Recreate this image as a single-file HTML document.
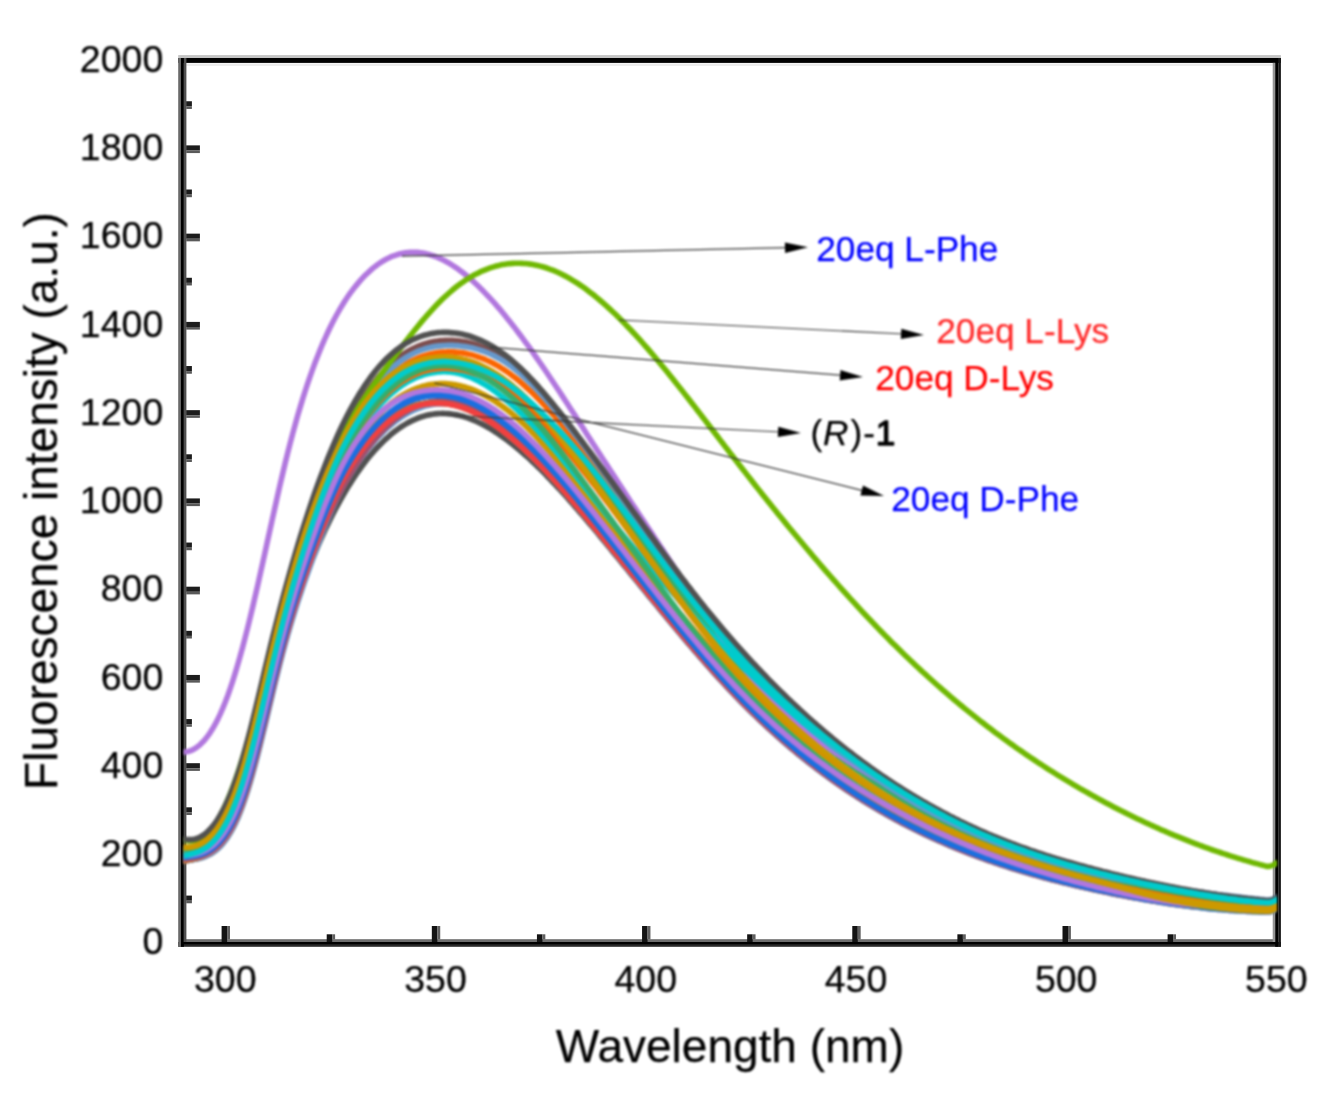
<!DOCTYPE html>
<html lang="en"><head><meta charset="utf-8"><title>Fluorescence spectra</title>
<style>html,body{margin:0;padding:0;background:#fff;overflow:hidden}svg{display:block}text{font-family:"Liberation Sans",Arial,Helvetica,sans-serif;fill:#000;stroke:#000;stroke-width:0.25px;stroke-linejoin:round}.tk{font-size:37.5px}.ti{font-size:46px}.an{font-size:35.2px}</style></head><body>
<svg width="1325" height="1095" viewBox="0 0 1325 1095">
<rect width="1325" height="1095" fill="#fff"/>
<defs><clipPath id="pc"><rect x="183.7" y="60.3" width="1093.3" height="882.6"/></clipPath><filter id="bl" x="-5%" y="-5%" width="110%" height="110%"><feGaussianBlur stdDeviation="0.9"/></filter></defs>
<g>
<rect x="178.20" y="55.10" width="1102.70" height="3.00" fill="#c4c4c4"/>
<rect x="178.20" y="58.00" width="1102.70" height="4.90" fill="#000"/>
<rect x="186.40" y="63.50" width="1086.30" height="2.40" fill="#ececec"/>
<rect x="186.00" y="939.20" width="1087.00" height="2.90" fill="#6e6e6e"/>
<rect x="178.20" y="942.00" width="1102.70" height="2.90" fill="#000"/>
<rect x="178.20" y="944.80" width="1102.70" height="2.00" fill="#2a2a2a"/>
<rect x="178.20" y="58.00" width="2.80" height="888.80" fill="#6a6a6a"/>
<rect x="180.95" y="58.00" width="2.95" height="888.80" fill="#000"/>
<rect x="183.90" y="58.00" width="2.50" height="884.00" fill="#505050"/>
<rect x="1272.70" y="62.90" width="2.50" height="879.10" fill="#959595"/>
<rect x="1275.20" y="58.00" width="3.00" height="888.80" fill="#000"/>
<rect x="1278.20" y="58.00" width="2.70" height="888.80" fill="#181818"/>
<rect x="186.20" y="895.59" width="5.70" height="5.10" fill="#1c1c1c"/>
<rect x="186.20" y="900.69" width="5.70" height="2.60" fill="#5a5a5a"/>
<rect x="186.20" y="851.46" width="13.70" height="5.10" fill="#1c1c1c"/>
<rect x="186.20" y="856.56" width="13.70" height="2.60" fill="#5a5a5a"/>
<rect x="186.20" y="807.33" width="5.70" height="5.10" fill="#1c1c1c"/>
<rect x="186.20" y="812.43" width="5.70" height="2.60" fill="#5a5a5a"/>
<rect x="186.20" y="763.20" width="13.70" height="5.10" fill="#1c1c1c"/>
<rect x="186.20" y="768.30" width="13.70" height="2.60" fill="#5a5a5a"/>
<rect x="186.20" y="719.07" width="5.70" height="5.10" fill="#1c1c1c"/>
<rect x="186.20" y="724.17" width="5.70" height="2.60" fill="#5a5a5a"/>
<rect x="186.20" y="674.94" width="13.70" height="5.10" fill="#1c1c1c"/>
<rect x="186.20" y="680.04" width="13.70" height="2.60" fill="#5a5a5a"/>
<rect x="186.20" y="630.81" width="5.70" height="5.10" fill="#1c1c1c"/>
<rect x="186.20" y="635.91" width="5.70" height="2.60" fill="#5a5a5a"/>
<rect x="186.20" y="586.68" width="13.70" height="5.10" fill="#1c1c1c"/>
<rect x="186.20" y="591.78" width="13.70" height="2.60" fill="#5a5a5a"/>
<rect x="186.20" y="542.55" width="5.70" height="5.10" fill="#1c1c1c"/>
<rect x="186.20" y="547.65" width="5.70" height="2.60" fill="#5a5a5a"/>
<rect x="186.20" y="498.42" width="13.70" height="5.10" fill="#1c1c1c"/>
<rect x="186.20" y="503.52" width="13.70" height="2.60" fill="#5a5a5a"/>
<rect x="186.20" y="454.29" width="5.70" height="5.10" fill="#1c1c1c"/>
<rect x="186.20" y="459.39" width="5.70" height="2.60" fill="#5a5a5a"/>
<rect x="186.20" y="410.16" width="13.70" height="5.10" fill="#1c1c1c"/>
<rect x="186.20" y="415.26" width="13.70" height="2.60" fill="#5a5a5a"/>
<rect x="186.20" y="366.03" width="5.70" height="5.10" fill="#1c1c1c"/>
<rect x="186.20" y="371.13" width="5.70" height="2.60" fill="#5a5a5a"/>
<rect x="186.20" y="321.90" width="13.70" height="5.10" fill="#1c1c1c"/>
<rect x="186.20" y="327.00" width="13.70" height="2.60" fill="#5a5a5a"/>
<rect x="186.20" y="277.77" width="5.70" height="5.10" fill="#1c1c1c"/>
<rect x="186.20" y="282.87" width="5.70" height="2.60" fill="#5a5a5a"/>
<rect x="186.20" y="233.64" width="13.70" height="5.10" fill="#1c1c1c"/>
<rect x="186.20" y="238.74" width="13.70" height="2.60" fill="#5a5a5a"/>
<rect x="186.20" y="189.51" width="5.70" height="5.10" fill="#1c1c1c"/>
<rect x="186.20" y="194.61" width="5.70" height="2.60" fill="#5a5a5a"/>
<rect x="186.20" y="145.38" width="13.70" height="5.10" fill="#1c1c1c"/>
<rect x="186.20" y="150.48" width="13.70" height="2.60" fill="#5a5a5a"/>
<rect x="186.20" y="101.25" width="5.70" height="5.10" fill="#1c1c1c"/>
<rect x="186.20" y="106.35" width="5.70" height="2.60" fill="#5a5a5a"/>
<rect x="221.60" y="926.00" width="5.50" height="16.00" fill="#141414"/>
<rect x="227.10" y="926.00" width="2.90" height="13.40" fill="#606060"/>
<rect x="326.71" y="934.30" width="5.50" height="7.70" fill="#141414"/>
<rect x="332.21" y="934.30" width="2.90" height="5.10" fill="#606060"/>
<rect x="431.83" y="926.00" width="5.50" height="16.00" fill="#141414"/>
<rect x="437.33" y="926.00" width="2.90" height="13.40" fill="#606060"/>
<rect x="536.94" y="934.30" width="5.50" height="7.70" fill="#141414"/>
<rect x="542.44" y="934.30" width="2.90" height="5.10" fill="#606060"/>
<rect x="642.05" y="926.00" width="5.50" height="16.00" fill="#141414"/>
<rect x="647.55" y="926.00" width="2.90" height="13.40" fill="#606060"/>
<rect x="747.16" y="934.30" width="5.50" height="7.70" fill="#141414"/>
<rect x="752.66" y="934.30" width="2.90" height="5.10" fill="#606060"/>
<rect x="852.28" y="926.00" width="5.50" height="16.00" fill="#141414"/>
<rect x="857.78" y="926.00" width="2.90" height="13.40" fill="#606060"/>
<rect x="957.39" y="934.30" width="5.50" height="7.70" fill="#141414"/>
<rect x="962.89" y="934.30" width="2.90" height="5.10" fill="#606060"/>
<rect x="1062.50" y="926.00" width="5.50" height="16.00" fill="#141414"/>
<rect x="1068.00" y="926.00" width="2.90" height="13.40" fill="#606060"/>
<rect x="1167.61" y="934.30" width="5.50" height="7.70" fill="#141414"/>
<rect x="1173.11" y="934.30" width="2.90" height="5.10" fill="#606060"/>
</g>
<g style="filter:blur(0.9px)">
<g clip-path="url(#pc)" fill="none" stroke-linejoin="round" stroke-linecap="butt">
<path d="M182.7,854.5 185.2,854.5 187.7,854.5 190.2,854.5 192.7,854.4 195.2,854.1 197.7,853.7 200.2,853.2 202.7,852.4 205.2,851.5 207.7,850.4 210.2,849.1 212.7,847.5 215.2,845.6 217.7,843.4 220.2,840.9 222.7,838.1 225.2,834.9 227.7,831.3 230.2,827.2 232.7,822.7 235.2,817.7 237.7,812.2 240.2,806.2 242.7,799.6 245.2,792.5 247.7,784.8 250.2,776.7 252.7,768.0 255.2,759.0 257.7,749.7 260.2,740.0 262.7,730.1 265.2,720.1 267.7,709.9 270.2,699.6 272.7,689.4 275.2,679.2 277.7,669.2 280.2,659.5 282.7,650.2 285.2,641.1 287.7,632.3 290.2,623.8 292.7,615.5 295.2,607.5 297.7,599.8 300.2,592.3 302.7,585.1 305.2,578.0 307.7,571.3 310.2,564.7 312.7,558.4 315.2,552.3 317.7,546.3 320.2,540.6 322.7,535.0 325.2,529.6 327.7,524.4 330.2,519.3 332.7,514.3 335.2,509.5 337.7,504.8 340.2,500.3 342.7,495.9 345.2,491.6 347.7,487.4 350.2,483.4 352.7,479.5 355.2,475.7 357.7,472.0 360.2,468.5 362.7,465.1 365.2,461.8 367.7,458.6 370.2,455.5 372.7,452.6 375.2,449.7 377.7,447.0 380.2,444.4 382.7,441.9 385.2,439.5 387.7,437.3 390.2,435.1 392.7,433.1 395.2,431.1 397.7,429.3 400.2,427.5 402.7,425.9 405.2,424.4 407.7,422.9 410.2,421.6 412.7,420.4 415.2,419.3 417.7,418.2 420.2,417.3 422.7,416.5 425.2,415.8 427.7,415.1 430.2,414.6 432.7,414.2 435.2,413.8 437.7,413.6 440.2,413.5 442.7,413.4 445.2,413.5 447.7,413.6 450.2,413.8 452.7,414.2 455.2,414.6 457.7,415.1 460.2,415.7 462.7,416.3 465.2,417.1 467.7,417.9 470.2,418.8 472.7,419.8 475.2,420.8 477.7,422.0 480.2,423.2 482.7,424.4 485.2,425.8 487.7,427.2 490.2,428.6 492.7,430.2 495.2,431.8 497.7,433.4 500.2,435.1 502.7,436.9 505.2,438.7 507.7,440.5 510.2,442.5 512.7,444.4 515.2,446.5 517.7,448.5 520.2,450.6 522.7,452.8 525.2,455.0 527.7,457.2 530.2,459.5 532.7,461.9 535.2,464.2 537.7,466.6 540.2,469.1 542.7,471.6 545.2,474.1 547.7,476.7 550.2,479.3 552.7,481.9 555.2,484.5 557.7,487.2 560.2,489.9 562.7,492.7 565.2,495.4 567.7,498.2 570.2,501.1 572.7,503.9 575.2,506.8 577.7,509.6 580.2,512.6 582.7,515.5 585.2,518.4 587.7,521.4 590.2,524.3 592.7,527.3 595.2,530.3 597.7,533.3 600.2,536.4 602.7,539.4 605.2,542.4 607.7,545.5 610.2,548.5 612.7,551.6 615.2,554.7 617.7,557.7 620.2,560.8 622.7,563.9 625.2,567.0 627.7,570.0 630.2,573.1 632.7,576.2 635.2,579.3 637.7,582.3 640.2,585.4 642.7,588.5 645.2,591.5 647.7,594.6 650.2,597.7 652.7,600.7 655.2,603.8 657.7,606.8 660.2,609.9 662.7,612.9 665.2,615.9 667.7,619.0 670.2,622.0 672.7,625.0 675.2,628.0 677.7,631.0 680.2,633.9 682.7,636.9 685.2,639.9 687.7,642.8 690.2,645.7 692.7,648.6 695.2,651.6 697.7,654.4 700.2,657.3 702.7,660.2 705.2,663.0 707.7,665.8 710.2,668.7 712.7,671.5 715.2,674.2 717.7,677.0 720.2,679.7 722.7,682.4 725.2,685.1 727.7,687.8 730.2,690.5 732.7,693.1 735.2,695.7 737.7,698.3 740.2,700.9 742.7,703.4 745.2,705.9 747.7,708.4 750.2,710.9 752.7,713.4 755.2,715.8 757.7,718.2 760.2,720.6 762.7,722.9 765.2,725.3 767.7,727.6 770.2,729.9 772.7,732.2 775.2,734.4 777.7,736.6 780.2,738.8 782.7,741.0 785.2,743.2 787.7,745.3 790.2,747.5 792.7,749.6 795.2,751.6 797.7,753.7 800.2,755.7 802.7,757.7 805.2,759.7 807.7,761.7 810.2,763.7 812.7,765.6 815.2,767.5 817.7,769.4 820.2,771.3 822.7,773.2 825.2,775.0 827.7,776.8 830.2,778.7 832.7,780.4 835.2,782.2 837.7,784.0 840.2,785.7 842.7,787.4 845.2,789.1 847.7,790.8 850.2,792.4 852.7,794.1 855.2,795.7 857.7,797.3 860.2,798.9 862.7,800.5 865.2,802.0 867.7,803.5 870.2,805.1 872.7,806.6 875.2,808.1 877.7,809.5 880.2,811.0 882.7,812.4 885.2,813.9 887.7,815.3 890.2,816.7 892.7,818.0 895.2,819.4 897.7,820.7 900.2,822.1 902.7,823.4 905.2,824.7 907.7,826.0 910.2,827.3 912.7,828.5 915.2,829.8 917.7,831.0 920.2,832.2 922.7,833.4 925.2,834.6 927.7,835.8 930.2,836.9 932.7,838.1 935.2,839.2 937.7,840.3 940.2,841.4 942.7,842.5 945.2,843.6 947.7,844.7 950.2,845.8 952.7,846.8 955.2,847.8 957.7,848.9 960.2,849.9 962.7,850.9 965.2,851.8 967.7,852.8 970.2,853.8 972.7,854.7 975.2,855.7 977.7,856.6 980.2,857.5 982.7,858.4 985.2,859.3 987.7,860.2 990.2,861.1 992.7,861.9 995.2,862.8 997.7,863.6 1000.2,864.5 1002.7,865.3 1005.2,866.1 1007.7,866.9 1010.2,867.7 1012.7,868.5 1015.2,869.3 1017.7,870.0 1020.2,870.8 1022.7,871.5 1025.2,872.3 1027.7,873.0 1030.2,873.7 1032.7,874.4 1035.2,875.1 1037.7,875.8 1040.2,876.5 1042.7,877.2 1045.2,877.9 1047.7,878.6 1050.2,879.2 1052.7,879.9 1055.2,880.5 1057.7,881.1 1060.2,881.8 1062.7,882.4 1065.2,883.0 1067.7,883.6 1070.2,884.2 1072.7,884.8 1075.2,885.4 1077.7,886.0 1080.2,886.6 1082.7,887.1 1085.2,887.7 1087.7,888.3 1090.2,888.8 1092.7,889.4 1095.2,889.9 1097.7,890.4 1100.2,891.0 1102.7,891.5 1105.2,892.0 1107.7,892.5 1110.2,893.1 1112.7,893.6 1115.2,894.1 1117.7,894.6 1120.2,895.1 1122.7,895.5 1125.2,896.0 1127.7,896.5 1130.2,897.0 1132.7,897.4 1135.2,897.9 1137.7,898.3 1140.2,898.8 1142.7,899.2 1145.2,899.7 1147.7,900.1 1150.2,900.5 1152.7,900.9 1155.2,901.3 1157.7,901.7 1160.2,902.1 1162.7,902.5 1165.2,902.9 1167.7,903.3 1170.2,903.6 1172.7,904.0 1175.2,904.4 1177.7,904.7 1180.2,905.0 1182.7,905.4 1185.2,905.7 1187.7,906.0 1190.2,906.3 1192.7,906.6 1195.2,906.9 1197.7,907.2 1200.2,907.5 1202.7,907.8 1205.2,908.1 1207.7,908.3 1210.2,908.6 1212.7,908.8 1215.2,909.0 1217.7,909.3 1220.2,909.5 1222.7,909.7 1225.2,909.9 1227.7,910.1 1230.2,910.3 1232.7,910.5 1235.2,910.6 1237.7,910.8 1240.2,911.0 1242.7,911.1 1245.2,911.2 1247.7,911.4 1250.2,911.5 1252.7,911.6 1255.2,911.7 1257.7,911.8 1260.2,911.9 1262.7,912.0 1265.2,912.0 1267.7,912.1 1270.2,911.7 1272.7,910.9 1275.2,909.5 1277.7,907.6" stroke="#515151" stroke-width="5.7"/>
<path d="M182.7,861.2 185.2,860.8 187.7,860.5 190.2,860.1 192.7,859.8 195.2,859.3 197.7,858.8 200.2,858.2 202.7,857.5 205.2,856.6 207.7,855.5 210.2,854.3 212.7,852.8 215.2,851.0 217.7,848.9 220.2,846.5 222.7,843.8 225.2,840.6 227.7,837.1 230.2,833.1 232.7,828.7 235.2,823.7 237.7,818.3 240.2,812.2 242.7,805.6 245.2,798.4 247.7,790.7 250.2,782.4 252.7,773.6 255.2,764.4 257.7,754.9 260.2,745.0 262.7,734.9 265.2,724.6 267.7,714.1 270.2,703.6 272.7,693.1 275.2,682.7 277.7,672.5 280.2,662.6 282.7,653.0 285.2,643.8 287.7,634.8 290.2,626.2 292.7,617.9 295.2,609.8 297.7,602.0 300.2,594.5 302.7,587.1 305.2,579.9 307.7,572.8 310.2,565.7 312.7,558.8 315.2,552.0 317.7,545.3 320.2,538.7 322.7,532.3 325.2,526.0 327.7,519.9 330.2,513.9 332.7,508.1 335.2,502.6 337.7,497.2 340.2,492.2 342.7,487.4 345.2,482.9 347.7,478.7 350.2,474.5 352.7,470.6 355.2,466.7 357.7,463.0 360.2,459.4 362.7,455.9 365.2,452.5 367.7,449.3 370.2,446.2 372.7,443.2 375.2,440.3 377.7,437.6 380.2,435.0 382.7,432.4 385.2,430.0 387.7,427.7 390.2,425.5 392.7,423.5 395.2,421.5 397.7,419.7 400.2,417.9 402.7,416.3 405.2,414.7 407.7,413.3 410.2,412.0 412.7,410.7 415.2,409.6 417.7,408.6 420.2,407.7 422.7,406.8 425.2,406.1 427.7,405.5 430.2,405.0 432.7,404.5 435.2,404.2 437.7,404.0 440.2,403.8 442.7,403.8 445.2,403.8 447.7,404.0 450.2,404.2 452.7,404.6 455.2,405.0 457.7,405.6 460.2,406.3 462.7,407.0 465.2,407.9 467.7,408.9 470.2,409.9 472.7,411.1 475.2,412.3 477.7,413.6 480.2,415.0 482.7,416.5 485.2,418.0 487.7,419.6 490.2,421.3 492.7,423.1 495.2,424.9 497.7,426.7 500.2,428.7 502.7,430.6 505.2,432.7 507.7,434.7 510.2,436.8 512.7,439.0 515.2,441.2 517.7,443.4 520.2,445.7 522.7,448.0 525.2,450.3 527.7,452.7 530.2,455.2 532.7,457.6 535.2,460.1 537.7,462.7 540.2,465.3 542.7,467.9 545.2,470.6 547.7,473.3 550.2,476.0 552.7,478.7 555.2,481.5 557.7,484.3 560.2,487.2 562.7,490.0 565.2,492.9 567.7,495.8 570.2,498.7 572.7,501.7 575.2,504.6 577.7,507.6 580.2,510.6 582.7,513.6 585.2,516.6 587.7,519.7 590.2,522.7 592.7,525.8 595.2,528.8 597.7,531.9 600.2,535.0 602.7,538.0 605.2,541.1 607.7,544.2 610.2,547.3 612.7,550.4 615.2,553.5 617.7,556.6 620.2,559.7 622.7,562.8 625.2,566.0 627.7,569.1 630.2,572.2 632.7,575.3 635.2,578.4 637.7,581.5 640.2,584.6 642.7,587.7 645.2,590.8 647.7,593.9 650.2,597.0 652.7,600.1 655.2,603.2 657.7,606.3 660.2,609.3 662.7,612.4 665.2,615.5 667.7,618.5 670.2,621.6 672.7,624.6 675.2,627.6 677.7,630.6 680.2,633.6 682.7,636.6 685.2,639.6 687.7,642.5 690.2,645.5 692.7,648.4 695.2,651.3 697.7,654.2 700.2,657.1 702.7,660.0 705.2,662.9 707.7,665.7 710.2,668.5 712.7,671.3 715.2,674.1 717.7,676.9 720.2,679.6 722.7,682.4 725.2,685.1 727.7,687.8 730.2,690.4 732.7,693.1 735.2,695.7 737.7,698.3 740.2,700.9 742.7,703.4 745.2,705.9 747.7,708.4 750.2,710.9 752.7,713.4 755.2,715.8 757.7,718.2 760.2,720.6 762.7,722.9 765.2,725.3 767.7,727.6 770.2,729.9 772.7,732.2 775.2,734.4 777.7,736.6 780.2,738.8 782.7,741.0 785.2,743.2 787.7,745.3 790.2,747.5 792.7,749.6 795.2,751.6 797.7,753.7 800.2,755.7 802.7,757.7 805.2,759.7 807.7,761.7 810.2,763.7 812.7,765.6 815.2,767.5 817.7,769.4 820.2,771.3 822.7,773.2 825.2,775.0 827.7,776.8 830.2,778.7 832.7,780.4 835.2,782.2 837.7,784.0 840.2,785.7 842.7,787.4 845.2,789.1 847.7,790.8 850.2,792.4 852.7,794.1 855.2,795.7 857.7,797.3 860.2,798.9 862.7,800.5 865.2,802.0 867.7,803.5 870.2,805.1 872.7,806.6 875.2,808.1 877.7,809.5 880.2,811.0 882.7,812.4 885.2,813.9 887.7,815.3 890.2,816.7 892.7,818.0 895.2,819.4 897.7,820.7 900.2,822.1 902.7,823.4 905.2,824.7 907.7,826.0 910.2,827.3 912.7,828.5 915.2,829.8 917.7,831.0 920.2,832.2 922.7,833.4 925.2,834.6 927.7,835.8 930.2,836.9 932.7,838.1 935.2,839.2 937.7,840.3 940.2,841.4 942.7,842.5 945.2,843.6 947.7,844.7 950.2,845.8 952.7,846.8 955.2,847.8 957.7,848.9 960.2,849.9 962.7,850.9 965.2,851.8 967.7,852.8 970.2,853.8 972.7,854.7 975.2,855.7 977.7,856.6 980.2,857.5 982.7,858.4 985.2,859.3 987.7,860.2 990.2,861.1 992.7,861.9 995.2,862.8 997.7,863.6 1000.2,864.5 1002.7,865.3 1005.2,866.1 1007.7,866.9 1010.2,867.7 1012.7,868.5 1015.2,869.3 1017.7,870.0 1020.2,870.8 1022.7,871.5 1025.2,872.3 1027.7,873.0 1030.2,873.7 1032.7,874.4 1035.2,875.1 1037.7,875.8 1040.2,876.5 1042.7,877.2 1045.2,877.9 1047.7,878.6 1050.2,879.2 1052.7,879.9 1055.2,880.5 1057.7,881.1 1060.2,881.8 1062.7,882.4 1065.2,883.0 1067.7,883.6 1070.2,884.2 1072.7,884.8 1075.2,885.4 1077.7,886.0 1080.2,886.6 1082.7,887.1 1085.2,887.7 1087.7,888.3 1090.2,888.8 1092.7,889.4 1095.2,889.9 1097.7,890.4 1100.2,891.0 1102.7,891.5 1105.2,892.0 1107.7,892.5 1110.2,893.1 1112.7,893.6 1115.2,894.1 1117.7,894.6 1120.2,895.1 1122.7,895.5 1125.2,896.0 1127.7,896.5 1130.2,897.0 1132.7,897.4 1135.2,897.9 1137.7,898.3 1140.2,898.8 1142.7,899.2 1145.2,899.7 1147.7,900.1 1150.2,900.5 1152.7,900.9 1155.2,901.3 1157.7,901.7 1160.2,902.1 1162.7,902.5 1165.2,902.9 1167.7,903.3 1170.2,903.6 1172.7,904.0 1175.2,904.4 1177.7,904.7 1180.2,905.0 1182.7,905.4 1185.2,905.7 1187.7,906.0 1190.2,906.3 1192.7,906.6 1195.2,906.9 1197.7,907.2 1200.2,907.5 1202.7,907.8 1205.2,908.1 1207.7,908.3 1210.2,908.6 1212.7,908.8 1215.2,909.0 1217.7,909.3 1220.2,909.5 1222.7,909.7 1225.2,909.9 1227.7,910.1 1230.2,910.3 1232.7,910.5 1235.2,910.6 1237.7,910.8 1240.2,911.0 1242.7,911.1 1245.2,911.2 1247.7,911.4 1250.2,911.5 1252.7,911.6 1255.2,911.7 1257.7,911.8 1260.2,911.9 1262.7,912.0 1265.2,912.0 1267.7,912.1 1270.2,911.7 1272.7,910.9 1275.2,909.5 1277.7,907.6" stroke="#6699CC" stroke-width="5.7"/>
<path d="M182.7,859.0 185.2,858.7 187.7,858.4 190.2,858.1 192.7,857.8 195.2,857.4 197.7,856.8 200.2,856.2 202.7,855.4 205.2,854.4 207.7,853.3 210.2,851.9 212.7,850.2 215.2,848.3 217.7,846.1 220.2,843.5 222.7,840.6 225.2,837.3 227.7,833.6 230.2,829.5 232.7,824.8 235.2,819.7 237.7,814.1 240.2,807.9 242.7,801.1 245.2,793.7 247.7,785.8 250.2,777.3 252.7,768.4 255.2,759.1 257.7,749.4 260.2,739.4 262.7,729.2 265.2,718.8 267.7,708.3 270.2,697.8 272.7,687.2 275.2,676.8 277.7,666.6 280.2,656.7 282.7,647.1 285.2,637.8 287.7,628.8 290.2,620.1 292.7,611.6 295.2,603.5 297.7,595.6 300.2,587.9 302.7,580.5 305.2,573.3 307.7,566.3 310.2,559.6 312.7,553.0 315.2,546.6 317.7,540.5 320.2,534.4 322.7,528.6 325.2,522.9 327.7,517.4 330.2,512.1 332.7,506.8 335.2,501.8 337.7,496.8 340.2,492.0 342.7,487.4 345.2,482.9 347.7,478.5 350.2,474.3 352.7,470.2 355.2,466.3 357.7,462.4 360.2,458.7 362.7,455.1 365.2,451.6 367.7,448.3 370.2,445.1 372.7,442.0 375.2,439.0 377.7,436.1 380.2,433.4 382.7,430.8 385.2,428.2 387.7,425.9 390.2,423.6 392.7,421.4 395.2,419.3 397.7,417.4 400.2,415.5 402.7,413.8 405.2,412.2 407.7,410.7 410.2,409.3 412.7,408.0 415.2,406.8 417.7,405.7 420.2,404.7 422.7,403.8 425.2,403.1 427.7,402.4 430.2,401.8 432.7,401.3 435.2,401.0 437.7,400.7 440.2,400.5 442.7,400.5 445.2,400.5 447.7,400.6 450.2,400.9 452.7,401.2 455.2,401.6 457.7,402.2 460.2,402.8 462.7,403.6 465.2,404.4 467.7,405.3 470.2,406.4 472.7,407.5 475.2,408.7 477.7,409.9 480.2,411.3 482.7,412.7 485.2,414.2 487.7,415.8 490.2,417.4 492.7,419.1 495.2,420.9 497.7,422.8 500.2,424.6 502.7,426.6 505.2,428.6 507.7,430.6 510.2,432.7 512.7,434.9 515.2,437.1 517.7,439.3 520.2,441.5 522.7,443.8 525.2,446.2 527.7,448.6 530.2,451.1 532.7,453.5 535.2,456.1 537.7,458.7 540.2,461.3 542.7,463.9 545.2,466.6 547.7,469.3 550.2,472.1 552.7,474.9 555.2,477.7 557.7,480.5 560.2,483.4 562.7,486.3 565.2,489.2 567.7,492.1 570.2,495.0 572.7,498.0 575.2,501.0 577.7,504.0 580.2,507.0 582.7,510.0 585.2,513.1 587.7,516.1 590.2,519.2 592.7,522.2 595.2,525.3 597.7,528.4 600.2,531.4 602.7,534.5 605.2,537.6 607.7,540.7 610.2,543.8 612.7,546.9 615.2,550.0 617.7,553.1 620.2,556.2 622.7,559.3 625.2,562.5 627.7,565.6 630.2,568.7 632.7,571.8 635.2,574.9 637.7,578.0 640.2,581.2 642.7,584.3 645.2,587.4 647.7,590.5 650.2,593.6 652.7,596.7 655.2,599.7 657.7,602.8 660.2,605.9 662.7,609.0 665.2,612.0 667.7,615.1 670.2,618.1 672.7,621.2 675.2,624.2 677.7,627.2 680.2,630.2 682.7,633.2 685.2,636.2 687.7,639.2 690.2,642.1 692.7,645.1 695.2,648.0 697.7,650.9 700.2,653.8 702.7,656.7 705.2,659.5 707.7,662.4 710.2,665.2 712.7,668.0 715.2,670.8 717.7,673.6 720.2,676.4 722.7,679.1 725.2,681.8 727.7,684.5 730.2,687.2 732.7,689.9 735.2,692.5 737.7,695.1 740.2,697.7 742.7,700.3 745.2,702.8 747.7,705.3 750.2,707.8 752.7,710.3 755.2,712.7 757.7,715.2 760.2,717.6 762.7,720.0 765.2,722.3 767.7,724.7 770.2,727.0 772.7,729.3 775.2,731.6 777.7,733.8 780.2,736.0 782.7,738.2 785.2,740.4 787.7,742.6 790.2,744.7 792.7,746.9 795.2,749.0 797.7,751.1 800.2,753.1 802.7,755.2 805.2,757.2 807.7,759.2 810.2,761.2 812.7,763.1 815.2,765.1 817.7,767.0 820.2,768.9 822.7,770.8 825.2,772.7 827.7,774.5 830.2,776.3 832.7,778.2 835.2,779.9 837.7,781.7 840.2,783.5 842.7,785.2 845.2,786.9 847.7,788.6 850.2,790.3 852.7,792.0 855.2,793.6 857.7,795.2 860.2,796.8 862.7,798.4 865.2,800.0 867.7,801.6 870.2,803.1 872.7,804.6 875.2,806.1 877.7,807.6 880.2,809.1 882.7,810.6 885.2,812.0 887.7,813.4 890.2,814.9 892.7,816.2 895.2,817.6 897.7,819.0 900.2,820.3 902.7,821.7 905.2,823.0 907.7,824.3 910.2,825.6 912.7,826.9 915.2,828.1 917.7,829.4 920.2,830.6 922.7,831.8 925.2,833.0 927.7,834.2 930.2,835.4 932.7,836.5 935.2,837.7 937.7,838.8 940.2,839.9 942.7,841.0 945.2,842.1 947.7,843.2 950.2,844.3 952.7,845.3 955.2,846.4 957.7,847.4 960.2,848.4 962.7,849.4 965.2,850.4 967.7,851.4 970.2,852.4 972.7,853.3 975.2,854.3 977.7,855.2 980.2,856.2 982.7,857.1 985.2,858.0 987.7,858.9 990.2,859.8 992.7,860.6 995.2,861.5 997.7,862.4 1000.2,863.2 1002.7,864.0 1005.2,864.8 1007.7,865.7 1010.2,866.5 1012.7,867.3 1015.2,868.0 1017.7,868.8 1020.2,869.6 1022.7,870.3 1025.2,871.1 1027.7,871.8 1030.2,872.5 1032.7,873.3 1035.2,874.0 1037.7,874.7 1040.2,875.4 1042.7,876.1 1045.2,876.7 1047.7,877.4 1050.2,878.1 1052.7,878.7 1055.2,879.4 1057.7,880.0 1060.2,880.7 1062.7,881.3 1065.2,881.9 1067.7,882.5 1070.2,883.1 1072.7,883.7 1075.2,884.3 1077.7,884.9 1080.2,885.5 1082.7,886.1 1085.2,886.7 1087.7,887.2 1090.2,887.8 1092.7,888.3 1095.2,888.9 1097.7,889.4 1100.2,890.0 1102.7,890.5 1105.2,891.0 1107.7,891.5 1110.2,892.1 1112.7,892.6 1115.2,893.1 1117.7,893.6 1120.2,894.1 1122.7,894.6 1125.2,895.1 1127.7,895.5 1130.2,896.0 1132.7,896.5 1135.2,896.9 1137.7,897.4 1140.2,897.9 1142.7,898.3 1145.2,898.7 1147.7,899.2 1150.2,899.6 1152.7,900.0 1155.2,900.4 1157.7,900.8 1160.2,901.2 1162.7,901.6 1165.2,902.0 1167.7,902.4 1170.2,902.8 1172.7,903.2 1175.2,903.5 1177.7,903.9 1180.2,904.2 1182.7,904.6 1185.2,904.9 1187.7,905.2 1190.2,905.5 1192.7,905.8 1195.2,906.1 1197.7,906.4 1200.2,906.7 1202.7,907.0 1205.2,907.3 1207.7,907.6 1210.2,907.8 1212.7,908.1 1215.2,908.3 1217.7,908.5 1220.2,908.8 1222.7,909.0 1225.2,909.2 1227.7,909.4 1230.2,909.6 1232.7,909.8 1235.2,910.0 1237.7,910.1 1240.2,910.3 1242.7,910.5 1245.2,910.6 1247.7,910.7 1250.2,910.9 1252.7,911.0 1255.2,911.1 1257.7,911.2 1260.2,911.3 1262.7,911.4 1265.2,911.4 1267.7,911.5 1270.2,911.2 1272.7,910.3 1275.2,909.0 1277.7,907.1" stroke="#A0506E" stroke-width="5.7"/>
<path d="M182.7,856.7 185.2,856.5 187.7,856.2 190.2,855.9 192.7,855.5 195.2,855.0 197.7,854.4 200.2,853.6 202.7,852.7 205.2,851.5 207.7,850.2 210.2,848.6 212.7,846.7 215.2,844.5 217.7,842.0 220.2,839.2 222.7,836.0 225.2,832.4 227.7,828.4 230.2,824.0 232.7,819.1 235.2,813.7 237.7,807.8 240.2,801.3 242.7,794.3 245.2,786.7 247.7,778.5 250.2,769.8 252.7,760.7 255.2,751.2 257.7,741.3 260.2,731.2 262.7,720.9 265.2,710.4 267.7,699.9 270.2,689.3 272.7,678.7 275.2,668.3 277.7,658.1 280.2,648.2 282.7,638.5 285.2,629.2 287.7,620.1 290.2,611.3 292.7,602.7 295.2,594.4 297.7,586.4 300.2,578.6 302.7,571.0 305.2,563.6 307.7,556.4 310.2,549.4 312.7,542.6 315.2,536.0 317.7,529.5 320.2,523.3 322.7,517.2 325.2,511.2 327.7,505.5 330.2,499.9 332.7,494.5 335.2,489.2 337.7,484.1 340.2,479.2 342.7,474.5 345.2,469.9 347.7,465.6 350.2,461.3 352.7,457.2 355.2,453.3 357.7,449.5 360.2,445.9 362.7,442.4 365.2,439.0 367.7,435.8 370.2,432.7 372.7,429.7 375.2,426.8 377.7,424.1 380.2,421.6 382.7,419.1 385.2,416.8 387.7,414.6 390.2,412.5 392.7,410.5 395.2,408.6 397.7,406.9 400.2,405.3 402.7,403.7 405.2,402.3 407.7,401.0 410.2,399.8 412.7,398.8 415.2,397.8 417.7,396.9 420.2,396.1 422.7,395.4 425.2,394.8 427.7,394.3 430.2,394.0 432.7,393.7 435.2,393.4 437.7,393.3 440.2,393.3 442.7,393.4 445.2,393.5 447.7,393.8 450.2,394.1 452.7,394.5 455.2,395.0 457.7,395.6 460.2,396.2 462.7,397.0 465.2,397.8 467.7,398.8 470.2,399.7 472.7,400.8 475.2,402.0 477.7,403.2 480.2,404.5 482.7,405.9 485.2,407.3 487.7,408.8 490.2,410.4 492.7,412.0 495.2,413.7 497.7,415.5 500.2,417.3 502.7,419.2 505.2,421.2 507.7,423.2 510.2,425.3 512.7,427.4 515.2,429.6 517.7,431.8 520.2,434.1 522.7,436.4 525.2,438.8 527.7,441.2 530.2,443.7 532.7,446.3 535.2,448.8 537.7,451.5 540.2,454.1 542.7,456.8 545.2,459.5 547.7,462.3 550.2,465.1 552.7,467.9 555.2,470.8 557.7,473.7 560.2,476.6 562.7,479.6 565.2,482.5 567.7,485.5 570.2,488.5 572.7,491.6 575.2,494.6 577.7,497.7 580.2,500.7 582.7,503.8 585.2,506.9 587.7,510.1 590.2,513.2 592.7,516.3 595.2,519.5 597.7,522.6 600.2,525.8 602.7,529.0 605.2,532.1 607.7,535.3 610.2,538.5 612.7,541.7 615.2,544.9 617.7,548.1 620.2,551.2 622.7,554.4 625.2,557.6 627.7,560.8 630.2,564.0 632.7,567.2 635.2,570.4 637.7,573.6 640.2,576.7 642.7,579.9 645.2,583.1 647.7,586.3 650.2,589.4 652.7,592.6 655.2,595.7 657.7,598.9 660.2,602.0 662.7,605.1 665.2,608.3 667.7,611.4 670.2,614.5 672.7,617.6 675.2,620.7 677.7,623.7 680.2,626.8 682.7,629.8 685.2,632.9 687.7,635.9 690.2,638.9 692.7,641.9 695.2,644.9 697.7,647.8 700.2,650.8 702.7,653.7 705.2,656.6 707.7,659.5 710.2,662.4 712.7,665.2 715.2,668.1 717.7,670.9 720.2,673.7 722.7,676.5 725.2,679.3 727.7,682.0 730.2,684.7 732.7,687.4 735.2,690.1 737.7,692.7 740.2,695.4 742.7,698.0 745.2,700.6 747.7,703.1 750.2,705.7 752.7,708.2 755.2,710.7 757.7,713.1 760.2,715.6 762.7,718.0 765.2,720.4 767.7,722.8 770.2,725.2 772.7,727.5 775.2,729.8 777.7,732.1 780.2,734.4 782.7,736.6 785.2,738.9 787.7,741.1 790.2,743.3 792.7,745.5 795.2,747.6 797.7,749.7 800.2,751.8 802.7,753.9 805.2,756.0 807.7,758.0 810.2,760.1 812.7,762.1 815.2,764.1 817.7,766.0 820.2,768.0 822.7,769.9 825.2,771.8 827.7,773.7 830.2,775.6 832.7,777.4 835.2,779.3 837.7,781.1 840.2,782.9 842.7,784.6 845.2,786.4 847.7,788.1 850.2,789.8 852.7,791.5 855.2,793.2 857.7,794.9 860.2,796.5 862.7,798.1 865.2,799.7 867.7,801.3 870.2,802.9 872.7,804.4 875.2,805.9 877.7,807.5 880.2,809.0 882.7,810.4 885.2,811.9 887.7,813.3 890.2,814.8 892.7,816.2 895.2,817.6 897.7,818.9 900.2,820.3 902.7,821.6 905.2,823.0 907.7,824.3 910.2,825.6 912.7,826.8 915.2,828.1 917.7,829.4 920.2,830.6 922.7,831.8 925.2,833.0 927.7,834.2 930.2,835.4 932.7,836.5 935.2,837.7 937.7,838.8 940.2,839.9 942.7,841.0 945.2,842.1 947.7,843.2 950.2,844.3 952.7,845.3 955.2,846.4 957.7,847.4 960.2,848.4 962.7,849.4 965.2,850.4 967.7,851.4 970.2,852.4 972.7,853.3 975.2,854.3 977.7,855.2 980.2,856.2 982.7,857.1 985.2,858.0 987.7,858.9 990.2,859.8 992.7,860.6 995.2,861.5 997.7,862.4 1000.2,863.2 1002.7,864.0 1005.2,864.8 1007.7,865.7 1010.2,866.5 1012.7,867.3 1015.2,868.0 1017.7,868.8 1020.2,869.6 1022.7,870.3 1025.2,871.1 1027.7,871.8 1030.2,872.5 1032.7,873.3 1035.2,874.0 1037.7,874.7 1040.2,875.4 1042.7,876.1 1045.2,876.7 1047.7,877.4 1050.2,878.1 1052.7,878.7 1055.2,879.4 1057.7,880.0 1060.2,880.7 1062.7,881.3 1065.2,881.9 1067.7,882.5 1070.2,883.1 1072.7,883.7 1075.2,884.3 1077.7,884.9 1080.2,885.5 1082.7,886.1 1085.2,886.7 1087.7,887.2 1090.2,887.8 1092.7,888.3 1095.2,888.9 1097.7,889.4 1100.2,890.0 1102.7,890.5 1105.2,891.0 1107.7,891.5 1110.2,892.1 1112.7,892.6 1115.2,893.1 1117.7,893.6 1120.2,894.1 1122.7,894.6 1125.2,895.1 1127.7,895.5 1130.2,896.0 1132.7,896.5 1135.2,896.9 1137.7,897.4 1140.2,897.9 1142.7,898.3 1145.2,898.7 1147.7,899.2 1150.2,899.6 1152.7,900.0 1155.2,900.4 1157.7,900.8 1160.2,901.2 1162.7,901.6 1165.2,902.0 1167.7,902.4 1170.2,902.8 1172.7,903.2 1175.2,903.5 1177.7,903.9 1180.2,904.2 1182.7,904.6 1185.2,904.9 1187.7,905.2 1190.2,905.5 1192.7,905.8 1195.2,906.1 1197.7,906.4 1200.2,906.7 1202.7,907.0 1205.2,907.3 1207.7,907.6 1210.2,907.8 1212.7,908.1 1215.2,908.3 1217.7,908.5 1220.2,908.8 1222.7,909.0 1225.2,909.2 1227.7,909.4 1230.2,909.6 1232.7,909.8 1235.2,910.0 1237.7,910.1 1240.2,910.3 1242.7,910.5 1245.2,910.6 1247.7,910.7 1250.2,910.9 1252.7,911.0 1255.2,911.1 1257.7,911.2 1260.2,911.3 1262.7,911.4 1265.2,911.4 1267.7,911.5 1270.2,911.2 1272.7,910.3 1275.2,909.0 1277.7,907.1" stroke="#1A6FDF" stroke-width="5.7"/>
<path d="M182.7,850.0 185.2,850.0 187.7,850.0 190.2,849.8 192.7,849.5 195.2,849.0 197.7,848.3 200.2,847.4 202.7,846.3 205.2,844.9 207.7,843.2 210.2,841.3 212.7,839.0 215.2,836.4 217.7,833.5 220.2,830.2 222.7,826.5 225.2,822.4 227.7,817.9 230.2,813.0 232.7,807.5 235.2,801.6 237.7,795.2 240.2,788.3 242.7,780.8 245.2,772.7 247.7,764.2 250.2,755.2 252.7,745.8 255.2,736.1 257.7,726.1 260.2,715.9 262.7,705.6 265.2,695.1 267.7,684.7 270.2,674.3 272.7,664.0 275.2,653.8 277.7,643.8 280.2,634.1 282.7,624.6 285.2,615.4 287.7,606.4 290.2,597.6 292.7,589.1 295.2,580.8 297.7,572.7 300.2,564.9 302.7,557.2 305.2,549.8 307.7,542.6 310.2,535.5 312.7,528.7 315.2,522.0 317.7,515.6 320.2,509.3 322.7,503.2 325.2,497.3 327.7,491.5 330.2,485.9 332.7,480.5 335.2,475.2 337.7,470.0 340.2,465.0 342.7,460.2 345.2,455.5 347.7,451.0 350.2,446.6 352.7,442.3 355.2,438.1 357.7,434.1 360.2,430.2 362.7,426.4 365.2,422.7 367.7,419.2 370.2,415.7 372.7,412.4 375.2,409.2 377.7,406.2 380.2,403.2 382.7,400.4 385.2,397.7 387.7,395.1 390.2,392.6 392.7,390.2 395.2,387.9 397.7,385.8 400.2,383.7 402.7,381.8 405.2,380.0 407.7,378.3 410.2,376.7 412.7,375.2 415.2,373.9 417.7,372.6 420.2,371.5 422.7,370.4 425.2,369.5 427.7,368.7 430.2,368.0 432.7,367.4 435.2,366.9 437.7,366.5 440.2,366.2 442.7,366.0 445.2,365.9 447.7,365.9 450.2,366.1 452.7,366.3 455.2,366.5 457.7,366.9 460.2,367.4 462.7,367.9 465.2,368.5 467.7,369.2 470.2,370.0 472.7,370.9 475.2,371.8 477.7,372.8 480.2,373.9 482.7,375.1 485.2,376.3 487.7,377.7 490.2,379.0 492.7,380.5 495.2,382.0 497.7,383.6 500.2,385.3 502.7,387.0 505.2,388.8 507.7,390.7 510.2,392.6 512.7,394.6 515.2,396.7 517.7,398.8 520.2,401.0 522.7,403.2 525.2,405.4 527.7,407.7 530.2,410.0 532.7,412.3 535.2,414.6 537.7,417.0 540.2,419.4 542.7,421.8 545.2,424.2 547.7,426.7 550.2,429.2 552.7,431.8 555.2,434.4 557.7,437.0 560.2,439.6 562.7,442.3 565.2,445.0 567.7,447.8 570.2,450.5 572.7,453.4 575.2,456.2 577.7,459.1 580.2,462.0 582.7,465.0 585.2,468.0 587.7,471.1 590.2,474.2 592.7,477.3 595.2,480.5 597.7,483.7 600.2,487.0 602.7,490.3 605.2,493.6 607.7,497.0 610.2,500.3 612.7,503.6 615.2,507.0 617.7,510.3 620.2,513.7 622.7,517.1 625.2,520.4 627.7,523.8 630.2,527.2 632.7,530.5 635.2,533.9 637.7,537.3 640.2,540.6 642.7,544.0 645.2,547.4 647.7,550.7 650.2,554.1 652.7,557.4 655.2,560.8 657.7,564.1 660.2,567.4 662.7,570.7 665.2,574.1 667.7,577.4 670.2,580.6 672.7,583.9 675.2,587.2 677.7,590.4 680.2,593.7 682.7,596.9 685.2,600.1 687.7,603.3 690.2,606.4 692.7,609.6 695.2,612.7 697.7,615.8 700.2,618.9 702.7,622.0 705.2,625.1 707.7,628.1 710.2,631.1 712.7,634.1 715.2,637.1 717.7,640.0 720.2,642.9 722.7,645.8 725.2,648.7 727.7,651.6 730.2,654.4 732.7,657.2 735.2,660.0 737.7,662.8 740.2,665.5 742.7,668.2 745.2,670.9 747.7,673.6 750.2,676.2 752.7,678.9 755.2,681.5 757.7,684.0 760.2,686.6 762.7,689.1 765.2,691.6 767.7,694.1 770.2,696.6 772.7,699.0 775.2,701.5 777.7,703.9 780.2,706.3 782.7,708.6 785.2,711.0 787.7,713.3 790.2,715.6 792.7,717.9 795.2,720.1 797.7,722.3 800.2,724.6 802.7,726.8 805.2,728.9 807.7,731.1 810.2,733.2 812.7,735.4 815.2,737.5 817.7,739.5 820.2,741.6 822.7,743.6 825.2,745.7 827.7,747.7 830.2,749.6 832.7,751.6 835.2,753.6 837.7,755.5 840.2,757.4 842.7,759.3 845.2,761.2 847.7,763.0 850.2,764.8 852.7,766.7 855.2,768.5 857.7,770.3 860.2,772.0 862.7,773.8 865.2,775.5 867.7,777.2 870.2,778.9 872.7,780.6 875.2,782.3 877.7,783.9 880.2,785.5 882.7,787.1 885.2,788.7 887.7,790.3 890.2,791.9 892.7,793.4 895.2,795.0 897.7,796.5 900.2,798.0 902.7,799.5 905.2,801.0 907.7,802.4 910.2,803.9 912.7,805.3 915.2,806.7 917.7,808.1 920.2,809.5 922.7,810.8 925.2,812.2 927.7,813.5 930.2,814.8 932.7,816.1 935.2,817.4 937.7,818.7 940.2,819.9 942.7,821.2 945.2,822.4 947.7,823.6 950.2,824.8 952.7,826.0 955.2,827.1 957.7,828.3 960.2,829.4 962.7,830.6 965.2,831.7 967.7,832.8 970.2,833.9 972.7,835.0 975.2,836.0 977.7,837.1 980.2,838.1 982.7,839.2 985.2,840.2 987.7,841.2 990.2,842.2 992.7,843.2 995.2,844.2 997.7,845.1 1000.2,846.1 1002.7,847.0 1005.2,848.0 1007.7,848.9 1010.2,849.8 1012.7,850.7 1015.2,851.6 1017.7,852.5 1020.2,853.4 1022.7,854.3 1025.2,855.1 1027.7,856.0 1030.2,856.8 1032.7,857.6 1035.2,858.5 1037.7,859.3 1040.2,860.1 1042.7,860.9 1045.2,861.7 1047.7,862.5 1050.2,863.2 1052.7,864.0 1055.2,864.8 1057.7,865.5 1060.2,866.3 1062.7,867.0 1065.2,867.7 1067.7,868.4 1070.2,869.1 1072.7,869.9 1075.2,870.6 1077.7,871.2 1080.2,871.9 1082.7,872.6 1085.2,873.3 1087.7,874.0 1090.2,874.6 1092.7,875.3 1095.2,875.9 1097.7,876.6 1100.2,877.2 1102.7,877.9 1105.2,878.5 1107.7,879.1 1110.2,879.8 1112.7,880.4 1115.2,881.0 1117.7,881.7 1120.2,882.3 1122.7,882.9 1125.2,883.5 1127.7,884.2 1130.2,884.8 1132.7,885.4 1135.2,886.0 1137.7,886.6 1140.2,887.2 1142.7,887.7 1145.2,888.3 1147.7,888.9 1150.2,889.4 1152.7,890.0 1155.2,890.5 1157.7,891.1 1160.2,891.6 1162.7,892.1 1165.2,892.6 1167.7,893.1 1170.2,893.6 1172.7,894.1 1175.2,894.5 1177.7,895.0 1180.2,895.5 1182.7,895.9 1185.2,896.4 1187.7,896.8 1190.2,897.2 1192.7,897.6 1195.2,898.1 1197.7,898.5 1200.2,898.9 1202.7,899.3 1205.2,899.6 1207.7,900.0 1210.2,900.4 1212.7,900.7 1215.2,901.1 1217.7,901.4 1220.2,901.7 1222.7,902.1 1225.2,902.4 1227.7,902.7 1230.2,903.0 1232.7,903.2 1235.2,903.5 1237.7,903.8 1240.2,904.0 1242.7,904.3 1245.2,904.5 1247.7,904.7 1250.2,904.9 1252.7,905.1 1255.2,905.3 1257.7,905.5 1260.2,905.7 1262.7,905.9 1265.2,906.0 1267.7,906.1 1270.2,905.9 1272.7,905.1 1275.2,903.8 1277.7,902.1" stroke="#37AD6B" stroke-width="5.7"/>
<path d="M182.7,752.1 185.2,752.0 187.7,751.6 190.2,750.8 192.7,749.8 195.2,748.4 197.7,746.6 200.2,744.6 202.7,742.1 205.2,739.3 207.7,736.1 210.2,732.6 212.7,728.6 215.2,724.2 217.7,719.4 220.2,714.1 222.7,708.4 225.2,702.3 227.7,695.7 230.2,688.6 232.7,681.1 235.2,673.1 237.7,664.8 240.2,656.1 242.7,646.9 245.2,637.4 247.7,627.6 250.2,617.4 252.7,607.0 255.2,596.2 257.7,585.3 260.2,574.2 262.7,562.9 265.2,551.6 267.7,540.2 270.2,528.8 272.7,517.5 275.2,506.3 277.7,495.1 280.2,484.2 282.7,473.5 285.2,463.0 287.7,452.9 290.2,443.1 292.7,433.6 295.2,424.4 297.7,415.6 300.2,407.1 302.7,398.9 305.2,391.0 307.7,383.4 310.2,376.1 312.7,369.1 315.2,362.3 317.7,355.9 320.2,349.6 322.7,343.7 325.2,338.0 327.7,332.5 330.2,327.3 332.7,322.3 335.2,317.5 337.7,313.0 340.2,308.6 342.7,304.5 345.2,300.5 347.7,296.8 350.2,293.2 352.7,289.8 355.2,286.6 357.7,283.6 360.2,280.7 362.7,277.9 365.2,275.3 367.7,272.9 370.2,270.6 372.7,268.4 375.2,266.4 377.7,264.5 380.2,262.8 382.7,261.2 385.2,259.8 387.7,258.4 390.2,257.2 392.7,256.2 395.2,255.3 397.7,254.5 400.2,253.8 402.7,253.2 405.2,252.8 407.7,252.5 410.2,252.3 412.7,252.2 415.2,252.2 417.7,252.4 420.2,252.7 422.7,253.0 425.2,253.5 427.7,254.1 430.2,254.8 432.7,255.6 435.2,256.5 437.7,257.5 440.2,258.6 442.7,259.8 445.2,261.1 447.7,262.4 450.2,263.9 452.7,265.5 455.2,267.1 457.7,268.8 460.2,270.7 462.7,272.6 465.2,274.5 467.7,276.6 470.2,278.7 472.7,280.9 475.2,283.2 477.7,285.6 480.2,288.0 482.7,290.5 485.2,293.1 487.7,295.7 490.2,298.4 492.7,301.1 495.2,303.9 497.7,306.8 500.2,309.7 502.7,312.7 505.2,315.8 507.7,318.9 510.2,322.0 512.7,325.2 515.2,328.4 517.7,331.7 520.2,335.0 522.7,338.4 525.2,341.8 527.7,345.2 530.2,348.7 532.7,352.2 535.2,355.8 537.7,359.4 540.2,363.0 542.7,366.6 545.2,370.3 547.7,374.0 550.2,377.7 552.7,381.5 555.2,385.2 557.7,389.0 560.2,392.8 562.7,396.6 565.2,400.5 567.7,404.3 570.2,408.2 572.7,412.1 575.2,415.9 577.7,419.8 580.2,423.7 582.7,427.6 585.2,431.5 587.7,435.4 590.2,439.3 592.7,443.2 595.2,447.1 597.7,451.0 600.2,454.8 602.7,458.7 605.2,462.6 607.7,466.4 610.2,470.3 612.7,474.1 615.2,477.9 617.7,481.8 620.2,485.6 622.7,489.4 625.2,493.2 627.7,497.0 630.2,500.9 632.7,504.7 635.2,508.4 637.7,512.2 640.2,516.0 642.7,519.8 645.2,523.6 647.7,527.4 650.2,531.1 652.7,534.9 655.2,538.7 657.7,542.4 660.2,546.2 662.7,549.9 665.2,553.7 667.7,557.4 670.2,561.2 672.7,564.9 675.2,568.7 677.7,572.4 680.2,576.2 682.7,579.9 685.2,583.6 687.7,587.4 690.2,591.1 692.7,594.8 695.2,598.6 697.7,602.3 700.2,606.0 702.7,609.8 705.2,613.5 707.7,617.2 710.2,620.8 712.7,624.5 715.2,628.1 717.7,631.8 720.2,635.4 722.7,638.9 725.2,642.5 727.7,646.0 730.2,649.5 732.7,652.9 735.2,656.3 737.7,659.7 740.2,663.0 742.7,666.3 745.2,669.5 747.7,672.7 750.2,675.9 752.7,679.0 755.2,682.0 757.7,685.0 760.2,687.9 762.7,690.7 765.2,693.5 767.7,696.3 770.2,698.9 772.7,701.5 775.2,704.1 777.7,706.5 780.2,709.0 782.7,711.4 785.2,713.7 787.7,716.0 790.2,718.2 792.7,720.4 795.2,722.5 797.7,724.6 800.2,726.7 802.7,728.7 805.2,730.7 807.7,732.6 810.2,734.6 812.7,736.5 815.2,738.3 817.7,740.2 820.2,742.0 822.7,743.8 825.2,745.5 827.7,747.3 830.2,749.0 832.7,750.7 835.2,752.4 837.7,754.1 840.2,755.8 842.7,757.5 845.2,759.1 847.7,760.8 850.2,762.4 852.7,764.0 855.2,765.7 857.7,767.3 860.2,768.9 862.7,770.4 865.2,772.0 867.7,773.6 870.2,775.1 872.7,776.7 875.2,778.2 877.7,779.7 880.2,781.2 882.7,782.7 885.2,784.2 887.7,785.7 890.2,787.2 892.7,788.6 895.2,790.0 897.7,791.5 900.2,792.9 902.7,794.3 905.2,795.7 907.7,797.1 910.2,798.5 912.7,799.9 915.2,801.2 917.7,802.6 920.2,803.9 922.7,805.2 925.2,806.5 927.7,807.8 930.2,809.1 932.7,810.4 935.2,811.7 937.7,812.9 940.2,814.2 942.7,815.4 945.2,816.7 947.7,817.9 950.2,819.1 952.7,820.3 955.2,821.5 957.7,822.6 960.2,823.8 962.7,825.0 965.2,826.1 967.7,827.2 970.2,828.4 972.7,829.5 975.2,830.6 977.7,831.7 980.2,832.7 982.7,833.8 985.2,834.9 987.7,835.9 990.2,836.9 992.7,838.0 995.2,839.0 997.7,840.0 1000.2,841.0 1002.7,842.0 1005.2,842.9 1007.7,843.9 1010.2,844.9 1012.7,845.8 1015.2,846.7 1017.7,847.7 1020.2,848.6 1022.7,849.5 1025.2,850.4 1027.7,851.3 1030.2,852.2 1032.7,853.0 1035.2,853.9 1037.7,854.7 1040.2,855.6 1042.7,856.4 1045.2,857.2 1047.7,858.0 1050.2,858.8 1052.7,859.6 1055.2,860.4 1057.7,861.2 1060.2,862.0 1062.7,862.7 1065.2,863.5 1067.7,864.2 1070.2,864.9 1072.7,865.7 1075.2,866.4 1077.7,867.1 1080.2,867.8 1082.7,868.5 1085.2,869.2 1087.7,869.9 1090.2,870.5 1092.7,871.2 1095.2,871.9 1097.7,872.5 1100.2,873.1 1102.7,873.8 1105.2,874.4 1107.7,875.0 1110.2,875.6 1112.7,876.2 1115.2,876.8 1117.7,877.4 1120.2,878.0 1122.7,878.6 1125.2,879.1 1127.7,879.7 1130.2,880.2 1132.7,880.8 1135.2,881.3 1137.7,881.9 1140.2,882.4 1142.7,882.9 1145.2,883.4 1147.7,883.9 1150.2,884.4 1152.7,884.9 1155.2,885.4 1157.7,885.9 1160.2,886.4 1162.7,886.9 1165.2,887.3 1167.7,887.8 1170.2,888.2 1172.7,888.7 1175.2,889.1 1177.7,889.6 1180.2,890.0 1182.7,890.4 1185.2,890.9 1187.7,891.3 1190.2,891.7 1192.7,892.1 1195.2,892.5 1197.7,892.9 1200.2,893.3 1202.7,893.7 1205.2,894.1 1207.7,894.4 1210.2,894.8 1212.7,895.2 1215.2,895.5 1217.7,895.9 1220.2,896.3 1222.7,896.6 1225.2,897.0 1227.7,897.3 1230.2,897.6 1232.7,898.0 1235.2,898.3 1237.7,898.6 1240.2,898.9 1242.7,899.3 1245.2,899.6 1247.7,899.9 1250.2,900.2 1252.7,900.5 1255.2,900.8 1257.7,901.1 1260.2,901.4 1262.7,901.7 1265.2,902.0 1267.7,902.3 1270.2,902.1 1272.7,901.5 1275.2,900.4 1277.7,898.8" stroke="#B177DE" stroke-width="5.6"/>
<path d="M182.7,852.2 185.2,852.2 187.7,852.1 190.2,851.8 192.7,851.5 195.2,851.0 197.7,850.3 200.2,849.5 202.7,848.4 205.2,847.1 207.7,845.5 210.2,843.7 212.7,841.6 215.2,839.1 217.7,836.3 220.2,833.2 222.7,829.7 225.2,825.8 227.7,821.4 230.2,816.6 232.7,811.4 235.2,805.6 237.7,799.4 240.2,792.6 242.7,785.3 245.2,777.4 247.7,769.0 250.2,760.1 252.7,750.9 255.2,741.2 257.7,731.3 260.2,721.2 262.7,710.9 265.2,700.5 267.7,690.1 270.2,679.6 272.7,669.3 275.2,659.1 277.7,649.1 280.2,639.3 282.7,629.8 285.2,620.6 287.7,611.6 290.2,602.9 292.7,594.4 295.2,586.1 297.7,578.1 300.2,570.3 302.7,562.8 305.2,555.4 307.7,548.3 310.2,541.4 312.7,534.6 315.2,528.1 317.7,521.7 320.2,515.6 322.7,509.6 325.2,503.7 327.7,498.1 330.2,492.6 332.7,487.2 335.2,482.0 337.7,477.0 340.2,472.1 342.7,467.3 345.2,462.7 347.7,458.3 350.2,454.0 352.7,449.8 355.2,445.8 357.7,442.0 360.2,438.2 362.7,434.7 365.2,431.2 367.7,427.9 370.2,424.8 372.7,421.8 375.2,418.9 377.7,416.1 380.2,413.5 382.7,410.9 385.2,408.6 387.7,406.3 390.2,404.1 392.7,402.1 395.2,400.2 397.7,398.4 400.2,396.7 402.7,395.1 405.2,393.7 407.7,392.3 410.2,391.1 412.7,389.9 415.2,388.9 417.7,387.9 420.2,387.1 422.7,386.3 425.2,385.7 427.7,385.1 430.2,384.6 432.7,384.3 435.2,384.0 437.7,383.8 440.2,383.7 442.7,383.6 445.2,383.7 447.7,383.8 450.2,384.0 452.7,384.4 455.2,384.7 457.7,385.2 460.2,385.8 462.7,386.4 465.2,387.1 467.7,387.9 470.2,388.7 472.7,389.7 475.2,390.7 477.7,391.8 480.2,393.0 482.7,394.2 485.2,395.5 487.7,396.9 490.2,398.3 492.7,399.8 495.2,401.4 497.7,403.1 500.2,404.8 502.7,406.6 505.2,408.4 507.7,410.3 510.2,412.3 512.7,414.4 515.2,416.5 517.7,418.6 520.2,420.8 522.7,423.1 525.2,425.5 527.7,427.9 530.2,430.4 532.7,433.0 535.2,435.6 537.7,438.3 540.2,441.0 542.7,443.8 545.2,446.6 547.7,449.4 550.2,452.3 552.7,455.3 555.2,458.2 557.7,461.2 560.2,464.3 562.7,467.3 565.2,470.4 567.7,473.5 570.2,476.6 572.7,479.7 575.2,482.9 577.7,486.0 580.2,489.2 582.7,492.4 585.2,495.5 587.7,498.7 590.2,501.9 592.7,505.0 595.2,508.2 597.7,511.4 600.2,514.5 602.7,517.7 605.2,520.8 607.7,524.0 610.2,527.1 612.7,530.3 615.2,533.4 617.7,536.6 620.2,539.7 622.7,542.9 625.2,546.0 627.7,549.1 630.2,552.3 632.7,555.4 635.2,558.5 637.7,561.7 640.2,564.8 642.7,567.9 645.2,571.0 647.7,574.1 650.2,577.2 652.7,580.3 655.2,583.4 657.7,586.4 660.2,589.5 662.7,592.6 665.2,595.6 667.7,598.6 670.2,601.7 672.7,604.7 675.2,607.7 677.7,610.7 680.2,613.7 682.7,616.6 685.2,619.6 687.7,622.6 690.2,625.5 692.7,628.4 695.2,631.3 697.7,634.2 700.2,637.1 702.7,639.9 705.2,642.8 707.7,645.6 710.2,648.4 712.7,651.2 715.2,653.9 717.7,656.7 720.2,659.4 722.7,662.1 725.2,664.8 727.7,667.5 730.2,670.2 732.7,672.8 735.2,675.4 737.7,678.0 740.2,680.6 742.7,683.2 745.2,685.7 747.7,688.2 750.2,690.7 752.7,693.2 755.2,695.7 757.7,698.1 760.2,700.6 762.7,703.0 765.2,705.4 767.7,707.8 770.2,710.1 772.7,712.4 775.2,714.7 777.7,717.0 780.2,719.3 782.7,721.5 785.2,723.8 787.7,726.0 790.2,728.1 792.7,730.3 795.2,732.4 797.7,734.6 800.2,736.7 802.7,738.8 805.2,740.8 807.7,742.9 810.2,744.9 812.7,746.9 815.2,748.9 817.7,750.9 820.2,752.8 822.7,754.8 825.2,756.7 827.7,758.6 830.2,760.5 832.7,762.3 835.2,764.2 837.7,766.0 840.2,767.8 842.7,769.6 845.2,771.4 847.7,773.2 850.2,774.9 852.7,776.7 855.2,778.4 857.7,780.1 860.2,781.7 862.7,783.4 865.2,785.1 867.7,786.7 870.2,788.3 872.7,789.9 875.2,791.5 877.7,793.1 880.2,794.6 882.7,796.2 885.2,797.7 887.7,799.2 890.2,800.7 892.7,802.2 895.2,803.7 897.7,805.1 900.2,806.6 902.7,808.0 905.2,809.4 907.7,810.8 910.2,812.2 912.7,813.6 915.2,814.9 917.7,816.3 920.2,817.6 922.7,818.9 925.2,820.2 927.7,821.5 930.2,822.8 932.7,824.0 935.2,825.3 937.7,826.5 940.2,827.7 942.7,828.9 945.2,830.1 947.7,831.3 950.2,832.4 952.7,833.6 955.2,834.7 957.7,835.8 960.2,837.0 962.7,838.0 965.2,839.1 967.7,840.2 970.2,841.3 972.7,842.3 975.2,843.3 977.7,844.3 980.2,845.4 982.7,846.4 985.2,847.3 987.7,848.3 990.2,849.3 992.7,850.2 995.2,851.1 997.7,852.1 1000.2,853.0 1002.7,853.9 1005.2,854.8 1007.7,855.7 1010.2,856.5 1012.7,857.4 1015.2,858.3 1017.7,859.1 1020.2,860.0 1022.7,860.8 1025.2,861.6 1027.7,862.4 1030.2,863.2 1032.7,864.0 1035.2,864.8 1037.7,865.6 1040.2,866.4 1042.7,867.1 1045.2,867.9 1047.7,868.7 1050.2,869.4 1052.7,870.1 1055.2,870.9 1057.7,871.6 1060.2,872.3 1062.7,873.0 1065.2,873.7 1067.7,874.4 1070.2,875.1 1072.7,875.8 1075.2,876.5 1077.7,877.1 1080.2,877.8 1082.7,878.5 1085.2,879.1 1087.7,879.7 1090.2,880.4 1092.7,881.0 1095.2,881.6 1097.7,882.3 1100.2,882.9 1102.7,883.5 1105.2,884.1 1107.7,884.7 1110.2,885.3 1112.7,885.9 1115.2,886.5 1117.7,887.1 1120.2,887.7 1122.7,888.3 1125.2,888.9 1127.7,889.5 1130.2,890.1 1132.7,890.6 1135.2,891.2 1137.7,891.8 1140.2,892.3 1142.7,892.9 1145.2,893.4 1147.7,894.0 1150.2,894.5 1152.7,895.0 1155.2,895.5 1157.7,896.1 1160.2,896.6 1162.7,897.1 1165.2,897.6 1167.7,898.1 1170.2,898.5 1172.7,899.0 1175.2,899.5 1177.7,900.0 1180.2,900.4 1182.7,900.9 1185.2,901.4 1187.7,901.8 1190.2,902.3 1192.7,902.7 1195.2,903.2 1197.7,903.6 1200.2,904.0 1202.7,904.5 1205.2,904.9 1207.7,905.3 1210.2,905.7 1212.7,906.0 1215.2,906.4 1217.7,906.8 1220.2,907.1 1222.7,907.4 1225.2,907.8 1227.7,908.1 1230.2,908.4 1232.7,908.6 1235.2,908.9 1237.7,909.2 1240.2,909.4 1242.7,909.6 1245.2,909.8 1247.7,910.0 1250.2,910.2 1252.7,910.3 1255.2,910.5 1257.7,910.6 1260.2,910.7 1262.7,910.8 1265.2,910.9 1267.7,910.9 1270.2,910.6 1272.7,909.8 1275.2,908.4 1277.7,906.6" stroke="#CC9900" stroke-width="5.7"/>
<path d="M182.7,850.0 185.2,850.0 187.7,850.0 190.2,849.8 192.7,849.5 195.2,849.0 197.7,848.3 200.2,847.4 202.7,846.3 205.2,844.9 207.7,843.2 210.2,841.3 212.7,839.0 215.2,836.4 217.7,833.5 220.2,830.2 222.7,826.5 225.2,822.4 227.7,817.9 230.2,813.0 232.7,807.5 235.2,801.6 237.7,795.2 240.2,788.3 242.7,780.8 245.2,772.7 247.7,764.2 250.2,755.2 252.7,745.8 255.2,736.1 257.7,726.1 260.2,715.9 262.7,705.6 265.2,695.1 267.7,684.7 270.2,674.3 272.7,664.0 275.2,653.8 277.7,643.8 280.2,634.1 282.7,624.6 285.2,615.4 287.7,606.4 290.2,597.6 292.7,589.1 295.2,580.8 297.7,572.7 300.2,564.9 302.7,557.2 305.2,549.8 307.7,542.6 310.2,535.5 312.7,528.7 315.2,522.0 317.7,515.6 320.2,509.3 322.7,503.2 325.2,497.3 327.7,491.5 330.2,485.9 332.7,480.5 335.2,475.2 337.7,470.0 340.2,465.0 342.7,460.2 345.2,455.5 347.7,451.0 350.2,446.6 352.7,442.4 355.2,438.3 357.7,434.3 360.2,430.5 362.7,426.8 365.2,423.2 367.7,419.8 370.2,416.5 372.7,413.3 375.2,410.3 377.7,407.4 380.2,404.6 382.7,401.9 385.2,399.4 387.7,397.0 390.2,394.7 392.7,392.5 395.2,390.5 397.7,388.5 400.2,386.7 402.7,385.0 405.2,383.3 407.7,381.8 410.2,380.5 412.7,379.2 415.2,378.0 417.7,376.9 420.2,376.0 422.7,375.1 425.2,374.3 427.7,373.7 430.2,373.1 432.7,372.6 435.2,372.3 437.7,372.0 440.2,371.8 442.7,371.7 445.2,371.7 447.7,371.8 450.2,372.0 452.7,372.3 455.2,372.7 457.7,373.2 460.2,373.8 462.7,374.5 465.2,375.3 467.7,376.2 470.2,377.2 472.7,378.2 475.2,379.4 477.7,380.6 480.2,382.0 482.7,383.4 485.2,384.9 487.7,386.4 490.2,388.0 492.7,389.8 495.2,391.5 497.7,393.4 500.2,395.3 502.7,397.2 505.2,399.3 507.7,401.4 510.2,403.5 512.7,405.7 515.2,407.9 517.7,410.2 520.2,412.6 522.7,415.0 525.2,417.4 527.7,419.9 530.2,422.5 532.7,425.1 535.2,427.8 537.7,430.5 540.2,433.2 542.7,436.0 545.2,438.8 547.7,441.7 550.2,444.6 552.7,447.6 555.2,450.5 557.7,453.5 560.2,456.5 562.7,459.6 565.2,462.6 567.7,465.7 570.2,468.8 572.7,471.9 575.2,475.0 577.7,478.2 580.2,481.3 582.7,484.5 585.2,487.6 587.7,490.8 590.2,494.0 592.7,497.2 595.2,500.4 597.7,503.6 600.2,506.8 602.7,509.9 605.2,513.1 607.7,516.2 610.2,519.4 612.7,522.5 615.2,525.6 617.7,528.7 620.2,531.7 622.7,534.8 625.2,537.8 627.7,540.8 630.2,543.8 632.7,546.8 635.2,549.8 637.7,552.7 640.2,555.7 642.7,558.6 645.2,561.5 647.7,564.5 650.2,567.3 652.7,570.2 655.2,573.1 657.7,576.0 660.2,578.8 662.7,581.7 665.2,584.5 667.7,587.3 670.2,590.1 672.7,592.9 675.2,595.7 677.7,598.5 680.2,601.2 682.7,604.0 685.2,606.7 687.7,609.5 690.2,612.2 692.7,614.9 695.2,617.6 697.7,620.2 700.2,622.9 702.7,625.6 705.2,628.2 707.7,630.8 710.2,633.4 712.7,636.0 715.2,638.6 717.7,641.2 720.2,643.8 722.7,646.3 725.2,648.9 727.7,651.4 730.2,653.9 732.7,656.4 735.2,659.0 737.7,661.4 740.2,663.9 742.7,666.4 745.2,668.9 747.7,671.3 750.2,673.8 752.7,676.3 755.2,678.7 757.7,681.1 760.2,683.6 762.7,686.0 765.2,688.4 767.7,690.8 770.2,693.2 772.7,695.5 775.2,697.8 777.7,700.1 780.2,702.4 782.7,704.7 785.2,706.9 787.7,709.2 790.2,711.4 792.7,713.6 795.2,715.8 797.7,717.9 800.2,720.1 802.7,722.2 805.2,724.3 807.7,726.4 810.2,728.5 812.7,730.5 815.2,732.6 817.7,734.6 820.2,736.6 822.7,738.6 825.2,740.6 827.7,742.5 830.2,744.5 832.7,746.4 835.2,748.3 837.7,750.2 840.2,752.1 842.7,753.9 845.2,755.8 847.7,757.6 850.2,759.4 852.7,761.2 855.2,763.0 857.7,764.8 860.2,766.6 862.7,768.3 865.2,770.0 867.7,771.8 870.2,773.5 872.7,775.1 875.2,776.8 877.7,778.5 880.2,780.1 882.7,781.7 885.2,783.4 887.7,785.0 890.2,786.6 892.7,788.1 895.2,789.7 897.7,791.2 900.2,792.8 902.7,794.3 905.2,795.8 907.7,797.3 910.2,798.8 912.7,800.3 915.2,801.7 917.7,803.2 920.2,804.6 922.7,806.0 925.2,807.4 927.7,808.8 930.2,810.2 932.7,811.5 935.2,812.9 937.7,814.2 940.2,815.5 942.7,816.8 945.2,818.1 947.7,819.3 950.2,820.6 952.7,821.8 955.2,823.1 957.7,824.3 960.2,825.5 962.7,826.7 965.2,827.8 967.7,829.0 970.2,830.1 972.7,831.2 975.2,832.4 977.7,833.5 980.2,834.5 982.7,835.6 985.2,836.7 987.7,837.7 990.2,838.8 992.7,839.8 995.2,840.8 997.7,841.8 1000.2,842.8 1002.7,843.7 1005.2,844.7 1007.7,845.6 1010.2,846.6 1012.7,847.5 1015.2,848.4 1017.7,849.3 1020.2,850.2 1022.7,851.1 1025.2,851.9 1027.7,852.8 1030.2,853.6 1032.7,854.5 1035.2,855.3 1037.7,856.1 1040.2,856.9 1042.7,857.7 1045.2,858.5 1047.7,859.3 1050.2,860.0 1052.7,860.8 1055.2,861.5 1057.7,862.3 1060.2,863.0 1062.7,863.7 1065.2,864.4 1067.7,865.2 1070.2,865.9 1072.7,866.6 1075.2,867.2 1077.7,867.9 1080.2,868.6 1082.7,869.3 1085.2,869.9 1087.7,870.6 1090.2,871.2 1092.7,871.9 1095.2,872.5 1097.7,873.1 1100.2,873.8 1102.7,874.4 1105.2,875.0 1107.7,875.6 1110.2,876.2 1112.7,876.8 1115.2,877.4 1117.7,878.0 1120.2,878.6 1122.7,879.2 1125.2,879.8 1127.7,880.3 1130.2,880.9 1132.7,881.5 1135.2,882.0 1137.7,882.6 1140.2,883.1 1142.7,883.6 1145.2,884.2 1147.7,884.7 1150.2,885.2 1152.7,885.7 1155.2,886.2 1157.7,886.8 1160.2,887.2 1162.7,887.7 1165.2,888.2 1167.7,888.7 1170.2,889.2 1172.7,889.6 1175.2,890.1 1177.7,890.6 1180.2,891.0 1182.7,891.5 1185.2,891.9 1187.7,892.4 1190.2,892.8 1192.7,893.3 1195.2,893.7 1197.7,894.1 1200.2,894.6 1202.7,895.0 1205.2,895.4 1207.7,895.8 1210.2,896.2 1212.7,896.6 1215.2,897.0 1217.7,897.3 1220.2,897.7 1222.7,898.1 1225.2,898.4 1227.7,898.8 1230.2,899.1 1232.7,899.4 1235.2,899.7 1237.7,900.0 1240.2,900.3 1242.7,900.6 1245.2,900.9 1247.7,901.2 1250.2,901.4 1252.7,901.7 1255.2,901.9 1257.7,902.1 1260.2,902.4 1262.7,902.6 1265.2,902.8 1267.7,902.9 1270.2,902.7 1272.7,902.0 1275.2,900.8 1277.7,899.1" stroke="#00CBCC" stroke-width="5.7"/>
<path d="M182.7,861.2 185.2,860.8 187.7,860.4 190.2,859.9 192.7,859.5 195.2,859.0 197.7,858.4 200.2,857.7 202.7,856.9 205.2,856.0 207.7,854.8 210.2,853.4 212.7,851.8 215.2,849.9 217.7,847.7 220.2,845.2 222.7,842.3 225.2,839.1 227.7,835.4 230.2,831.3 232.7,826.8 235.2,821.7 237.7,816.1 240.2,809.8 242.7,802.8 245.2,795.1 247.7,786.6 250.2,777.5 252.7,767.9 255.2,757.7 257.7,747.0 260.2,736.0 262.7,724.7 265.2,713.1 267.7,701.4 270.2,689.6 272.7,677.9 275.2,666.3 277.7,654.9 280.2,643.8 282.7,632.9 285.2,622.4 287.7,612.1 290.2,602.1 292.7,592.4 295.2,582.9 297.7,573.7 300.2,564.8 302.7,556.0 305.2,547.3 307.7,538.7 310.2,530.2 312.7,521.8 315.2,513.5 317.7,505.4 320.2,497.4 322.7,489.6 325.2,481.9 327.7,474.5 330.2,467.3 332.7,460.3 335.2,453.6 337.7,447.2 340.2,441.2 342.7,435.5 345.2,430.3 347.7,425.3 350.2,420.5 352.7,415.8 355.2,411.4 357.7,407.0 360.2,402.9 362.7,398.9 365.2,395.1 367.7,391.4 370.2,387.8 372.7,384.5 375.2,381.2 377.7,378.1 380.2,375.2 382.7,372.4 385.2,369.7 387.7,367.2 390.2,364.8 392.7,362.5 395.2,360.4 397.7,358.4 400.2,356.5 402.7,354.7 405.2,353.0 407.7,351.5 410.2,350.1 412.7,348.7 415.2,347.5 417.7,346.4 420.2,345.4 422.7,344.5 425.2,343.7 427.7,343.0 430.2,342.3 432.7,341.8 435.2,341.3 437.7,341.0 440.2,340.7 442.7,340.5 445.2,340.3 447.7,340.3 450.2,340.3 452.7,340.4 455.2,340.5 457.7,340.8 460.2,341.1 462.7,341.5 465.2,341.9 467.7,342.4 470.2,343.1 472.7,343.7 475.2,344.5 477.7,345.3 480.2,346.3 482.7,347.3 485.2,348.3 487.7,349.5 490.2,350.7 492.7,352.0 495.2,353.4 497.7,354.9 500.2,356.5 502.7,358.1 505.2,359.9 507.7,361.7 510.2,363.6 512.7,365.6 515.2,367.6 517.7,369.8 520.2,372.0 522.7,374.3 525.2,376.7 527.7,379.1 530.2,381.7 532.7,384.2 535.2,386.9 537.7,389.5 540.2,392.3 542.7,395.1 545.2,397.9 547.7,400.8 550.2,403.7 552.7,406.7 555.2,409.7 557.7,412.7 560.2,415.8 562.7,418.9 565.2,422.1 567.7,425.2 570.2,428.4 572.7,431.6 575.2,434.8 577.7,438.1 580.2,441.3 582.7,444.6 585.2,447.9 587.7,451.2 590.2,454.5 592.7,457.9 595.2,461.2 597.7,464.6 600.2,468.0 602.7,471.4 605.2,474.8 607.7,478.2 610.2,481.6 612.7,485.0 615.2,488.4 617.7,491.9 620.2,495.3 622.7,498.7 625.2,502.2 627.7,505.6 630.2,509.1 632.7,512.5 635.2,516.0 637.7,519.4 640.2,522.8 642.7,526.3 645.2,529.7 647.7,533.1 650.2,536.6 652.7,540.0 655.2,543.4 657.7,546.8 660.2,550.2 662.7,553.6 665.2,556.9 667.7,560.3 670.2,563.6 672.7,567.0 675.2,570.3 677.7,573.6 680.2,576.9 682.7,580.2 685.2,583.4 687.7,586.7 690.2,589.9 692.7,593.1 695.2,596.3 697.7,599.5 700.2,602.6 702.7,605.7 705.2,608.8 707.7,611.9 710.2,615.0 712.7,618.0 715.2,621.0 717.7,624.0 720.2,627.0 722.7,629.9 725.2,632.9 727.7,635.8 730.2,638.6 732.7,641.5 735.2,644.3 737.7,647.2 740.2,650.0 742.7,652.7 745.2,655.5 747.7,658.2 750.2,660.9 752.7,663.6 755.2,666.3 757.7,669.0 760.2,671.6 762.7,674.2 765.2,676.8 767.7,679.4 770.2,681.9 772.7,684.4 775.2,687.0 777.7,689.4 780.2,691.9 782.7,694.4 785.2,696.8 787.7,699.2 790.2,701.6 792.7,704.0 795.2,706.3 797.7,708.6 800.2,710.9 802.7,713.2 805.2,715.5 807.7,717.8 810.2,720.0 812.7,722.2 815.2,724.4 817.7,726.6 820.2,728.7 822.7,730.9 825.2,733.0 827.7,735.1 830.2,737.2 832.7,739.2 835.2,741.3 837.7,743.3 840.2,745.3 842.7,747.3 845.2,749.3 847.7,751.2 850.2,753.1 852.7,755.1 855.2,757.0 857.7,758.8 860.2,760.7 862.7,762.6 865.2,764.4 867.7,766.2 870.2,768.0 872.7,769.8 875.2,771.5 877.7,773.3 880.2,775.0 882.7,776.7 885.2,778.4 887.7,780.1 890.2,781.7 892.7,783.4 895.2,785.0 897.7,786.6 900.2,788.2 902.7,789.8 905.2,791.3 907.7,792.9 910.2,794.4 912.7,795.9 915.2,797.4 917.7,798.9 920.2,800.4 922.7,801.8 925.2,803.3 927.7,804.7 930.2,806.1 932.7,807.5 935.2,808.8 937.7,810.2 940.2,811.5 942.7,812.9 945.2,814.2 947.7,815.5 950.2,816.8 952.7,818.0 955.2,819.3 957.7,820.5 960.2,821.7 962.7,823.0 965.2,824.1 967.7,825.3 970.2,826.5 972.7,827.7 975.2,828.8 977.7,829.9 980.2,831.0 982.7,832.1 985.2,833.2 987.7,834.3 990.2,835.3 992.7,836.4 995.2,837.4 997.7,838.4 1000.2,839.4 1002.7,840.4 1005.2,841.4 1007.7,842.4 1010.2,843.3 1012.7,844.3 1015.2,845.2 1017.7,846.1 1020.2,847.0 1022.7,847.9 1025.2,848.8 1027.7,849.7 1030.2,850.6 1032.7,851.4 1035.2,852.3 1037.7,853.1 1040.2,853.9 1042.7,854.7 1045.2,855.5 1047.7,856.3 1050.2,857.1 1052.7,857.9 1055.2,858.6 1057.7,859.4 1060.2,860.1 1062.7,860.9 1065.2,861.6 1067.7,862.3 1070.2,863.1 1072.7,863.8 1075.2,864.5 1077.7,865.2 1080.2,865.8 1082.7,866.5 1085.2,867.2 1087.7,867.9 1090.2,868.5 1092.7,869.2 1095.2,869.9 1097.7,870.5 1100.2,871.1 1102.7,871.8 1105.2,872.4 1107.7,873.0 1110.2,873.7 1112.7,874.3 1115.2,874.9 1117.7,875.5 1120.2,876.1 1122.7,876.7 1125.2,877.3 1127.7,877.9 1130.2,878.4 1132.7,879.0 1135.2,879.6 1137.7,880.2 1140.2,880.7 1142.7,881.3 1145.2,881.8 1147.7,882.4 1150.2,882.9 1152.7,883.4 1155.2,883.9 1157.7,884.5 1160.2,885.0 1162.7,885.5 1165.2,886.0 1167.7,886.5 1170.2,887.0 1172.7,887.4 1175.2,887.9 1177.7,888.4 1180.2,888.9 1182.7,889.3 1185.2,889.8 1187.7,890.2 1190.2,890.7 1192.7,891.1 1195.2,891.5 1197.7,891.9 1200.2,892.3 1202.7,892.8 1205.2,893.2 1207.7,893.5 1210.2,893.9 1212.7,894.3 1215.2,894.7 1217.7,895.1 1220.2,895.4 1222.7,895.8 1225.2,896.1 1227.7,896.5 1230.2,896.8 1232.7,897.1 1235.2,897.4 1237.7,897.7 1240.2,898.0 1242.7,898.3 1245.2,898.6 1247.7,898.9 1250.2,899.2 1252.7,899.5 1255.2,899.7 1257.7,900.0 1260.2,900.2 1262.7,900.5 1265.2,900.7 1267.7,900.9 1270.2,900.7 1272.7,900.0 1275.2,898.8 1277.7,897.1" stroke="#7D4E4E" stroke-width="5.7"/>
<path d="M182.7,850.0 185.2,850.0 187.7,850.0 190.2,849.8 192.7,849.5 195.2,849.0 197.7,848.3 200.2,847.4 202.7,846.3 205.2,844.9 207.7,843.2 210.2,841.3 212.7,839.0 215.2,836.4 217.7,833.5 220.2,830.2 222.7,826.5 225.2,822.4 227.7,817.9 230.2,813.0 232.7,807.5 235.2,801.6 237.7,795.2 240.2,788.3 242.7,780.8 245.2,772.7 247.7,764.2 250.2,755.2 252.7,745.8 255.2,736.1 257.7,726.1 260.2,715.9 262.7,705.6 265.2,695.1 267.7,684.7 270.2,674.3 272.7,664.0 275.2,653.8 277.7,643.8 280.2,634.1 282.7,624.6 285.2,615.4 287.7,606.4 290.2,597.6 292.7,589.1 295.2,580.8 297.7,572.7 300.2,564.9 302.7,557.2 305.2,549.7 307.7,542.3 310.2,535.2 312.7,528.1 315.2,521.3 317.7,514.6 320.2,508.0 322.7,501.7 325.2,495.4 327.7,489.4 330.2,483.5 332.7,477.8 335.2,472.2 337.7,466.9 340.2,461.7 342.7,456.7 345.2,451.9 347.7,447.3 350.2,442.9 352.7,438.6 355.2,434.4 357.7,430.4 360.2,426.6 362.7,422.8 365.2,419.3 367.7,415.8 370.2,412.5 372.7,409.4 375.2,406.3 377.7,403.4 380.2,400.7 382.7,398.0 385.2,395.5 387.7,393.1 390.2,390.8 392.7,388.7 395.2,386.7 397.7,384.7 400.2,382.9 402.7,381.2 405.2,379.7 407.7,378.2 410.2,376.8 412.7,375.6 415.2,374.4 417.7,373.4 420.2,372.4 422.7,371.6 425.2,370.8 427.7,370.2 430.2,369.6 432.7,369.2 435.2,368.8 437.7,368.5 440.2,368.3 442.7,368.2 445.2,368.2 447.7,368.2 450.2,368.4 452.7,368.6 455.2,368.8 457.7,369.2 460.2,369.6 462.7,370.0 465.2,370.6 467.7,371.2 470.2,371.9 472.7,372.7 475.2,373.5 477.7,374.4 480.2,375.4 482.7,376.4 485.2,377.6 487.7,378.7 490.2,380.0 492.7,381.3 495.2,382.8 497.7,384.2 500.2,385.8 502.7,387.4 505.2,389.1 507.7,390.9 510.2,392.8 512.7,394.7 515.2,396.7 517.7,398.8 520.2,401.0 522.7,403.2 525.2,405.5 527.7,407.8 530.2,410.2 532.7,412.7 535.2,415.2 537.7,417.8 540.2,420.4 542.7,423.0 545.2,425.7 547.7,428.4 550.2,431.2 552.7,434.0 555.2,436.9 557.7,439.8 560.2,442.7 562.7,445.6 565.2,448.6 567.7,451.6 570.2,454.7 572.7,457.7 575.2,460.8 577.7,463.9 580.2,467.0 582.7,470.2 585.2,473.3 587.7,476.5 590.2,479.7 592.7,482.9 595.2,486.1 597.7,489.4 600.2,492.7 602.7,495.9 605.2,499.2 607.7,502.6 610.2,505.9 612.7,509.2 615.2,512.6 617.7,516.0 620.2,519.4 622.7,522.8 625.2,526.2 627.7,529.6 630.2,533.0 632.7,536.5 635.2,539.9 637.7,543.3 640.2,546.8 642.7,550.2 645.2,553.7 647.7,557.1 650.2,560.6 652.7,564.0 655.2,567.4 657.7,570.9 660.2,574.3 662.7,577.7 665.2,581.1 667.7,584.5 670.2,587.9 672.7,591.2 675.2,594.6 677.7,597.9 680.2,601.3 682.7,604.6 685.2,607.9 687.7,611.2 690.2,614.4 692.7,617.7 695.2,620.9 697.7,624.1 700.2,627.2 702.7,630.4 705.2,633.5 707.7,636.6 710.2,639.7 712.7,642.8 715.2,645.8 717.7,648.8 720.2,651.8 722.7,654.7 725.2,657.7 727.7,660.6 730.2,663.4 732.7,666.3 735.2,669.1 737.7,671.9 740.2,674.6 742.7,677.4 745.2,680.1 747.7,682.7 750.2,685.4 752.7,688.0 755.2,690.5 757.7,693.1 760.2,695.6 762.7,698.1 765.2,700.5 767.7,703.0 770.2,705.4 772.7,707.8 775.2,710.2 777.7,712.6 780.2,714.9 782.7,717.2 785.2,719.5 787.7,721.8 790.2,724.0 792.7,726.3 795.2,728.5 797.7,730.7 800.2,732.9 802.7,735.0 805.2,737.2 807.7,739.3 810.2,741.4 812.7,743.5 815.2,745.5 817.7,747.6 820.2,749.6 822.7,751.6 825.2,753.6 827.7,755.5 830.2,757.5 832.7,759.4 835.2,761.3 837.7,763.2 840.2,765.1 842.7,766.9 845.2,768.8 847.7,770.6 850.2,772.4 852.7,774.2 855.2,775.9 857.7,777.7 860.2,779.4 862.7,781.1 865.2,782.8 867.7,784.5 870.2,786.1 872.7,787.8 875.2,789.4 877.7,791.0 880.2,792.6 882.7,794.2 885.2,795.8 887.7,797.3 890.2,798.8 892.7,800.3 895.2,801.8 897.7,803.3 900.2,804.8 902.7,806.2 905.2,807.7 907.7,809.1 910.2,810.5 912.7,811.9 915.2,813.3 917.7,814.6 920.2,816.0 922.7,817.3 925.2,818.6 927.7,819.9 930.2,821.2 932.7,822.5 935.2,823.7 937.7,825.0 940.2,826.2 942.7,827.4 945.2,828.6 947.7,829.8 950.2,831.0 952.7,832.1 955.2,833.3 957.7,834.4 960.2,835.5 962.7,836.6 965.2,837.7 967.7,838.8 970.2,839.9 972.7,840.9 975.2,842.0 977.7,843.0 980.2,844.0 982.7,845.0 985.2,846.0 987.7,847.0 990.2,847.9 992.7,848.9 995.2,849.9 997.7,850.8 1000.2,851.7 1002.7,852.6 1005.2,853.5 1007.7,854.4 1010.2,855.3 1012.7,856.2 1015.2,857.0 1017.7,857.9 1020.2,858.8 1022.7,859.6 1025.2,860.4 1027.7,861.3 1030.2,862.1 1032.7,862.9 1035.2,863.7 1037.7,864.5 1040.2,865.3 1042.7,866.0 1045.2,866.8 1047.7,867.6 1050.2,868.3 1052.7,869.1 1055.2,869.8 1057.7,870.5 1060.2,871.3 1062.7,872.0 1065.2,872.7 1067.7,873.4 1070.2,874.1 1072.7,874.8 1075.2,875.4 1077.7,876.1 1080.2,876.8 1082.7,877.4 1085.2,878.1 1087.7,878.7 1090.2,879.4 1092.7,880.0 1095.2,880.6 1097.7,881.3 1100.2,881.9 1102.7,882.5 1105.2,883.1 1107.7,883.7 1110.2,884.3 1112.7,884.9 1115.2,885.4 1117.7,886.0 1120.2,886.6 1122.7,887.2 1125.2,887.7 1127.7,888.3 1130.2,888.8 1132.7,889.4 1135.2,889.9 1137.7,890.4 1140.2,891.0 1142.7,891.5 1145.2,892.0 1147.7,892.5 1150.2,893.0 1152.7,893.5 1155.2,894.0 1157.7,894.5 1160.2,895.0 1162.7,895.5 1165.2,895.9 1167.7,896.4 1170.2,896.8 1172.7,897.3 1175.2,897.7 1177.7,898.2 1180.2,898.6 1182.7,899.0 1185.2,899.5 1187.7,899.9 1190.2,900.3 1192.7,900.7 1195.2,901.1 1197.7,901.5 1200.2,901.9 1202.7,902.3 1205.2,902.7 1207.7,903.0 1210.2,903.4 1212.7,903.7 1215.2,904.1 1217.7,904.4 1220.2,904.7 1222.7,905.0 1225.2,905.3 1227.7,905.6 1230.2,905.9 1232.7,906.2 1235.2,906.4 1237.7,906.7 1240.2,906.9 1242.7,907.1 1245.2,907.3 1247.7,907.5 1250.2,907.7 1252.7,907.9 1255.2,908.0 1257.7,908.2 1260.2,908.3 1262.7,908.4 1265.2,908.5 1267.7,908.6 1270.2,908.3 1272.7,907.5 1275.2,906.2 1277.7,904.4" stroke="#FB6501" stroke-width="5.7"/>
<path d="M182.7,861.2 185.2,860.8 187.7,860.4 190.2,859.9 192.7,859.5 195.2,859.0 197.7,858.4 200.2,857.7 202.7,856.9 205.2,856.0 207.7,854.8 210.2,853.4 212.7,851.8 215.2,849.9 217.7,847.7 220.2,845.2 222.7,842.3 225.2,839.1 227.7,835.4 230.2,831.3 232.7,826.8 235.2,821.7 237.7,816.1 240.2,809.9 242.7,803.1 245.2,795.6 247.7,787.4 250.2,778.7 252.7,769.4 255.2,759.7 257.7,749.6 260.2,739.1 262.7,728.3 265.2,717.3 267.7,706.2 270.2,694.9 272.7,683.7 275.2,672.6 277.7,661.7 280.2,651.1 282.7,640.8 285.2,630.7 287.7,620.9 290.2,611.4 292.7,602.1 295.2,593.1 297.7,584.3 300.2,575.8 302.7,567.3 305.2,558.9 307.7,550.4 310.2,542.1 312.7,533.7 315.2,525.5 317.7,517.3 320.2,509.2 322.7,501.3 325.2,493.5 327.7,485.9 330.2,478.5 332.7,471.4 335.2,464.6 337.7,458.1 340.2,452.0 342.7,446.3 345.2,441.1 347.7,436.2 350.2,431.5 352.7,426.9 355.2,422.5 357.7,418.2 360.2,414.1 362.7,410.2 365.2,406.4 367.7,402.8 370.2,399.3 372.7,396.0 375.2,392.8 377.7,389.7 380.2,386.8 382.7,384.0 385.2,381.4 387.7,378.9 390.2,376.5 392.7,374.3 395.2,372.1 397.7,370.1 400.2,368.2 402.7,366.5 405.2,364.8 407.7,363.3 410.2,361.8 412.7,360.5 415.2,359.3 417.7,358.2 420.2,357.2 422.7,356.2 425.2,355.4 427.7,354.7 430.2,354.0 432.7,353.5 435.2,353.0 437.7,352.6 440.2,352.3 442.7,352.1 445.2,352.0 447.7,351.9 450.2,351.9 452.7,351.9 455.2,352.1 457.7,352.3 460.2,352.6 462.7,352.9 465.2,353.4 467.7,353.9 470.2,354.5 472.7,355.1 475.2,355.9 477.7,356.7 480.2,357.6 482.7,358.5 485.2,359.5 487.7,360.7 490.2,361.8 492.7,363.1 495.2,364.4 497.7,365.8 500.2,367.3 502.7,368.9 505.2,370.5 507.7,372.2 510.2,374.0 512.7,375.9 515.2,377.8 517.7,379.8 520.2,381.9 522.7,384.1 525.2,386.3 527.7,388.6 530.2,390.9 532.7,393.3 535.2,395.8 537.7,398.3 540.2,400.8 542.7,403.4 545.2,406.1 547.7,408.7 550.2,411.5 552.7,414.2 555.2,417.1 557.7,419.9 560.2,422.8 562.7,425.7 565.2,428.7 567.7,431.7 570.2,434.7 572.7,437.7 575.2,440.8 577.7,443.9 580.2,447.0 582.7,450.1 585.2,453.3 587.7,456.5 590.2,459.8 592.7,463.0 595.2,466.3 597.7,469.6 600.2,472.9 602.7,476.2 605.2,479.6 607.7,483.0 610.2,486.3 612.7,489.7 615.2,493.1 617.7,496.5 620.2,499.9 622.7,503.2 625.2,506.6 627.7,510.0 630.2,513.4 632.7,516.8 635.2,520.2 637.7,523.6 640.2,527.0 642.7,530.4 645.2,533.8 647.7,537.2 650.2,540.6 652.7,544.0 655.2,547.4 657.7,550.7 660.2,554.1 662.7,557.4 665.2,560.8 667.7,564.1 670.2,567.4 672.7,570.7 675.2,574.0 677.7,577.3 680.2,580.5 682.7,583.8 685.2,587.0 687.7,590.2 690.2,593.4 692.7,596.6 695.2,599.8 697.7,602.9 700.2,606.0 702.7,609.1 705.2,612.2 707.7,615.3 710.2,618.3 712.7,621.3 715.2,624.3 717.7,627.3 720.2,630.2 722.7,633.2 725.2,636.1 727.7,639.0 730.2,641.8 732.7,644.7 735.2,647.5 737.7,650.3 740.2,653.1 742.7,655.8 745.2,658.6 747.7,661.3 750.2,664.0 752.7,666.7 755.2,669.3 757.7,672.0 760.2,674.6 762.7,677.2 765.2,679.8 767.7,682.3 770.2,684.9 772.7,687.4 775.2,689.9 777.7,692.3 780.2,694.8 782.7,697.2 785.2,699.6 787.7,702.0 790.2,704.4 792.7,706.7 795.2,709.1 797.7,711.4 800.2,713.7 802.7,716.0 805.2,718.2 807.7,720.4 810.2,722.7 812.7,724.9 815.2,727.0 817.7,729.2 820.2,731.3 822.7,733.4 825.2,735.5 827.7,737.6 830.2,739.7 832.7,741.7 835.2,743.8 837.7,745.8 840.2,747.8 842.7,749.7 845.2,751.7 847.7,753.6 850.2,755.5 852.7,757.4 855.2,759.3 857.7,761.2 860.2,763.0 862.7,764.9 865.2,766.7 867.7,768.5 870.2,770.3 872.7,772.0 875.2,773.8 877.7,775.5 880.2,777.2 882.7,778.9 885.2,780.6 887.7,782.2 890.2,783.9 892.7,785.5 895.2,787.1 897.7,788.7 900.2,790.3 902.7,791.8 905.2,793.4 907.7,794.9 910.2,796.4 912.7,797.9 915.2,799.4 917.7,800.9 920.2,802.3 922.7,803.8 925.2,805.2 927.7,806.6 930.2,808.0 932.7,809.3 935.2,810.7 937.7,812.0 940.2,813.4 942.7,814.7 945.2,816.0 947.7,817.3 950.2,818.5 952.7,819.8 955.2,821.0 957.7,822.3 960.2,823.5 962.7,824.7 965.2,825.8 967.7,827.0 970.2,828.2 972.7,829.3 975.2,830.4 977.7,831.6 980.2,832.7 982.7,833.7 985.2,834.8 987.7,835.9 990.2,836.9 992.7,838.0 995.2,839.0 997.7,840.0 1000.2,841.0 1002.7,842.0 1005.2,842.9 1007.7,843.9 1010.2,844.8 1012.7,845.8 1015.2,846.7 1017.7,847.6 1020.2,848.5 1022.7,849.4 1025.2,850.3 1027.7,851.1 1030.2,852.0 1032.7,852.8 1035.2,853.7 1037.7,854.5 1040.2,855.3 1042.7,856.1 1045.2,856.9 1047.7,857.7 1050.2,858.4 1052.7,859.2 1055.2,860.0 1057.7,860.7 1060.2,861.5 1062.7,862.2 1065.2,862.9 1067.7,863.6 1070.2,864.3 1072.7,865.1 1075.2,865.7 1077.7,866.4 1080.2,867.1 1082.7,867.8 1085.2,868.5 1087.7,869.1 1090.2,869.8 1092.7,870.4 1095.2,871.1 1097.7,871.7 1100.2,872.4 1102.7,873.0 1105.2,873.6 1107.7,874.2 1110.2,874.8 1112.7,875.5 1115.2,876.1 1117.7,876.7 1120.2,877.3 1122.7,877.8 1125.2,878.4 1127.7,879.0 1130.2,879.6 1132.7,880.2 1135.2,880.7 1137.7,881.3 1140.2,881.8 1142.7,882.4 1145.2,882.9 1147.7,883.4 1150.2,884.0 1152.7,884.5 1155.2,885.0 1157.7,885.5 1160.2,886.0 1162.7,886.5 1165.2,887.0 1167.7,887.5 1170.2,888.0 1172.7,888.5 1175.2,888.9 1177.7,889.4 1180.2,889.8 1182.7,890.3 1185.2,890.7 1187.7,891.2 1190.2,891.6 1192.7,892.0 1195.2,892.5 1197.7,892.9 1200.2,893.3 1202.7,893.7 1205.2,894.1 1207.7,894.4 1210.2,894.8 1212.7,895.2 1215.2,895.6 1217.7,895.9 1220.2,896.3 1222.7,896.6 1225.2,897.0 1227.7,897.3 1230.2,897.6 1232.7,897.9 1235.2,898.2 1237.7,898.5 1240.2,898.8 1242.7,899.1 1245.2,899.4 1247.7,899.7 1250.2,899.9 1252.7,900.2 1255.2,900.5 1257.7,900.7 1260.2,900.9 1262.7,901.2 1265.2,901.4 1267.7,901.6 1270.2,901.4 1272.7,900.7 1275.2,899.5 1277.7,897.8" stroke="#FB6501" stroke-width="5.7"/>
<path d="M182.7,861.2 185.2,860.8 187.7,860.4 190.2,859.9 192.7,859.5 195.2,859.0 197.7,858.4 200.2,857.7 202.7,856.9 205.2,856.0 207.7,854.8 210.2,853.4 212.7,851.8 215.2,849.9 217.7,847.7 220.2,845.2 222.7,842.3 225.2,839.1 227.7,835.4 230.2,831.3 232.7,826.8 235.2,821.7 237.7,816.1 240.2,809.9 242.7,802.9 245.2,795.3 247.7,787.1 250.2,778.2 252.7,768.7 255.2,758.8 257.7,748.4 260.2,737.7 262.7,726.6 265.2,715.4 267.7,703.9 270.2,692.5 272.7,681.0 275.2,669.7 277.7,658.5 280.2,647.6 282.7,637.0 285.2,626.7 287.7,616.7 290.2,606.9 292.7,597.4 295.2,588.1 297.7,579.1 300.2,570.3 302.7,561.6 305.2,552.9 307.7,544.3 310.2,535.8 312.7,527.3 315.2,518.9 317.7,510.6 320.2,502.4 322.7,494.4 325.2,486.5 327.7,478.8 330.2,471.4 332.7,464.3 335.2,457.4 337.7,450.9 340.2,444.8 342.7,439.1 345.2,433.9 347.7,429.0 350.2,424.3 352.7,419.7 355.2,415.3 357.7,411.0 360.2,407.0 362.7,403.0 365.2,399.3 367.7,395.6 370.2,392.2 372.7,388.8 375.2,385.7 377.7,382.6 380.2,379.7 382.7,377.0 385.2,374.4 387.7,371.9 390.2,369.5 392.7,367.3 395.2,365.2 397.7,363.2 400.2,361.3 402.7,359.6 405.2,358.0 407.7,356.4 410.2,355.0 412.7,353.7 415.2,352.5 417.7,351.4 420.2,350.4 422.7,349.6 425.2,348.8 427.7,348.0 430.2,347.4 432.7,346.9 435.2,346.4 437.7,346.1 440.2,345.8 442.7,345.6 445.2,345.5 447.7,345.4 450.2,345.4 452.7,345.4 455.2,345.6 457.7,345.7 460.2,346.0 462.7,346.3 465.2,346.6 467.7,347.0 470.2,347.5 472.7,348.1 475.2,348.7 477.7,349.4 480.2,350.2 482.7,351.0 485.2,351.9 487.7,352.9 490.2,354.0 492.7,355.1 495.2,356.4 497.7,357.7 500.2,359.1 502.7,360.6 505.2,362.2 507.7,363.9 510.2,365.6 512.7,367.5 515.2,369.5 517.7,371.5 520.2,373.7 522.7,375.9 525.2,378.2 527.7,380.6 530.2,383.0 532.7,385.5 535.2,388.0 537.7,390.6 540.2,393.3 542.7,396.0 545.2,398.7 547.7,401.6 550.2,404.4 552.7,407.3 555.2,410.2 557.7,413.2 560.2,416.2 562.7,419.3 565.2,422.3 567.7,425.5 570.2,428.6 572.7,431.7 575.2,434.9 577.7,438.1 580.2,441.4 582.7,444.6 585.2,447.9 587.7,451.2 590.2,454.5 592.7,457.8 595.2,461.2 597.7,464.6 600.2,468.0 602.7,471.4 605.2,474.8 607.7,478.2 610.2,481.7 612.7,485.2 615.2,488.6 617.7,492.1 620.2,495.6 622.7,499.1 625.2,502.5 627.7,506.0 630.2,509.5 632.7,513.0 635.2,516.5 637.7,520.1 640.2,523.6 642.7,527.1 645.2,530.6 647.7,534.0 650.2,537.5 652.7,541.0 655.2,544.5 657.7,548.0 660.2,551.4 662.7,554.9 665.2,558.3 667.7,561.8 670.2,565.2 672.7,568.6 675.2,572.0 677.7,575.4 680.2,578.8 682.7,582.1 685.2,585.5 687.7,588.8 690.2,592.1 692.7,595.4 695.2,598.6 697.7,601.9 700.2,605.1 702.7,608.3 705.2,611.5 707.7,614.6 710.2,617.7 712.7,620.9 715.2,623.9 717.7,627.0 720.2,630.0 722.7,633.1 725.2,636.1 727.7,639.0 730.2,642.0 732.7,644.9 735.2,647.8 737.7,650.7 740.2,653.5 742.7,656.4 745.2,659.2 747.7,662.0 750.2,664.8 752.7,667.5 755.2,670.2 757.7,672.9 760.2,675.6 762.7,678.3 765.2,680.9 767.7,683.5 770.2,686.1 772.7,688.7 775.2,691.3 777.7,693.8 780.2,696.3 782.7,698.8 785.2,701.3 787.7,703.8 790.2,706.2 792.7,708.7 795.2,711.1 797.7,713.5 800.2,715.8 802.7,718.2 805.2,720.5 807.7,722.8 810.2,725.1 812.7,727.4 815.2,729.7 817.7,731.9 820.2,734.1 822.7,736.3 825.2,738.5 827.7,740.6 830.2,742.8 832.7,744.9 835.2,747.0 837.7,749.0 840.2,751.1 842.7,753.1 845.2,755.1 847.7,757.1 850.2,759.1 852.7,761.0 855.2,763.0 857.7,764.9 860.2,766.8 862.7,768.6 865.2,770.5 867.7,772.3 870.2,774.1 872.7,775.9 875.2,777.7 877.7,779.4 880.2,781.2 882.7,782.9 885.2,784.6 887.7,786.3 890.2,787.9 892.7,789.5 895.2,791.1 897.7,792.7 900.2,794.3 902.7,795.9 905.2,797.4 907.7,798.9 910.2,800.4 912.7,801.9 915.2,803.4 917.7,804.8 920.2,806.2 922.7,807.6 925.2,809.0 927.7,810.4 930.2,811.7 932.7,813.1 935.2,814.4 937.7,815.7 940.2,817.0 942.7,818.3 945.2,819.6 947.7,820.8 950.2,822.1 952.7,823.3 955.2,824.5 957.7,825.7 960.2,826.9 962.7,828.1 965.2,829.2 967.7,830.4 970.2,831.5 972.7,832.6 975.2,833.7 977.7,834.8 980.2,835.9 982.7,837.0 985.2,838.0 987.7,839.0 990.2,840.1 992.7,841.1 995.2,842.1 997.7,843.1 1000.2,844.0 1002.7,845.0 1005.2,846.0 1007.7,846.9 1010.2,847.8 1012.7,848.7 1015.2,849.6 1017.7,850.5 1020.2,851.4 1022.7,852.3 1025.2,853.1 1027.7,854.0 1030.2,854.8 1032.7,855.6 1035.2,856.5 1037.7,857.3 1040.2,858.1 1042.7,858.8 1045.2,859.6 1047.7,860.4 1050.2,861.2 1052.7,861.9 1055.2,862.7 1057.7,863.4 1060.2,864.1 1062.7,864.8 1065.2,865.5 1067.7,866.2 1070.2,866.9 1072.7,867.6 1075.2,868.3 1077.7,869.0 1080.2,869.7 1082.7,870.3 1085.2,871.0 1087.7,871.6 1090.2,872.3 1092.7,872.9 1095.2,873.5 1097.7,874.2 1100.2,874.8 1102.7,875.4 1105.2,876.0 1107.7,876.5 1110.2,877.1 1112.7,877.6 1115.2,878.1 1117.7,878.6 1120.2,879.1 1122.7,879.6 1125.2,880.0 1127.7,880.5 1130.2,880.9 1132.7,881.4 1135.2,881.8 1137.7,882.2 1140.2,882.6 1142.7,883.0 1145.2,883.4 1147.7,883.8 1150.2,884.2 1152.7,884.6 1155.2,885.0 1157.7,885.4 1160.2,885.8 1162.7,886.2 1165.2,886.6 1167.7,887.1 1170.2,887.5 1172.7,887.9 1175.2,888.3 1177.7,888.7 1180.2,889.1 1182.7,889.5 1185.2,889.9 1187.7,890.3 1190.2,890.6 1192.7,891.0 1195.2,891.4 1197.7,891.7 1200.2,892.1 1202.7,892.4 1205.2,892.8 1207.7,893.1 1210.2,893.5 1212.7,893.8 1215.2,894.1 1217.7,894.5 1220.2,894.8 1222.7,895.1 1225.2,895.4 1227.7,895.7 1230.2,896.0 1232.7,896.3 1235.2,896.6 1237.7,896.9 1240.2,897.2 1242.7,897.5 1245.2,897.8 1247.7,898.1 1250.2,898.3 1252.7,898.6 1255.2,898.9 1257.7,899.1 1260.2,899.4 1262.7,899.6 1265.2,899.9 1267.7,900.1 1270.2,899.9 1272.7,899.3 1275.2,898.1 1277.7,896.4" stroke="#6699CC" stroke-width="5.7"/>
<path d="M182.7,839.3 185.2,840.1 187.7,840.7 190.2,841.0 192.7,841.0 195.2,840.6 197.7,839.9 200.2,838.9 202.7,837.4 205.2,835.6 207.7,833.3 210.2,830.7 212.7,827.6 215.2,824.0 217.7,820.1 220.2,815.6 222.7,810.8 225.2,805.5 227.7,799.8 230.2,793.7 232.7,787.2 235.2,780.4 237.7,773.2 240.2,765.6 242.7,757.6 245.2,749.4 247.7,740.8 250.2,731.9 252.7,722.7 255.2,713.3 257.7,703.7 260.2,693.9 262.7,684.0 265.2,674.0 267.7,664.0 270.2,653.9 272.7,643.9 275.2,633.9 277.7,624.0 280.2,614.2 282.7,604.6 285.2,595.1 287.7,585.8 290.2,576.6 292.7,567.7 295.2,558.9 297.7,550.3 300.2,541.9 302.7,533.8 305.2,525.8 307.7,518.1 310.2,510.7 312.7,503.5 315.2,496.6 317.7,489.9 320.2,483.4 322.7,477.1 325.2,471.1 327.7,465.3 330.2,459.6 332.7,454.2 335.2,448.9 337.7,443.9 340.2,438.9 342.7,434.2 345.2,429.6 347.7,425.1 350.2,420.7 352.7,416.5 355.2,412.4 357.7,408.4 360.2,404.5 362.7,400.7 365.2,397.0 367.7,393.3 370.2,389.7 372.7,386.2 375.2,382.7 377.7,379.2 380.2,375.8 382.7,372.4 385.2,369.0 387.7,365.6 390.2,362.2 392.7,358.8 395.2,355.5 397.7,352.1 400.2,348.8 402.7,345.5 405.2,342.2 407.7,339.0 410.2,335.8 412.7,332.6 415.2,329.5 417.7,326.4 420.2,323.4 422.7,320.4 425.2,317.5 427.7,314.6 430.2,311.8 432.7,309.1 435.2,306.4 437.7,303.8 440.2,301.3 442.7,298.8 445.2,296.5 447.7,294.2 450.2,292.0 452.7,289.8 455.2,287.8 457.7,285.8 460.2,283.9 462.7,282.2 465.2,280.4 467.7,278.8 470.2,277.3 472.7,275.8 475.2,274.4 477.7,273.2 480.2,271.9 482.7,270.8 485.2,269.8 487.7,268.8 490.2,267.9 492.7,267.1 495.2,266.3 497.7,265.7 500.2,265.1 502.7,264.6 505.2,264.2 507.7,263.8 510.2,263.6 512.7,263.4 515.2,263.3 517.7,263.2 520.2,263.2 522.7,263.4 525.2,263.5 527.7,263.8 530.2,264.1 532.7,264.5 535.2,265.0 537.7,265.5 540.2,266.1 542.7,266.8 545.2,267.5 547.7,268.4 550.2,269.3 552.7,270.2 555.2,271.2 557.7,272.3 560.2,273.5 562.7,274.7 565.2,276.0 567.7,277.4 570.2,278.8 572.7,280.3 575.2,281.8 577.7,283.4 580.2,285.1 582.7,286.8 585.2,288.6 587.7,290.5 590.2,292.4 592.7,294.3 595.2,296.3 597.7,298.4 600.2,300.5 602.7,302.6 605.2,304.8 607.7,307.1 610.2,309.4 612.7,311.7 615.2,314.1 617.7,316.6 620.2,319.0 622.7,321.5 625.2,324.1 627.7,326.7 630.2,329.3 632.7,332.0 635.2,334.7 637.7,337.4 640.2,340.2 642.7,343.0 645.2,345.8 647.7,348.7 650.2,351.6 652.7,354.5 655.2,357.5 657.7,360.5 660.2,363.5 662.7,366.5 665.2,369.5 667.7,372.6 670.2,375.7 672.7,378.8 675.2,381.9 677.7,385.1 680.2,388.2 682.7,391.4 685.2,394.6 687.7,397.8 690.2,401.0 692.7,404.2 695.2,407.4 697.7,410.7 700.2,413.9 702.7,417.2 705.2,420.4 707.7,423.7 710.2,427.0 712.7,430.2 715.2,433.5 717.7,436.8 720.2,440.1 722.7,443.3 725.2,446.6 727.7,449.8 730.2,453.1 732.7,456.3 735.2,459.6 737.7,462.8 740.2,466.0 742.7,469.2 745.2,472.4 747.7,475.6 750.2,478.8 752.7,482.0 755.2,485.2 757.7,488.4 760.2,491.5 762.7,494.7 765.2,497.8 767.7,501.0 770.2,504.1 772.7,507.2 775.2,510.3 777.7,513.4 780.2,516.5 782.7,519.6 785.2,522.6 787.7,525.7 790.2,528.7 792.7,531.8 795.2,534.8 797.7,537.8 800.2,540.8 802.7,543.8 805.2,546.8 807.7,549.8 810.2,552.7 812.7,555.7 815.2,558.6 817.7,561.5 820.2,564.5 822.7,567.4 825.2,570.3 827.7,573.1 830.2,576.0 832.7,578.9 835.2,581.7 837.7,584.5 840.2,587.3 842.7,590.1 845.2,592.9 847.7,595.7 850.2,598.5 852.7,601.2 855.2,603.9 857.7,606.7 860.2,609.4 862.7,612.1 865.2,614.7 867.7,617.4 870.2,620.0 872.7,622.7 875.2,625.3 877.7,627.9 880.2,630.5 882.7,633.0 885.2,635.6 887.7,638.1 890.2,640.7 892.7,643.2 895.2,645.6 897.7,648.1 900.2,650.6 902.7,653.0 905.2,655.4 907.7,657.8 910.2,660.2 912.7,662.6 915.2,665.0 917.7,667.3 920.2,669.6 922.7,672.0 925.2,674.2 927.7,676.5 930.2,678.8 932.7,681.0 935.2,683.3 937.7,685.5 940.2,687.7 942.7,689.9 945.2,692.0 947.7,694.2 950.2,696.3 952.7,698.5 955.2,700.6 957.7,702.7 960.2,704.8 962.7,706.8 965.2,708.9 967.7,710.9 970.2,712.9 972.7,714.9 975.2,716.9 977.7,718.9 980.2,720.9 982.7,722.8 985.2,724.8 987.7,726.7 990.2,728.6 992.7,730.5 995.2,732.4 997.7,734.2 1000.2,736.1 1002.7,737.9 1005.2,739.7 1007.7,741.6 1010.2,743.4 1012.7,745.1 1015.2,746.9 1017.7,748.7 1020.2,750.4 1022.7,752.1 1025.2,753.9 1027.7,755.6 1030.2,757.3 1032.7,758.9 1035.2,760.6 1037.7,762.3 1040.2,763.9 1042.7,765.5 1045.2,767.2 1047.7,768.8 1050.2,770.4 1052.7,771.9 1055.2,773.5 1057.7,775.1 1060.2,776.6 1062.7,778.1 1065.2,779.7 1067.7,781.2 1070.2,782.7 1072.7,784.2 1075.2,785.6 1077.7,787.1 1080.2,788.6 1082.7,790.0 1085.2,791.4 1087.7,792.8 1090.2,794.2 1092.7,795.6 1095.2,797.0 1097.7,798.4 1100.2,799.8 1102.7,801.1 1105.2,802.5 1107.7,803.8 1110.2,805.1 1112.7,806.4 1115.2,807.7 1117.7,809.0 1120.2,810.3 1122.7,811.5 1125.2,812.8 1127.7,814.1 1130.2,815.3 1132.7,816.5 1135.2,817.7 1137.7,818.9 1140.2,820.1 1142.7,821.3 1145.2,822.5 1147.7,823.6 1150.2,824.8 1152.7,825.9 1155.2,827.0 1157.7,828.1 1160.2,829.3 1162.7,830.3 1165.2,831.4 1167.7,832.5 1170.2,833.6 1172.7,834.6 1175.2,835.7 1177.7,836.7 1180.2,837.7 1182.7,838.7 1185.2,839.7 1187.7,840.7 1190.2,841.7 1192.7,842.6 1195.2,843.6 1197.7,844.5 1200.2,845.5 1202.7,846.4 1205.2,847.3 1207.7,848.2 1210.2,849.1 1212.7,850.0 1215.2,850.8 1217.7,851.7 1220.2,852.5 1222.7,853.4 1225.2,854.2 1227.7,855.0 1230.2,855.8 1232.7,856.6 1235.2,857.4 1237.7,858.2 1240.2,858.9 1242.7,859.7 1245.2,860.4 1247.7,861.1 1250.2,861.8 1252.7,862.6 1255.2,863.3 1257.7,863.9 1260.2,864.6 1262.7,865.3 1265.2,865.9 1267.7,866.4 1270.2,866.2 1272.7,865.4 1275.2,863.9 1277.7,861.7" stroke="#6FB802" stroke-width="5.6"/>
<path d="M182.7,838.7 185.2,839.3 187.7,839.7 190.2,839.7 192.7,839.5 195.2,839.0 197.7,838.2 200.2,837.0 202.7,835.6 205.2,833.8 207.7,831.6 210.2,829.1 212.7,826.2 215.2,823.0 217.7,819.3 220.2,815.2 222.7,810.7 225.2,805.8 227.7,800.4 230.2,794.6 232.7,788.3 235.2,781.5 237.7,774.3 240.2,766.5 242.7,758.2 245.2,749.4 247.7,740.1 250.2,730.5 252.7,720.5 255.2,710.3 257.7,699.9 260.2,689.4 262.7,678.8 265.2,668.2 267.7,657.8 270.2,647.5 272.7,637.3 275.2,627.4 277.7,617.6 280.2,608.0 282.7,598.5 285.2,589.3 287.7,580.2 290.2,571.3 292.7,562.6 295.2,554.0 297.7,545.6 300.2,537.4 302.7,529.4 305.2,521.5 307.7,513.8 310.2,506.3 312.7,499.0 315.2,491.8 317.7,484.8 320.2,478.0 322.7,471.4 325.2,464.9 327.7,458.6 330.2,452.5 332.7,446.6 335.2,440.8 337.7,435.2 340.2,429.8 342.7,424.6 345.2,419.5 347.7,414.6 350.2,409.9 352.7,405.3 355.2,400.9 357.7,396.7 360.2,392.6 362.7,388.7 365.2,384.9 367.7,381.3 370.2,377.8 372.7,374.5 375.2,371.3 377.7,368.3 380.2,365.4 382.7,362.7 385.2,360.1 387.7,357.6 390.2,355.3 392.7,353.1 395.2,351.0 397.7,349.0 400.2,347.2 402.7,345.5 405.2,343.9 407.7,342.4 410.2,341.0 412.7,339.8 415.2,338.6 417.7,337.6 420.2,336.6 422.7,335.8 425.2,335.0 427.7,334.4 430.2,333.8 432.7,333.4 435.2,333.0 437.7,332.7 440.2,332.5 442.7,332.4 445.2,332.4 447.7,332.4 450.2,332.6 452.7,332.8 455.2,333.0 457.7,333.4 460.2,333.8 462.7,334.3 465.2,334.9 467.7,335.6 470.2,336.3 472.7,337.2 475.2,338.1 477.7,339.1 480.2,340.1 482.7,341.3 485.2,342.5 487.7,343.8 490.2,345.2 492.7,346.6 495.2,348.2 497.7,349.8 500.2,351.5 502.7,353.2 505.2,355.1 507.7,357.0 510.2,359.0 512.7,361.1 515.2,363.3 517.7,365.6 520.2,367.9 522.7,370.3 525.2,372.7 527.7,375.3 530.2,377.9 532.7,380.5 535.2,383.2 537.7,386.0 540.2,388.8 542.7,391.7 545.2,394.6 547.7,397.6 550.2,400.6 552.7,403.6 555.2,406.7 557.7,409.8 560.2,412.9 562.7,416.1 565.2,419.3 567.7,422.5 570.2,425.8 572.7,429.0 575.2,432.3 577.7,435.6 580.2,438.9 582.7,442.2 585.2,445.6 587.7,448.9 590.2,452.3 592.7,455.7 595.2,459.0 597.7,462.4 600.2,465.9 602.7,469.3 605.2,472.7 607.7,476.1 610.2,479.6 612.7,483.0 615.2,486.5 617.7,490.0 620.2,493.4 622.7,496.9 625.2,500.4 627.7,503.8 630.2,507.3 632.7,510.8 635.2,514.2 637.7,517.7 640.2,521.2 642.7,524.6 645.2,528.1 647.7,531.5 650.2,535.0 652.7,538.4 655.2,541.8 657.7,545.3 660.2,548.7 662.7,552.1 665.2,555.5 667.7,558.9 670.2,562.2 672.7,565.6 675.2,568.9 677.7,572.3 680.2,575.6 682.7,578.9 685.2,582.1 687.7,585.4 690.2,588.6 692.7,591.9 695.2,595.1 697.7,598.2 700.2,601.4 702.7,604.5 705.2,607.7 707.7,610.7 710.2,613.8 712.7,616.9 715.2,619.9 717.7,622.9 720.2,625.9 722.7,628.8 725.2,631.8 727.7,634.7 730.2,637.6 732.7,640.4 735.2,643.3 737.7,646.1 740.2,648.9 742.7,651.7 745.2,654.5 747.7,657.2 750.2,659.9 752.7,662.6 755.2,665.3 757.7,668.0 760.2,670.6 762.7,673.2 765.2,675.8 767.7,678.4 770.2,680.9 772.7,683.5 775.2,686.0 777.7,688.5 780.2,691.0 782.7,693.4 785.2,695.8 787.7,698.3 790.2,700.6 792.7,703.0 795.2,705.4 797.7,707.7 800.2,710.0 802.7,712.3 805.2,714.6 807.7,716.9 810.2,719.1 812.7,721.3 815.2,723.5 817.7,725.7 820.2,727.8 822.7,730.0 825.2,732.1 827.7,734.2 830.2,736.3 832.7,738.4 835.2,740.4 837.7,742.5 840.2,744.5 842.7,746.5 845.2,748.4 847.7,750.4 850.2,752.3 852.7,754.3 855.2,756.2 857.7,758.1 860.2,759.9 862.7,761.8 865.2,763.6 867.7,765.4 870.2,767.2 872.7,769.0 875.2,770.8 877.7,772.5 880.2,774.3 882.7,776.0 885.2,777.7 887.7,779.4 890.2,781.0 892.7,782.7 895.2,784.3 897.7,785.9 900.2,787.5 902.7,789.1 905.2,790.7 907.7,792.2 910.2,793.7 912.7,795.3 915.2,796.8 917.7,798.2 920.2,799.7 922.7,801.2 925.2,802.6 927.7,804.0 930.2,805.4 932.7,806.8 935.2,808.2 937.7,809.6 940.2,810.9 942.7,812.3 945.2,813.6 947.7,814.9 950.2,816.2 952.7,817.4 955.2,818.7 957.7,819.9 960.2,821.2 962.7,822.4 965.2,823.6 967.7,824.8 970.2,825.9 972.7,827.1 975.2,828.2 977.7,829.4 980.2,830.5 982.7,831.6 985.2,832.7 987.7,833.8 990.2,834.8 992.7,835.9 995.2,836.9 997.7,837.9 1000.2,838.9 1002.7,839.9 1005.2,840.9 1007.7,841.9 1010.2,842.8 1012.7,843.8 1015.2,844.7 1017.7,845.6 1020.2,846.6 1022.7,847.5 1025.2,848.3 1027.7,849.2 1030.2,850.1 1032.7,850.9 1035.2,851.8 1037.7,852.6 1040.2,853.4 1042.7,854.3 1045.2,855.1 1047.7,855.9 1050.2,856.6 1052.7,857.4 1055.2,858.2 1057.7,858.9 1060.2,859.7 1062.7,860.4 1065.2,861.2 1067.7,861.9 1070.2,862.6 1072.7,863.3 1075.2,864.0 1077.7,864.7 1080.2,865.4 1082.7,866.1 1085.2,866.8 1087.7,867.5 1090.2,868.1 1092.7,868.8 1095.2,869.4 1097.7,870.1 1100.2,870.7 1102.7,871.4 1105.2,872.0 1107.7,872.6 1110.2,873.3 1112.7,873.9 1115.2,874.5 1117.7,875.1 1120.2,875.7 1122.7,876.3 1125.2,876.9 1127.7,877.5 1130.2,878.1 1132.7,878.6 1135.2,879.2 1137.7,879.8 1140.2,880.3 1142.7,880.9 1145.2,881.4 1147.7,882.0 1150.2,882.5 1152.7,883.1 1155.2,883.6 1157.7,884.1 1160.2,884.6 1162.7,885.1 1165.2,885.6 1167.7,886.1 1170.2,886.6 1172.7,887.1 1175.2,887.6 1177.7,888.1 1180.2,888.5 1182.7,889.0 1185.2,889.4 1187.7,889.9 1190.2,890.3 1192.7,890.8 1195.2,891.2 1197.7,891.6 1200.2,892.0 1202.7,892.4 1205.2,892.8 1207.7,893.2 1210.2,893.6 1212.7,894.0 1215.2,894.4 1217.7,894.8 1220.2,895.1 1222.7,895.5 1225.2,895.8 1227.7,896.2 1230.2,896.5 1232.7,896.8 1235.2,897.2 1237.7,897.5 1240.2,897.8 1242.7,898.1 1245.2,898.4 1247.7,898.7 1250.2,898.9 1252.7,899.2 1255.2,899.5 1257.7,899.7 1260.2,900.0 1262.7,900.2 1265.2,900.5 1267.7,900.7 1270.2,900.5 1272.7,899.8 1275.2,898.6 1277.7,896.9" stroke="#515151" stroke-width="5.7"/>
<path d="M182.7,861.2 185.2,860.7 187.7,860.1 190.2,859.5 192.7,858.9 195.2,858.3 197.7,857.5 200.2,856.7 202.7,855.7 205.2,854.5 207.7,853.1 210.2,851.4 212.7,849.5 215.2,847.3 217.7,844.8 220.2,841.9 222.7,838.6 225.2,834.9 227.7,830.8 230.2,826.3 232.7,821.2 235.2,815.7 237.7,809.6 240.2,802.9 242.7,795.6 245.2,787.8 247.7,779.3 250.2,770.3 252.7,760.9 255.2,751.1 257.7,740.9 260.2,730.5 262.7,719.9 265.2,709.1 267.7,698.3 270.2,687.5 272.7,676.7 275.2,666.1 277.7,655.8 280.2,645.7 282.7,635.9 285.2,626.5 287.7,617.3 290.2,608.5 292.7,599.9 295.2,591.6 297.7,583.6 300.2,575.8 302.7,568.3 305.2,561.1 307.7,554.0 310.2,547.2 312.7,540.6 315.2,534.1 317.7,527.9 320.2,521.8 322.7,515.9 325.2,510.2 327.7,504.6 330.2,499.2 332.7,494.0 335.2,488.9 337.7,483.9 340.2,479.1 342.7,474.5 345.2,469.9 347.7,465.6 350.2,461.4 352.7,457.4 355.2,453.5 357.7,449.9 360.2,446.4 362.7,443.0 365.2,439.8 367.7,436.8 370.2,434.0 372.7,431.2 375.2,428.7 377.7,426.3 380.2,424.0 382.7,421.8 385.2,419.8 387.7,417.9 390.2,416.2 392.7,414.6 395.2,413.1 397.7,411.7 400.2,410.4 402.7,409.2 405.2,408.2 407.7,407.2 410.2,406.4 412.7,405.6 415.2,405.0 417.7,404.4 420.2,403.9 422.7,403.6 425.2,403.3 427.7,403.0 430.2,402.9 432.7,402.9 435.2,402.9 437.7,403.0 440.2,403.1 442.7,403.4 445.2,403.7 447.7,404.0 450.2,404.5 452.7,405.0 455.2,405.6 457.7,406.3 460.2,407.0 462.7,407.9 465.2,408.8 467.7,409.8 470.2,410.9 472.7,412.1 475.2,413.3 477.7,414.6 480.2,415.9 482.7,417.4 485.2,418.9 487.7,420.4 490.2,422.0 492.7,423.7 495.2,425.5 497.7,427.3 500.2,429.1 502.7,431.0 505.2,433.0 507.7,435.0 510.2,437.0 512.7,439.1 515.2,441.2 517.7,443.4 520.2,445.7 522.7,448.0 525.2,450.3 527.7,452.7 530.2,455.1 532.7,457.5 535.2,460.0 537.7,462.6 540.2,465.1 542.7,467.7 545.2,470.4 547.7,473.1 550.2,475.8 552.7,478.5 555.2,481.3 557.7,484.1 560.2,486.9 562.7,489.7 565.2,492.6 567.7,495.5 570.2,498.4 572.7,501.3 575.2,504.2 577.7,507.2 580.2,510.1 582.7,513.1 585.2,516.1 587.7,519.1 590.2,522.1 592.7,525.2 595.2,528.2 597.7,531.2 600.2,534.3 602.7,537.3 605.2,540.3 607.7,543.4 610.2,546.4 612.7,549.5 615.2,552.5 617.7,555.6 620.2,558.6 622.7,561.7 625.2,564.7 627.7,567.7 630.2,570.8 632.7,573.8 635.2,576.8 637.7,579.9 640.2,582.9 642.7,585.9 645.2,588.9 647.7,591.9 650.2,594.9 652.7,597.9 655.2,600.9 657.7,603.9 660.2,606.9 662.7,609.9 665.2,612.8 667.7,615.8 670.2,618.7 672.7,621.7 675.2,624.6 677.7,627.5 680.2,630.4 682.7,633.3 685.2,636.2 687.7,639.1 690.2,642.0 692.7,644.8 695.2,647.7 697.7,650.5 700.2,653.3 702.7,656.1 705.2,658.9 707.7,661.6 710.2,664.4 712.7,667.1 715.2,669.9 717.7,672.6 720.2,675.2 722.7,677.9 725.2,680.6 727.7,683.2 730.2,685.8 732.7,688.4 735.2,691.0 737.7,693.5 740.2,696.0 742.7,698.6 745.2,701.0 747.7,703.5 750.2,706.0 752.7,708.4 755.2,710.8 757.7,713.2 760.2,715.6 762.7,717.9 765.2,720.3 767.7,722.6 770.2,724.9 772.7,727.1 775.2,729.4 777.7,731.6 780.2,733.8 782.7,736.0 785.2,738.1 787.7,740.3 790.2,742.4 792.7,744.5 795.2,746.6 797.7,748.6 800.2,750.7 802.7,752.7 805.2,754.7 807.7,756.7 810.2,758.6 812.7,760.6 815.2,762.5 817.7,764.4 820.2,766.3 822.7,768.2 825.2,770.0 827.7,771.8 830.2,773.7 832.7,775.4 835.2,777.2 837.7,779.0 840.2,780.7 842.7,782.4 845.2,784.2 847.7,785.8 850.2,787.5 852.7,789.2 855.2,790.8 857.7,792.4 860.2,794.0 862.7,795.6 865.2,797.2 867.7,798.8 870.2,800.3 872.7,801.8 875.2,803.3 877.7,804.8 880.2,806.3 882.7,807.8 885.2,809.2 887.7,810.7 890.2,812.1 892.7,813.5 895.2,814.9 897.7,816.2 900.2,817.6 902.7,819.0 905.2,820.3 907.7,821.6 910.2,822.9 912.7,824.2 915.2,825.5 917.7,826.7 920.2,828.0 922.7,829.2 925.2,830.4 927.7,831.7 930.2,832.9 932.7,834.0 935.2,835.2 937.7,836.4 940.2,837.5 942.7,838.7 945.2,839.8 947.7,840.9 950.2,842.0 952.7,843.1 955.2,844.2 957.7,845.3 960.2,846.3 962.7,847.4 965.2,848.4 967.7,849.4 970.2,850.5 972.7,851.5 975.2,852.4 977.7,853.4 980.2,854.4 982.7,855.3 985.2,856.3 987.7,857.2 990.2,858.1 992.7,859.0 995.2,859.9 997.7,860.8 1000.2,861.7 1002.7,862.5 1005.2,863.4 1007.7,864.2 1010.2,865.0 1012.7,865.9 1015.2,866.7 1017.7,867.5 1020.2,868.3 1022.7,869.0 1025.2,869.8 1027.7,870.6 1030.2,871.3 1032.7,872.1 1035.2,872.8 1037.7,873.5 1040.2,874.3 1042.7,875.0 1045.2,875.7 1047.7,876.4 1050.2,877.0 1052.7,877.7 1055.2,878.4 1057.7,879.1 1060.2,879.7 1062.7,880.4 1065.2,881.0 1067.7,881.6 1070.2,882.3 1072.7,882.9 1075.2,883.5 1077.7,884.1 1080.2,884.7 1082.7,885.3 1085.2,885.9 1087.7,886.5 1090.2,887.1 1092.7,887.7 1095.2,888.2 1097.7,888.8 1100.2,889.4 1102.7,889.9 1105.2,890.5 1107.7,891.0 1110.2,891.6 1112.7,892.1 1115.2,892.6 1117.7,893.2 1120.2,893.7 1122.7,894.2 1125.2,894.7 1127.7,895.2 1130.2,895.7 1132.7,896.2 1135.2,896.7 1137.7,897.2 1140.2,897.7 1142.7,898.2 1145.2,898.6 1147.7,899.1 1150.2,899.5 1152.7,900.0 1155.2,900.4 1157.7,900.8 1160.2,901.2 1162.7,901.6 1165.2,902.0 1167.7,902.4 1170.2,902.8 1172.7,903.1 1175.2,903.5 1177.7,903.8 1180.2,904.1 1182.7,904.3 1185.2,904.6 1187.7,904.8 1190.2,905.0 1192.7,905.2 1195.2,905.4 1197.7,905.6 1200.2,905.7 1202.7,905.9 1205.2,906.0 1207.7,906.1 1210.2,906.2 1212.7,906.4 1215.2,906.5 1217.7,906.6 1220.2,906.7 1222.7,906.8 1225.2,906.9 1227.7,907.0 1230.2,907.0 1232.7,907.1 1235.2,907.2 1237.7,907.3 1240.2,907.4 1242.7,907.5 1245.2,907.6 1247.7,907.7 1250.2,907.8 1252.7,907.9 1255.2,908.1 1257.7,908.2 1260.2,908.3 1262.7,908.4 1265.2,908.5 1267.7,908.6 1270.2,908.3 1272.7,907.5 1275.2,906.2 1277.7,904.4" stroke="#B8743A" stroke-width="5.7"/>
<path d="M182.7,859.0 185.2,858.7 187.7,858.4 190.2,858.1 192.7,857.7 195.2,857.3 197.7,856.8 200.2,856.2 202.7,855.4 205.2,854.4 207.7,853.2 210.2,851.8 212.7,850.2 215.2,848.3 217.7,846.1 220.2,843.5 222.7,840.6 225.2,837.3 227.7,833.6 230.2,829.5 232.7,824.8 235.2,819.7 237.7,814.1 240.2,807.9 242.7,801.1 245.2,793.8 247.7,785.9 250.2,777.4 252.7,768.6 255.2,759.3 257.7,749.7 260.2,739.8 262.7,729.6 265.2,719.3 267.7,708.9 270.2,698.4 272.7,687.9 275.2,677.6 277.7,667.4 280.2,657.6 282.7,648.1 285.2,638.8 287.7,629.9 290.2,621.3 292.7,613.0 295.2,604.9 297.7,597.1 300.2,589.6 302.7,582.2 305.2,574.9 307.7,567.6 310.2,560.5 312.7,553.5 315.2,546.5 317.7,539.7 320.2,532.9 322.7,526.3 325.2,519.9 327.7,513.6 330.2,507.5 332.7,501.5 335.2,495.8 337.7,490.3 340.2,485.1 342.7,480.3 345.2,475.7 347.7,471.4 350.2,467.2 352.7,463.2 355.2,459.4 357.7,455.7 360.2,452.1 362.7,448.7 365.2,445.4 367.7,442.3 370.2,439.3 372.7,436.4 375.2,433.7 377.7,431.1 380.2,428.7 382.7,426.4 385.2,424.1 387.7,422.1 390.2,420.1 392.7,418.3 395.2,416.5 397.7,414.9 400.2,413.4 402.7,412.0 405.2,410.8 407.7,409.6 410.2,408.5 412.7,407.6 415.2,406.7 417.7,405.9 420.2,405.3 422.7,404.7 425.2,404.2 427.7,403.9 430.2,403.6 432.7,403.4 435.2,403.3 437.7,403.2 440.2,403.3 442.7,403.5 445.2,403.7 447.7,404.0 450.2,404.4 452.7,404.9 455.2,405.5 457.7,406.1 460.2,406.9 462.7,407.7 465.2,408.7 467.7,409.7 470.2,410.7 472.7,411.9 475.2,413.1 477.7,414.4 480.2,415.8 482.7,417.2 485.2,418.7 487.7,420.3 490.2,421.9 492.7,423.6 495.2,425.4 497.7,427.2 500.2,429.0 502.7,430.9 505.2,432.9 507.7,434.9 510.2,437.0 512.7,439.1 515.2,441.2 517.7,443.4 520.2,445.7 522.7,448.0 525.2,450.3 527.7,452.6 530.2,455.1 532.7,457.5 535.2,460.0 537.7,462.5 540.2,465.1 542.7,467.7 545.2,470.3 547.7,473.0 550.2,475.7 552.7,478.4 555.2,481.2 557.7,484.0 560.2,486.8 562.7,489.6 565.2,492.5 567.7,495.4 570.2,498.3 572.7,501.2 575.2,504.1 577.7,507.1 580.2,510.0 582.7,513.0 585.2,516.0 587.7,519.0 590.2,522.1 592.7,525.1 595.2,528.1 597.7,531.2 600.2,534.3 602.7,537.3 605.2,540.4 607.7,543.5 610.2,546.6 612.7,549.6 615.2,552.7 617.7,555.8 620.2,558.9 622.7,562.0 625.2,565.1 627.7,568.2 630.2,571.3 632.7,574.4 635.2,577.5 637.7,580.6 640.2,583.7 642.7,586.8 645.2,589.9 647.7,593.0 650.2,596.1 652.7,599.2 655.2,602.3 657.7,605.3 660.2,608.4 662.7,611.5 665.2,614.5 667.7,617.5 670.2,620.6 672.7,623.6 675.2,626.6 677.7,629.6 680.2,632.6 682.7,635.6 685.2,638.6 687.7,641.5 690.2,644.5 692.7,647.4 695.2,650.3 697.7,653.2 700.2,656.1 702.7,659.0 705.2,661.8 707.7,664.7 710.2,667.5 712.7,670.3 715.2,673.1 717.7,675.9 720.2,678.6 722.7,681.3 725.2,684.0 727.7,686.7 730.2,689.4 732.7,692.0 735.2,694.7 737.7,697.3 740.2,699.8 742.7,702.4 745.2,704.9 747.7,707.4 750.2,709.9 752.7,712.3 755.2,714.8 757.7,717.2 760.2,719.6 762.7,721.9 765.2,724.3 767.7,726.6 770.2,728.9 772.7,731.2 775.2,733.4 777.7,735.7 780.2,737.9 782.7,740.1 785.2,742.2 787.7,744.4 790.2,746.5 792.7,748.6 795.2,750.7 797.7,752.8 800.2,754.8 802.7,756.8 805.2,758.8 807.7,760.8 810.2,762.8 812.7,764.7 815.2,766.7 817.7,768.6 820.2,770.5 822.7,772.3 825.2,774.2 827.7,776.0 830.2,777.8 832.7,779.6 835.2,781.4 837.7,783.1 840.2,784.9 842.7,786.6 845.2,788.3 847.7,790.0 850.2,791.6 852.7,793.3 855.2,794.9 857.7,796.5 860.2,798.1 862.7,799.7 865.2,801.2 867.7,802.8 870.2,804.3 872.7,805.8 875.2,807.3 877.7,808.8 880.2,810.3 882.7,811.7 885.2,813.1 887.7,814.5 890.2,815.9 892.7,817.3 895.2,818.7 897.7,820.0 900.2,821.4 902.7,822.7 905.2,824.0 907.7,825.3 910.2,826.6 912.7,827.8 915.2,829.1 917.7,830.3 920.2,831.6 922.7,832.8 925.2,834.0 927.7,835.1 930.2,836.3 932.7,837.5 935.2,838.6 937.7,839.7 940.2,840.8 942.7,841.9 945.2,843.0 947.7,844.1 950.2,845.2 952.7,846.2 955.2,847.3 957.7,848.3 960.2,849.3 962.7,850.3 965.2,851.3 967.7,852.3 970.2,853.2 972.7,854.2 975.2,855.1 977.7,856.1 980.2,857.0 982.7,857.9 985.2,858.8 987.7,859.7 990.2,860.6 992.7,861.4 995.2,862.3 997.7,863.1 1000.2,864.0 1002.7,864.8 1005.2,865.6 1007.7,866.4 1010.2,867.2 1012.7,868.0 1015.2,868.8 1017.7,869.5 1020.2,870.3 1022.7,871.1 1025.2,871.8 1027.7,872.5 1030.2,873.3 1032.7,874.0 1035.2,874.7 1037.7,875.4 1040.2,876.1 1042.7,876.8 1045.2,877.4 1047.7,878.1 1050.2,878.8 1052.7,879.4 1055.2,880.1 1057.7,880.7 1060.2,881.3 1062.7,882.0 1065.2,882.6 1067.7,883.2 1070.2,883.8 1072.7,884.4 1075.2,885.0 1077.7,885.6 1080.2,886.1 1082.7,886.7 1085.2,887.3 1087.7,887.8 1090.2,888.4 1092.7,889.0 1095.2,889.5 1097.7,890.0 1100.2,890.6 1102.7,891.1 1105.2,891.6 1107.7,892.1 1110.2,892.7 1112.7,893.2 1115.2,893.7 1117.7,894.2 1120.2,894.7 1122.7,895.2 1125.2,895.6 1127.7,896.1 1130.2,896.6 1132.7,897.0 1135.2,897.5 1137.7,898.0 1140.2,898.4 1142.7,898.9 1145.2,899.3 1147.7,899.7 1150.2,900.1 1152.7,900.6 1155.2,901.0 1157.7,901.4 1160.2,901.8 1162.7,902.2 1165.2,902.5 1167.7,902.9 1170.2,903.3 1172.7,903.6 1175.2,904.0 1177.7,904.3 1180.2,904.5 1182.7,904.8 1185.2,905.0 1187.7,905.2 1190.2,905.4 1192.7,905.6 1195.2,905.8 1197.7,905.9 1200.2,906.1 1202.7,906.2 1205.2,906.3 1207.7,906.4 1210.2,906.5 1212.7,906.6 1215.2,906.7 1217.7,906.8 1220.2,906.8 1222.7,906.9 1225.2,907.0 1227.7,907.1 1230.2,907.1 1232.7,907.2 1235.2,907.3 1237.7,907.4 1240.2,907.5 1242.7,907.6 1245.2,907.6 1247.7,907.7 1250.2,907.8 1252.7,907.9 1255.2,908.1 1257.7,908.2 1260.2,908.3 1262.7,908.4 1265.2,908.5 1267.7,908.6 1270.2,908.3 1272.7,907.5 1275.2,906.2 1277.7,904.4" stroke="#F14040" stroke-width="5.7"/>
<path d="M182.7,857.8 185.2,857.6 187.7,857.3 190.2,857.0 192.7,856.7 195.2,856.2 197.7,855.7 200.2,855.0 202.7,854.1 205.2,853.1 207.7,851.8 210.2,850.3 212.7,848.6 215.2,846.5 217.7,844.2 220.2,841.5 222.7,838.5 225.2,835.0 227.7,831.2 230.2,826.9 232.7,822.1 235.2,816.9 237.7,811.1 240.2,804.8 242.7,797.9 245.2,790.5 247.7,782.4 250.2,773.9 252.7,764.9 255.2,755.5 257.7,745.7 260.2,735.7 262.7,725.4 265.2,715.0 267.7,704.5 270.2,693.9 272.7,683.4 275.2,673.0 277.7,662.8 280.2,652.9 282.7,643.2 285.2,633.9 287.7,624.8 290.2,616.0 292.7,607.5 295.2,599.3 297.7,591.3 300.2,583.5 302.7,575.9 305.2,568.4 307.7,561.1 310.2,553.8 312.7,546.7 315.2,539.7 317.7,532.9 320.2,526.2 322.7,519.6 325.2,513.2 327.7,506.9 330.2,500.9 332.7,495.0 335.2,489.3 337.7,483.9 340.2,478.7 342.7,473.8 345.2,469.2 347.7,464.8 350.2,460.6 352.7,456.5 355.2,452.6 357.7,448.9 360.2,445.3 362.7,441.8 365.2,438.5 367.7,435.3 370.2,432.3 372.7,429.4 375.2,426.6 377.7,424.0 380.2,421.5 382.7,419.1 385.2,416.9 387.7,414.8 390.2,412.8 392.7,410.9 395.2,409.2 397.7,407.5 400.2,406.0 402.7,404.6 405.2,403.3 407.7,402.1 410.2,401.0 412.7,400.0 415.2,399.1 417.7,398.4 420.2,397.7 422.7,397.1 425.2,396.6 427.7,396.2 430.2,395.9 432.7,395.7 435.2,395.6 437.7,395.5 440.2,395.6 442.7,395.7 445.2,395.9 447.7,396.2 450.2,396.6 452.7,397.0 455.2,397.6 457.7,398.2 460.2,399.0 462.7,399.8 465.2,400.6 467.7,401.6 470.2,402.6 472.7,403.8 475.2,405.0 477.7,406.2 480.2,407.6 482.7,409.0 485.2,410.4 487.7,412.0 490.2,413.6 492.7,415.3 495.2,417.0 497.7,418.8 500.2,420.6 502.7,422.5 505.2,424.5 507.7,426.5 510.2,428.6 512.7,430.7 515.2,432.9 517.7,435.1 520.2,437.4 522.7,439.7 525.2,442.1 527.7,444.5 530.2,447.0 532.7,449.4 535.2,452.0 537.7,454.6 540.2,457.2 542.7,459.8 545.2,462.5 547.7,465.2 550.2,468.0 552.7,470.8 555.2,473.6 557.7,476.4 560.2,479.3 562.7,482.2 565.2,485.1 567.7,488.0 570.2,491.0 572.7,494.0 575.2,497.0 577.7,500.0 580.2,503.1 582.7,506.1 585.2,509.2 587.7,512.3 590.2,515.4 592.7,518.5 595.2,521.6 597.7,524.8 600.2,527.9 602.7,531.1 605.2,534.2 607.7,537.4 610.2,540.6 612.7,543.8 615.2,546.9 617.7,550.1 620.2,553.3 622.7,556.5 625.2,559.7 627.7,562.9 630.2,566.1 632.7,569.3 635.2,572.5 637.7,575.7 640.2,578.9 642.7,582.1 645.2,585.2 647.7,588.4 650.2,591.6 652.7,594.8 655.2,597.9 657.7,601.1 660.2,604.2 662.7,607.4 665.2,610.5 667.7,613.6 670.2,616.7 672.7,619.8 675.2,622.9 677.7,626.0 680.2,629.1 682.7,632.1 685.2,635.2 687.7,638.2 690.2,641.2 692.7,644.2 695.2,647.2 697.7,650.2 700.2,653.1 702.7,656.0 705.2,659.0 707.7,661.8 710.2,664.7 712.7,667.6 715.2,670.4 717.7,673.2 720.2,676.0 722.7,678.8 725.2,681.6 727.7,684.3 730.2,687.0 732.7,689.7 735.2,692.3 737.7,695.0 740.2,697.6 742.7,700.2 745.2,702.7 747.7,705.3 750.2,707.8 752.7,710.3 755.2,712.7 757.7,715.2 760.2,717.6 762.7,720.0 765.2,722.3 767.7,724.7 770.2,727.0 772.7,729.3 775.2,731.6 777.7,733.8 780.2,736.1 782.7,738.3 785.2,740.5 787.7,742.6 790.2,744.8 792.7,746.9 795.2,749.0 797.7,751.1 800.2,753.2 802.7,755.2 805.2,757.2 807.7,759.2 810.2,761.2 812.7,763.2 815.2,765.1 817.7,767.1 820.2,769.0 822.7,770.8 825.2,772.7 827.7,774.6 830.2,776.4 832.7,778.2 835.2,780.0 837.7,781.8 840.2,783.5 842.7,785.2 845.2,787.0 847.7,788.7 850.2,790.3 852.7,792.0 855.2,793.6 857.7,795.3 860.2,796.9 862.7,798.5 865.2,800.0 867.7,801.6 870.2,803.1 872.7,804.7 875.2,806.2 877.7,807.7 880.2,809.1 882.7,810.6 885.2,812.0 887.7,813.4 890.2,814.9 892.7,816.3 895.2,817.6 897.7,819.0 900.2,820.3 902.7,821.7 905.2,823.0 907.7,824.3 910.2,825.6 912.7,826.9 915.2,828.1 917.7,829.4 920.2,830.6 922.7,831.8 925.2,833.0 927.7,834.2 930.2,835.4 932.7,836.5 935.2,837.7 937.7,838.8 940.2,839.9 942.7,841.0 945.2,842.1 947.7,843.2 950.2,844.3 952.7,845.3 955.2,846.4 957.7,847.4 960.2,848.4 962.7,849.4 965.2,850.4 967.7,851.4 970.2,852.4 972.7,853.3 975.2,854.3 977.7,855.2 980.2,856.2 982.7,857.1 985.2,858.0 987.7,858.9 990.2,859.8 992.7,860.6 995.2,861.5 997.7,862.4 1000.2,863.2 1002.7,864.0 1005.2,864.8 1007.7,865.7 1010.2,866.5 1012.7,867.3 1015.2,868.0 1017.7,868.8 1020.2,869.6 1022.7,870.4 1025.2,871.1 1027.7,871.8 1030.2,872.6 1032.7,873.3 1035.2,874.0 1037.7,874.7 1040.2,875.4 1042.7,876.1 1045.2,876.8 1047.7,877.5 1050.2,878.2 1052.7,878.8 1055.2,879.5 1057.7,880.1 1060.2,880.8 1062.7,881.4 1065.2,882.0 1067.7,882.7 1070.2,883.3 1072.7,883.9 1075.2,884.5 1077.7,885.1 1080.2,885.7 1082.7,886.2 1085.2,886.8 1087.7,887.4 1090.2,888.0 1092.7,888.5 1095.2,889.1 1097.7,889.6 1100.2,890.2 1102.7,890.7 1105.2,891.2 1107.7,891.8 1110.2,892.3 1112.7,892.8 1115.2,893.3 1117.7,893.8 1120.2,894.3 1122.7,894.8 1125.2,895.3 1127.7,895.8 1130.2,896.3 1132.7,896.8 1135.2,897.2 1137.7,897.7 1140.2,898.2 1142.7,898.6 1145.2,899.1 1147.7,899.5 1150.2,899.9 1152.7,900.4 1155.2,900.8 1157.7,901.2 1160.2,901.6 1162.7,902.0 1165.2,902.4 1167.7,902.8 1170.2,903.1 1172.7,903.5 1175.2,903.8 1177.7,904.1 1180.2,904.4 1182.7,904.6 1185.2,904.9 1187.7,905.1 1190.2,905.3 1192.7,905.5 1195.2,905.7 1197.7,905.8 1200.2,905.9 1202.7,906.1 1205.2,906.2 1207.7,906.3 1210.2,906.4 1212.7,906.5 1215.2,906.6 1217.7,906.7 1220.2,906.8 1222.7,906.9 1225.2,907.0 1227.7,907.0 1230.2,907.1 1232.7,907.2 1235.2,907.3 1237.7,907.4 1240.2,907.4 1242.7,907.5 1245.2,907.6 1247.7,907.7 1250.2,907.8 1252.7,907.9 1255.2,908.1 1257.7,908.2 1260.2,908.3 1262.7,908.4 1265.2,908.5 1267.7,908.6 1270.2,908.3 1272.7,907.5 1275.2,906.2 1277.7,904.4" stroke="#1A6FDF" stroke-width="5.7"/>
<path d="M182.7,851.3 185.2,851.3 187.7,851.1 190.2,850.8 192.7,850.4 195.2,849.8 197.7,849.0 200.2,848.1 202.7,846.9 205.2,845.4 207.7,843.7 210.2,841.7 212.7,839.4 215.2,836.8 217.7,833.8 220.2,830.4 222.7,826.7 225.2,822.5 227.7,818.0 230.2,813.0 232.7,807.5 235.2,801.6 237.7,795.2 240.2,788.3 242.7,780.8 245.2,772.7 247.7,764.2 250.2,755.2 252.7,745.8 255.2,736.1 257.7,726.1 260.2,715.9 262.7,705.6 265.2,695.1 267.7,684.7 270.2,674.3 272.7,664.0 275.2,653.8 277.7,643.8 280.2,634.1 282.7,624.6 285.2,615.4 287.7,606.4 290.2,597.6 292.7,589.1 295.2,580.8 297.7,572.7 300.2,564.9 302.7,557.2 305.2,549.7 307.7,542.3 310.2,535.1 312.7,528.1 315.2,521.2 317.7,514.4 320.2,507.9 322.7,501.4 325.2,495.2 327.7,489.1 330.2,483.1 332.7,477.3 335.2,471.7 337.7,466.3 340.2,461.1 342.7,456.0 345.2,451.2 347.7,446.5 350.2,442.0 352.7,437.7 355.2,433.4 357.7,429.4 360.2,425.4 362.7,421.7 365.2,418.0 367.7,414.5 370.2,411.2 372.7,407.9 375.2,404.8 377.7,401.9 380.2,399.0 382.7,396.3 385.2,393.7 387.7,391.3 390.2,389.0 392.7,386.8 395.2,384.7 397.7,382.7 400.2,380.9 402.7,379.1 405.2,377.5 407.7,376.0 410.2,374.6 412.7,373.3 415.2,372.2 417.7,371.1 420.2,370.1 422.7,369.3 425.2,368.5 427.7,367.8 430.2,367.3 432.7,366.8 435.2,366.4 437.7,366.2 440.2,366.0 442.7,365.9 445.2,365.9 447.7,366.0 450.2,366.1 452.7,366.4 455.2,366.8 457.7,367.2 460.2,367.8 462.7,368.4 465.2,369.1 467.7,369.9 470.2,370.8 472.7,371.8 475.2,372.9 477.7,374.0 480.2,375.3 482.7,376.6 485.2,378.0 487.7,379.4 490.2,381.0 492.7,382.6 495.2,384.3 497.7,386.1 500.2,387.9 502.7,389.8 505.2,391.8 507.7,393.9 510.2,396.0 512.7,398.2 515.2,400.4 517.7,402.8 520.2,405.1 522.7,407.6 525.2,410.1 527.7,412.7 530.2,415.3 532.7,418.0 535.2,420.8 537.7,423.6 540.2,426.5 542.7,429.4 545.2,432.4 547.7,435.4 550.2,438.5 552.7,441.6 555.2,444.7 557.7,447.9 560.2,451.1 562.7,454.3 565.2,457.6 567.7,460.9 570.2,464.2 572.7,467.5 575.2,470.8 577.7,474.2 580.2,477.5 582.7,480.9 585.2,484.3 587.7,487.6 590.2,491.0 592.7,494.4 595.2,497.8 597.7,501.2 600.2,504.7 602.7,508.1 605.2,511.5 607.7,514.9 610.2,518.4 612.7,521.8 615.2,525.3 617.7,528.7 620.2,532.2 622.7,535.6 625.2,539.1 627.7,542.6 630.2,546.0 632.7,549.5 635.2,552.9 637.7,556.4 640.2,559.8 642.7,563.3 645.2,566.7 647.7,570.2 650.2,573.6 652.7,577.0 655.2,580.4 657.7,583.8 660.2,587.2 662.7,590.6 665.2,594.0 667.7,597.3 670.2,600.7 672.7,604.0 675.2,607.3 677.7,610.6 680.2,613.9 682.7,617.1 685.2,620.4 687.7,623.6 690.2,626.8 692.7,630.0 695.2,633.2 697.7,636.3 700.2,639.4 702.7,642.5 705.2,645.6 707.7,648.6 710.2,651.7 712.7,654.7 715.2,657.7 717.7,660.6 720.2,663.5 722.7,666.4 725.2,669.3 727.7,672.2 730.2,675.0 732.7,677.8 735.2,680.6 737.7,683.3 740.2,686.0 742.7,688.7 745.2,691.3 747.7,693.9 750.2,696.5 752.7,699.1 755.2,701.6 757.7,704.1 760.2,706.6 762.7,709.0 765.2,711.5 767.7,713.9 770.2,716.2 772.7,718.6 775.2,720.9 777.7,723.2 780.2,725.5 782.7,727.8 785.2,730.0 787.7,732.3 790.2,734.5 792.7,736.7 795.2,738.8 797.7,741.0 800.2,743.1 802.7,745.2 805.2,747.3 807.7,749.3 810.2,751.4 812.7,753.4 815.2,755.4 817.7,757.4 820.2,759.4 822.7,761.3 825.2,763.2 827.7,765.1 830.2,767.0 832.7,768.9 835.2,770.7 837.7,772.6 840.2,774.4 842.7,776.2 845.2,777.9 847.7,779.7 850.2,781.4 852.7,783.2 855.2,784.9 857.7,786.6 860.2,788.2 862.7,789.9 865.2,791.5 867.7,793.1 870.2,794.7 872.7,796.3 875.2,797.9 877.7,799.4 880.2,801.0 882.7,802.5 885.2,804.0 887.7,805.5 890.2,807.0 892.7,808.4 895.2,809.9 897.7,811.3 900.2,812.7 902.7,814.1 905.2,815.5 907.7,816.8 910.2,818.2 912.7,819.5 915.2,820.8 917.7,822.1 920.2,823.4 922.7,824.7 925.2,826.0 927.7,827.2 930.2,828.5 932.7,829.7 935.2,830.9 937.7,832.1 940.2,833.3 942.7,834.4 945.2,835.6 947.7,836.7 950.2,837.8 952.7,839.0 955.2,840.1 957.7,841.2 960.2,842.2 962.7,843.3 965.2,844.3 967.7,845.4 970.2,846.4 972.7,847.4 975.2,848.4 977.7,849.4 980.2,850.4 982.7,851.4 985.2,852.3 987.7,853.3 990.2,854.2 992.7,855.1 995.2,856.0 997.7,856.9 1000.2,857.8 1002.7,858.7 1005.2,859.6 1007.7,860.5 1010.2,861.3 1012.7,862.2 1015.2,863.0 1017.7,863.8 1020.2,864.6 1022.7,865.4 1025.2,866.3 1027.7,867.0 1030.2,867.8 1032.7,868.6 1035.2,869.4 1037.7,870.1 1040.2,870.9 1042.7,871.6 1045.2,872.4 1047.7,873.1 1050.2,873.8 1052.7,874.6 1055.2,875.3 1057.7,876.0 1060.2,876.7 1062.7,877.4 1065.2,878.0 1067.7,878.7 1070.2,879.4 1072.7,880.0 1075.2,880.7 1077.7,881.3 1080.2,882.0 1082.7,882.6 1085.2,883.3 1087.7,883.9 1090.2,884.5 1092.7,885.1 1095.2,885.7 1097.7,886.3 1100.2,886.9 1102.7,887.5 1105.2,888.1 1107.7,888.7 1110.2,889.3 1112.7,889.9 1115.2,890.5 1117.7,891.1 1120.2,891.7 1122.7,892.3 1125.2,892.9 1127.7,893.5 1130.2,894.1 1132.7,894.7 1135.2,895.2 1137.7,895.8 1140.2,896.3 1142.7,896.9 1145.2,897.4 1147.7,897.9 1150.2,898.4 1152.7,898.9 1155.2,899.4 1157.7,899.8 1160.2,900.3 1162.7,900.7 1165.2,901.1 1167.7,901.5 1170.2,901.9 1172.7,902.3 1175.2,902.7 1177.7,903.0 1180.2,903.4 1182.7,903.7 1185.2,904.1 1187.7,904.4 1190.2,904.7 1192.7,905.1 1195.2,905.4 1197.7,905.7 1200.2,906.0 1202.7,906.3 1205.2,906.5 1207.7,906.8 1210.2,907.1 1212.7,907.3 1215.2,907.6 1217.7,907.8 1220.2,908.1 1222.7,908.3 1225.2,908.5 1227.7,908.7 1230.2,908.9 1232.7,909.1 1235.2,909.3 1237.7,909.5 1240.2,909.6 1242.7,909.8 1245.2,910.0 1247.7,910.1 1250.2,910.2 1252.7,910.4 1255.2,910.5 1257.7,910.6 1260.2,910.7 1262.7,910.8 1265.2,910.9 1267.7,910.9 1270.2,910.6 1272.7,909.8 1275.2,908.4 1277.7,906.6" stroke="#37AD6B" stroke-width="5.7"/>
<path d="M182.7,855.8 185.2,855.6 187.7,855.4 190.2,855.1 192.7,854.7 195.2,854.2 197.7,853.5 200.2,852.7 202.7,851.8 205.2,850.6 207.7,849.2 210.2,847.5 212.7,845.6 215.2,843.3 217.7,840.7 220.2,837.8 222.7,834.5 225.2,830.8 227.7,826.7 230.2,822.2 232.7,817.2 235.2,811.7 237.7,805.6 240.2,799.1 242.7,791.9 245.2,784.2 247.7,776.0 250.2,767.2 252.7,758.0 255.2,748.4 257.7,738.5 260.2,728.4 262.7,718.0 265.2,707.6 267.7,697.0 270.2,686.4 272.7,675.9 275.2,665.5 277.7,655.3 280.2,645.4 282.7,635.7 285.2,626.3 287.7,617.2 290.2,608.3 292.7,599.7 295.2,591.3 297.7,583.2 300.2,575.3 302.7,567.5 305.2,559.9 307.7,552.4 310.2,545.1 312.7,537.9 315.2,530.9 317.7,523.9 320.2,517.2 322.7,510.6 325.2,504.1 327.7,497.9 330.2,491.8 332.7,485.9 335.2,480.2 337.7,474.7 340.2,469.5 342.7,464.5 345.2,459.8 347.7,455.4 350.2,451.1 352.7,447.0 355.2,443.0 357.7,439.3 360.2,435.7 362.7,432.3 365.2,429.0 367.7,425.9 370.2,422.9 372.7,420.1 375.2,417.5 377.7,415.0 380.2,412.6 382.7,410.4 385.2,408.3 387.7,406.4 390.2,404.5 392.7,402.8 395.2,401.3 397.7,399.8 400.2,398.4 402.7,397.2 405.2,396.1 407.7,395.1 410.2,394.1 412.7,393.3 415.2,392.6 417.7,392.0 420.2,391.4 422.7,391.0 425.2,390.6 427.7,390.3 430.2,390.1 432.7,390.0 435.2,389.9 437.7,389.9 440.2,390.0 442.7,390.1 445.2,390.3 447.7,390.6 450.2,390.9 452.7,391.4 455.2,391.9 457.7,392.4 460.2,393.1 462.7,393.8 465.2,394.6 467.7,395.5 470.2,396.5 472.7,397.5 475.2,398.7 477.7,399.8 480.2,401.1 482.7,402.4 485.2,403.8 487.7,405.3 490.2,406.8 492.7,408.4 495.2,410.0 497.7,411.8 500.2,413.5 502.7,415.4 505.2,417.3 507.7,419.3 510.2,421.3 512.7,423.4 515.2,425.5 517.7,427.7 520.2,429.9 522.7,432.3 525.2,434.6 527.7,437.0 530.2,439.5 532.7,442.0 535.2,444.5 537.7,447.1 540.2,449.7 542.7,452.4 545.2,455.1 547.7,457.8 550.2,460.6 552.7,463.4 555.2,466.2 557.7,469.0 560.2,471.9 562.7,474.8 565.2,477.8 567.7,480.7 570.2,483.7 572.7,486.7 575.2,489.8 577.7,492.8 580.2,495.9 582.7,498.9 585.2,502.0 587.7,505.1 590.2,508.3 592.7,511.4 595.2,514.5 597.7,517.7 600.2,520.9 602.7,524.0 605.2,527.2 607.7,530.4 610.2,533.6 612.7,536.8 615.2,540.0 617.7,543.2 620.2,546.4 622.7,549.6 625.2,552.8 627.7,556.1 630.2,559.3 632.7,562.5 635.2,565.7 637.7,568.9 640.2,572.1 642.7,575.3 645.2,578.5 647.7,581.7 650.2,584.9 652.7,588.1 655.2,591.3 657.7,594.5 660.2,597.6 662.7,600.8 665.2,603.9 667.7,607.1 670.2,610.2 672.7,613.3 675.2,616.4 677.7,619.5 680.2,622.6 682.7,625.7 685.2,628.8 687.7,631.8 690.2,634.8 692.7,637.8 695.2,640.8 697.7,643.8 700.2,646.8 702.7,649.7 705.2,652.7 707.7,655.6 710.2,658.5 712.7,661.3 715.2,664.2 717.7,667.0 720.2,669.8 722.7,672.6 725.2,675.4 727.7,678.1 730.2,680.8 732.7,683.5 735.2,686.2 737.7,688.8 740.2,691.5 742.7,694.1 745.2,696.6 747.7,699.2 750.2,701.7 752.7,704.2 755.2,706.7 757.7,709.2 760.2,711.6 762.7,714.0 765.2,716.4 767.7,718.7 770.2,721.0 772.7,723.3 775.2,725.6 777.7,727.8 780.2,730.0 782.7,732.2 785.2,734.4 787.7,736.5 790.2,738.6 792.7,740.7 795.2,742.8 797.7,744.8 800.2,746.9 802.7,748.9 805.2,750.8 807.7,752.8 810.2,754.7 812.7,756.6 815.2,758.5 817.7,760.4 820.2,762.3 822.7,764.1 825.2,765.9 827.7,767.7 830.2,769.5 832.7,771.2 835.2,773.0 837.7,774.7 840.2,776.4 842.7,778.1 845.2,779.8 847.7,781.4 850.2,783.1 852.7,784.7 855.2,786.3 857.7,787.9 860.2,789.5 862.7,791.0 865.2,792.6 867.7,794.1 870.2,795.6 872.7,797.1 875.2,798.6 877.7,800.1 880.2,801.6 882.7,803.0 885.2,804.5 887.7,805.9 890.2,807.3 892.7,808.7 895.2,810.1 897.7,811.5 900.2,812.9 902.7,814.2 905.2,815.6 907.7,816.9 910.2,818.2 912.7,819.6 915.2,820.9 917.7,822.2 920.2,823.4 922.7,824.7 925.2,826.0 927.7,827.2 930.2,828.4 932.7,829.7 935.2,830.9 937.7,832.1 940.2,833.3 942.7,834.4 945.2,835.6 947.7,836.7 950.2,837.9 952.7,839.0 955.2,840.1 957.7,841.2 960.2,842.3 962.7,843.4 965.2,844.4 967.7,845.5 970.2,846.5 972.7,847.5 975.2,848.6 977.7,849.6 980.2,850.6 982.7,851.5 985.2,852.5 987.7,853.5 990.2,854.4 992.7,855.3 995.2,856.3 997.7,857.2 1000.2,858.1 1002.7,859.0 1005.2,859.9 1007.7,860.7 1010.2,861.6 1012.7,862.5 1015.2,863.3 1017.7,864.2 1020.2,865.0 1022.7,865.9 1025.2,866.7 1027.7,867.5 1030.2,868.3 1032.7,869.2 1035.2,870.0 1037.7,870.7 1040.2,871.5 1042.7,872.3 1045.2,873.1 1047.7,873.8 1050.2,874.6 1052.7,875.3 1055.2,876.1 1057.7,876.8 1060.2,877.5 1062.7,878.2 1065.2,878.9 1067.7,879.6 1070.2,880.3 1072.7,881.0 1075.2,881.7 1077.7,882.3 1080.2,883.0 1082.7,883.6 1085.2,884.3 1087.7,884.9 1090.2,885.5 1092.7,886.1 1095.2,886.8 1097.7,887.4 1100.2,887.9 1102.7,888.5 1105.2,889.1 1107.7,889.7 1110.2,890.3 1112.7,890.8 1115.2,891.4 1117.7,892.0 1120.2,892.5 1122.7,893.1 1125.2,893.6 1127.7,894.1 1130.2,894.7 1132.7,895.2 1135.2,895.7 1137.7,896.2 1140.2,896.7 1142.7,897.2 1145.2,897.7 1147.7,898.1 1150.2,898.6 1152.7,899.0 1155.2,899.5 1157.7,899.9 1160.2,900.3 1162.7,900.8 1165.2,901.2 1167.7,901.5 1170.2,901.9 1172.7,902.3 1175.2,902.6 1177.7,903.0 1180.2,903.3 1182.7,903.6 1185.2,903.8 1187.7,904.1 1190.2,904.3 1192.7,904.5 1195.2,904.8 1197.7,905.0 1200.2,905.2 1202.7,905.3 1205.2,905.5 1207.7,905.7 1210.2,905.8 1212.7,906.0 1215.2,906.1 1217.7,906.2 1220.2,906.4 1222.7,906.5 1225.2,906.6 1227.7,906.7 1230.2,906.9 1232.7,907.0 1235.2,907.1 1237.7,907.2 1240.2,907.3 1242.7,907.5 1245.2,907.6 1247.7,907.7 1250.2,907.8 1252.7,907.9 1255.2,908.1 1257.7,908.2 1260.2,908.3 1262.7,908.4 1265.2,908.5 1267.7,908.6 1270.2,908.3 1272.7,907.5 1275.2,906.2 1277.7,904.4" stroke="#B177DE" stroke-width="5.7"/>
<path d="M182.7,847.3 185.2,847.4 187.7,847.3 190.2,847.1 192.7,846.7 195.2,846.1 197.7,845.2 200.2,844.2 202.7,842.8 205.2,841.2 207.7,839.2 210.2,837.0 212.7,834.4 215.2,831.4 217.7,828.1 220.2,824.4 222.7,820.2 225.2,815.7 227.7,810.6 230.2,805.2 232.7,799.2 235.2,792.8 237.7,785.8 240.2,778.3 242.7,770.3 245.2,761.7 247.7,752.6 250.2,743.1 252.7,733.2 255.2,723.0 257.7,712.6 260.2,702.0 262.7,691.4 265.2,680.7 267.7,670.0 270.2,659.5 272.7,649.1 275.2,638.8 277.7,628.8 280.2,619.0 282.7,609.4 285.2,600.1 287.7,590.9 290.2,582.0 292.7,573.3 295.2,564.8 297.7,556.5 300.2,548.4 302.7,540.5 305.2,532.8 307.7,525.4 310.2,518.1 312.7,511.0 315.2,504.1 317.7,497.4 320.2,490.9 322.7,484.6 325.2,478.4 327.7,472.4 330.2,466.6 332.7,461.0 335.2,455.5 337.7,450.2 340.2,445.1 342.7,440.2 345.2,435.4 347.7,430.7 350.2,426.3 352.7,422.0 355.2,417.9 357.7,413.9 360.2,410.1 362.7,406.5 365.2,403.0 367.7,399.7 370.2,396.6 372.7,393.5 375.2,390.7 377.7,387.9 380.2,385.4 382.7,382.9 385.2,380.6 387.7,378.4 390.2,376.3 392.7,374.4 395.2,372.6 397.7,370.9 400.2,369.3 402.7,367.8 405.2,366.4 407.7,365.2 410.2,364.0 412.7,363.0 415.2,362.0 417.7,361.1 420.2,360.4 422.7,359.7 425.2,359.1 427.7,358.6 430.2,358.2 432.7,357.8 435.2,357.6 437.7,357.4 440.2,357.2 442.7,357.2 445.2,357.2 447.7,357.3 450.2,357.4 452.7,357.7 455.2,358.0 457.7,358.4 460.2,358.8 462.7,359.4 465.2,360.0 467.7,360.7 470.2,361.5 472.7,362.3 475.2,363.2 477.7,364.2 480.2,365.3 482.7,366.5 485.2,367.7 487.7,369.0 490.2,370.4 492.7,371.8 495.2,373.4 497.7,375.0 500.2,376.6 502.7,378.4 505.2,380.2 507.7,382.1 510.2,384.1 512.7,386.1 515.2,388.3 517.7,390.4 520.2,392.7 522.7,395.0 525.2,397.4 527.7,399.9 530.2,402.5 532.7,405.1 535.2,407.8 537.7,410.5 540.2,413.3 542.7,416.2 545.2,419.1 547.7,422.0 550.2,425.0 552.7,428.1 555.2,431.2 557.7,434.3 560.2,437.4 562.7,440.6 565.2,443.8 567.7,447.1 570.2,450.3 572.7,453.6 575.2,456.9 577.7,460.2 580.2,463.5 582.7,466.9 585.2,470.2 587.7,473.6 590.2,477.0 592.7,480.4 595.2,483.7 597.7,487.1 600.2,490.5 602.7,494.0 605.2,497.4 607.7,500.8 610.2,504.3 612.7,507.7 615.2,511.2 617.7,514.6 620.2,518.1 622.7,521.6 625.2,525.0 627.7,528.5 630.2,532.0 632.7,535.5 635.2,539.0 637.7,542.4 640.2,545.9 642.7,549.4 645.2,552.9 647.7,556.3 650.2,559.8 652.7,563.2 655.2,566.7 657.7,570.1 660.2,573.5 662.7,576.9 665.2,580.3 667.7,583.7 670.2,587.1 672.7,590.5 675.2,593.8 677.7,597.2 680.2,600.5 682.7,603.8 685.2,607.1 687.7,610.3 690.2,613.6 692.7,616.8 695.2,620.0 697.7,623.2 700.2,626.3 702.7,629.5 705.2,632.6 707.7,635.7 710.2,638.8 712.7,641.8 715.2,644.8 717.7,647.8 720.2,650.8 722.7,653.7 725.2,656.6 727.7,659.5 730.2,662.4 732.7,665.2 735.2,668.0 737.7,670.8 740.2,673.6 742.7,676.3 745.2,679.0 747.7,681.7 750.2,684.3 752.7,686.9 755.2,689.5 757.7,692.1 760.2,694.6 762.7,697.1 765.2,699.6 767.7,702.0 770.2,704.5 772.7,706.9 775.2,709.3 777.7,711.7 780.2,714.0 782.7,716.4 785.2,718.7 787.7,721.0 790.2,723.3 792.7,725.5 795.2,727.8 797.7,730.0 800.2,732.2 802.7,734.3 805.2,736.5 807.7,738.6 810.2,740.7 812.7,742.8 815.2,744.9 817.7,746.9 820.2,749.0 822.7,751.0 825.2,753.0 827.7,755.0 830.2,756.9 832.7,758.9 835.2,760.8 837.7,762.7 840.2,764.6 842.7,766.4 845.2,768.3 847.7,770.1 850.2,771.9 852.7,773.7 855.2,775.5 857.7,777.2 860.2,779.0 862.7,780.7 865.2,782.4 867.7,784.1 870.2,785.7 872.7,787.4 875.2,789.0 877.7,790.6 880.2,792.2 882.7,793.8 885.2,795.4 887.7,796.9 890.2,798.5 892.7,800.0 895.2,801.5 897.7,803.0 900.2,804.4 902.7,805.9 905.2,807.3 907.7,808.8 910.2,810.2 912.7,811.6 915.2,812.9 917.7,814.3 920.2,815.6 922.7,817.0 925.2,818.3 927.7,819.6 930.2,820.9 932.7,822.1 935.2,823.4 937.7,824.6 940.2,825.8 942.7,827.0 945.2,828.2 947.7,829.4 950.2,830.6 952.7,831.7 955.2,832.9 957.7,834.0 960.2,835.1 962.7,836.2 965.2,837.3 967.7,838.3 970.2,839.4 972.7,840.4 975.2,841.5 977.7,842.5 980.2,843.5 982.7,844.5 985.2,845.5 987.7,846.5 990.2,847.4 992.7,848.4 995.2,849.3 997.7,850.3 1000.2,851.2 1002.7,852.1 1005.2,853.0 1007.7,853.9 1010.2,854.8 1012.7,855.7 1015.2,856.6 1017.7,857.4 1020.2,858.3 1022.7,859.1 1025.2,860.0 1027.7,860.8 1030.2,861.6 1032.7,862.4 1035.2,863.2 1037.7,864.0 1040.2,864.8 1042.7,865.6 1045.2,866.4 1047.7,867.2 1050.2,867.9 1052.7,868.7 1055.2,869.4 1057.7,870.2 1060.2,870.9 1062.7,871.6 1065.2,872.4 1067.7,873.1 1070.2,873.8 1072.7,874.5 1075.2,875.2 1077.7,875.9 1080.2,876.6 1082.7,877.3 1085.2,877.9 1087.7,878.6 1090.2,879.3 1092.7,879.9 1095.2,880.6 1097.7,881.2 1100.2,881.9 1102.7,882.5 1105.2,883.2 1107.7,883.9 1110.2,884.5 1112.7,885.2 1115.2,885.9 1117.7,886.6 1120.2,887.3 1122.7,888.0 1125.2,888.7 1127.7,889.4 1130.2,890.1 1132.7,890.8 1135.2,891.5 1137.7,892.2 1140.2,892.8 1142.7,893.5 1145.2,894.2 1147.7,894.8 1150.2,895.4 1152.7,896.1 1155.2,896.7 1157.7,897.2 1160.2,897.8 1162.7,898.4 1165.2,898.9 1167.7,899.4 1170.2,899.9 1172.7,900.4 1175.2,900.9 1177.7,901.3 1180.2,901.8 1182.7,902.2 1185.2,902.7 1187.7,903.1 1190.2,903.5 1192.7,903.9 1195.2,904.3 1197.7,904.7 1200.2,905.1 1202.7,905.5 1205.2,905.9 1207.7,906.2 1210.2,906.6 1212.7,906.9 1215.2,907.2 1217.7,907.5 1220.2,907.8 1222.7,908.1 1225.2,908.4 1227.7,908.6 1230.2,908.9 1232.7,909.1 1235.2,909.4 1237.7,909.6 1240.2,909.8 1242.7,910.0 1245.2,910.1 1247.7,910.3 1250.2,910.5 1252.7,910.6 1255.2,910.7 1257.7,910.8 1260.2,910.9 1262.7,911.0 1265.2,911.1 1267.7,911.1 1270.2,910.8 1272.7,910.0 1275.2,908.6 1277.7,906.8" stroke="#CC9900" stroke-width="5.7"/>
<path d="M182.7,847.3 185.2,847.4 187.7,847.3 190.2,847.1 192.7,846.7 195.2,846.1 197.7,845.2 200.2,844.2 202.7,842.8 205.2,841.2 207.7,839.2 210.2,837.0 212.7,834.4 215.2,831.4 217.7,828.1 220.2,824.4 222.7,820.2 225.2,815.7 227.7,810.6 230.2,805.2 232.7,799.2 235.2,792.8 237.7,785.8 240.2,778.3 242.7,770.3 245.2,761.7 247.7,752.6 250.2,743.1 252.7,733.2 255.2,723.0 257.7,712.6 260.2,702.0 262.7,691.4 265.2,680.7 267.7,670.0 270.2,659.5 272.7,649.1 275.2,638.8 277.7,628.8 280.2,619.0 282.7,609.4 285.2,600.1 287.7,590.9 290.2,582.0 292.7,573.3 295.2,564.8 297.7,556.5 300.2,548.4 302.7,540.5 305.2,532.8 307.7,525.4 310.2,518.1 312.7,511.0 315.2,504.1 317.7,497.4 320.2,490.9 322.7,484.6 325.2,478.4 327.7,472.4 330.2,466.6 332.7,461.0 335.2,455.5 337.7,450.2 340.2,445.1 342.7,440.2 345.2,435.4 347.7,430.7 350.2,426.3 352.7,422.0 355.2,417.9 357.7,413.9 360.2,410.1 362.7,406.5 365.2,403.0 367.7,399.7 370.2,396.6 372.7,393.5 375.2,390.7 377.7,387.9 380.2,385.4 382.7,382.9 385.2,380.6 387.7,378.4 390.2,376.3 392.7,374.4 395.2,372.6 397.7,370.9 400.2,369.3 402.7,367.8 405.2,366.4 407.7,365.2 410.2,364.0 412.7,363.0 415.2,362.0 417.7,361.1 420.2,360.4 422.7,359.7 425.2,359.1 427.7,358.6 430.2,358.2 432.7,357.8 435.2,357.6 437.7,357.4 440.2,357.2 442.7,357.2 445.2,357.2 447.7,357.3 450.2,357.4 452.7,357.7 455.2,358.0 457.7,358.4 460.2,358.8 462.7,359.4 465.2,360.0 467.7,360.7 470.2,361.5 472.7,362.3 475.2,363.2 477.7,364.2 480.2,365.3 482.7,366.5 485.2,367.7 487.7,369.0 490.2,370.4 492.7,371.8 495.2,373.4 497.7,375.0 500.2,376.6 502.7,378.4 505.2,380.2 507.7,382.1 510.2,384.1 512.7,386.1 515.2,388.3 517.7,390.4 520.2,392.7 522.7,395.0 525.2,397.4 527.7,399.9 530.2,402.5 532.7,405.1 535.2,407.8 537.7,410.5 540.2,413.3 542.7,416.2 545.2,419.1 547.7,422.0 550.2,425.0 552.7,428.1 555.2,431.2 557.7,434.3 560.2,437.4 562.7,440.6 565.2,443.8 567.7,447.1 570.2,450.3 572.7,453.6 575.2,456.9 577.7,460.2 580.2,463.5 582.7,466.9 585.2,470.2 587.7,473.6 590.2,477.0 592.7,480.4 595.2,483.7 597.7,487.1 600.2,490.5 602.7,494.0 605.2,497.4 607.7,500.8 610.2,504.3 612.7,507.7 615.2,511.2 617.7,514.6 620.2,518.1 622.7,521.6 625.2,525.0 627.7,528.5 630.2,532.0 632.7,535.5 635.2,539.0 637.7,542.4 640.2,545.9 642.7,549.4 645.2,552.9 647.7,556.3 650.2,559.8 652.7,563.2 655.2,566.7 657.7,570.1 660.2,573.5 662.7,576.9 665.2,580.3 667.7,583.7 670.2,587.1 672.7,590.5 675.2,593.8 677.7,597.2 680.2,600.5 682.7,603.8 685.2,607.1 687.7,610.3 690.2,613.6 692.7,616.8 695.2,620.0 697.7,623.2 700.2,626.3 702.7,629.5 705.2,632.6 707.7,635.7 710.2,638.8 712.7,641.8 715.2,644.8 717.7,647.8 720.2,650.8 722.7,653.7 725.2,656.6 727.7,659.5 730.2,662.4 732.7,665.2 735.2,668.0 737.7,670.8 740.2,673.6 742.7,676.3 745.2,679.0 747.7,681.7 750.2,684.3 752.7,686.9 755.2,689.5 757.7,692.1 760.2,694.6 762.7,697.1 765.2,699.6 767.7,702.0 770.2,704.5 772.7,706.9 775.2,709.3 777.7,711.7 780.2,714.0 782.7,716.4 785.2,718.7 787.7,721.0 790.2,723.3 792.7,725.5 795.2,727.8 797.7,730.0 800.2,732.2 802.7,734.3 805.2,736.5 807.7,738.6 810.2,740.7 812.7,742.8 815.2,744.9 817.7,746.9 820.2,749.0 822.7,751.0 825.2,753.0 827.7,755.0 830.2,756.9 832.7,758.9 835.2,760.8 837.7,762.7 840.2,764.6 842.7,766.4 845.2,768.3 847.7,770.1 850.2,771.9 852.7,773.7 855.2,775.5 857.7,777.2 860.2,779.0 862.7,780.7 865.2,782.4 867.7,784.1 870.2,785.7 872.7,787.4 875.2,789.0 877.7,790.6 880.2,792.2 882.7,793.8 885.2,795.4 887.7,796.9 890.2,798.5 892.7,800.0 895.2,801.5 897.7,803.0 900.2,804.4 902.7,805.9 905.2,807.3 907.7,808.8 910.2,810.2 912.7,811.6 915.2,812.9 917.7,814.3 920.2,815.6 922.7,817.0 925.2,818.3 927.7,819.6 930.2,820.9 932.7,822.1 935.2,823.4 937.7,824.6 940.2,825.8 942.7,827.0 945.2,828.2 947.7,829.4 950.2,830.6 952.7,831.7 955.2,832.9 957.7,834.0 960.2,835.1 962.7,836.2 965.2,837.3 967.7,838.3 970.2,839.4 972.7,840.4 975.2,841.5 977.7,842.5 980.2,843.5 982.7,844.5 985.2,845.5 987.7,846.5 990.2,847.4 992.7,848.4 995.2,849.3 997.7,850.3 1000.2,851.2 1002.7,852.1 1005.2,853.0 1007.7,853.9 1010.2,854.8 1012.7,855.7 1015.2,856.6 1017.7,857.4 1020.2,858.3 1022.7,859.1 1025.2,860.0 1027.7,860.8 1030.2,861.6 1032.7,862.5 1035.2,863.3 1037.7,864.1 1040.2,864.9 1042.7,865.7 1045.2,866.4 1047.7,867.2 1050.2,868.0 1052.7,868.7 1055.2,869.5 1057.7,870.2 1060.2,871.0 1062.7,871.7 1065.2,872.4 1067.7,873.1 1070.2,873.9 1072.7,874.6 1075.2,875.3 1077.7,875.9 1080.2,876.6 1082.7,877.3 1085.2,878.0 1087.7,878.6 1090.2,879.3 1092.7,880.0 1095.2,880.6 1097.7,881.2 1100.2,881.9 1102.7,882.5 1105.2,883.1 1107.7,883.8 1110.2,884.4 1112.7,885.1 1115.2,885.7 1117.7,886.3 1120.2,887.0 1122.7,887.6 1125.2,888.2 1127.7,888.9 1130.2,889.5 1132.7,890.1 1135.2,890.7 1137.7,891.3 1140.2,891.9 1142.7,892.4 1145.2,893.0 1147.7,893.6 1150.2,894.1 1152.7,894.7 1155.2,895.2 1157.7,895.7 1160.2,896.2 1162.7,896.7 1165.2,897.1 1167.7,897.6 1170.2,898.0 1172.7,898.4 1175.2,898.9 1177.7,899.3 1180.2,899.7 1182.7,900.1 1185.2,900.5 1187.7,900.9 1190.2,901.2 1192.7,901.6 1195.2,902.0 1197.7,902.3 1200.2,902.6 1202.7,903.0 1205.2,903.3 1207.7,903.6 1210.2,903.9 1212.7,904.2 1215.2,904.5 1217.7,904.8 1220.2,905.1 1222.7,905.4 1225.2,905.6 1227.7,905.9 1230.2,906.1 1232.7,906.3 1235.2,906.6 1237.7,906.8 1240.2,907.0 1242.7,907.2 1245.2,907.4 1247.7,907.5 1250.2,907.7 1252.7,907.9 1255.2,908.0 1257.7,908.2 1260.2,908.3 1262.7,908.4 1265.2,908.5 1267.7,908.6 1270.2,908.3 1272.7,907.5 1275.2,906.2 1277.7,904.4" stroke="#CC9900" stroke-width="5.7"/>
<path d="M182.7,855.8 185.2,855.5 187.7,855.0 190.2,854.4 192.7,853.8 195.2,853.0 197.7,852.2 200.2,851.1 202.7,849.8 205.2,848.3 207.7,846.6 210.2,844.5 212.7,842.2 215.2,839.5 217.7,836.5 220.2,833.1 222.7,829.2 225.2,825.0 227.7,820.4 230.2,815.3 232.7,809.7 235.2,803.6 237.7,797.0 240.2,789.9 242.7,782.3 245.2,774.0 247.7,765.3 250.2,756.1 252.7,746.5 255.2,736.6 257.7,726.4 260.2,716.0 262.7,705.5 265.2,694.9 267.7,684.2 270.2,673.6 272.7,663.1 275.2,652.8 277.7,642.6 280.2,632.7 282.7,623.0 285.2,613.6 287.7,604.4 290.2,595.4 292.7,586.6 295.2,578.1 297.7,569.7 300.2,561.5 302.7,553.5 305.2,545.7 307.7,538.0 310.2,530.5 312.7,523.1 315.2,515.8 317.7,508.8 320.2,501.9 322.7,495.1 325.2,488.6 327.7,482.2 330.2,476.0 332.7,470.0 335.2,464.2 337.7,458.6 340.2,453.2 342.7,448.1 345.2,443.3 347.7,438.6 350.2,434.1 352.7,429.8 355.2,425.6 357.7,421.6 360.2,417.8 362.7,414.1 365.2,410.5 367.7,407.1 370.2,403.8 372.7,400.7 375.2,397.7 377.7,394.9 380.2,392.2 382.7,389.6 385.2,387.2 387.7,384.9 390.2,382.7 392.7,380.6 395.2,378.7 397.7,376.9 400.2,375.1 402.7,373.5 405.2,372.1 407.7,370.7 410.2,369.4 412.7,368.3 415.2,367.2 417.7,366.2 420.2,365.4 422.7,364.6 425.2,364.0 427.7,363.4 430.2,362.9 432.7,362.5 435.2,362.2 437.7,362.0 440.2,361.8 442.7,361.7 445.2,361.7 447.7,361.8 450.2,362.0 452.7,362.2 455.2,362.5 457.7,362.8 460.2,363.2 462.7,363.7 465.2,364.3 467.7,364.9 470.2,365.6 472.7,366.3 475.2,367.1 477.7,368.0 480.2,369.0 482.7,370.0 485.2,371.1 487.7,372.2 490.2,373.5 492.7,374.7 495.2,376.1 497.7,377.5 500.2,379.0 502.7,380.6 505.2,382.2 507.7,383.9 510.2,385.7 512.7,387.6 515.2,389.5 517.7,391.5 520.2,393.5 522.7,395.6 525.2,397.8 527.7,400.0 530.2,402.2 532.7,404.4 535.2,406.7 537.7,409.1 540.2,411.4 542.7,413.9 545.2,416.3 547.7,418.8 550.2,421.3 552.7,423.9 555.2,426.5 557.7,429.1 560.2,431.8 562.7,434.5 565.2,437.2 567.7,440.0 570.2,442.8 572.7,445.6 575.2,448.5 577.7,451.4 580.2,454.4 582.7,457.3 585.2,460.4 587.7,463.4 590.2,466.5 592.7,469.6 595.2,472.8 597.7,476.0 600.2,479.2 602.7,482.5 605.2,485.8 607.7,489.1 610.2,492.4 612.7,495.7 615.2,499.0 617.7,502.3 620.2,505.7 622.7,509.0 625.2,512.3 627.7,515.7 630.2,519.0 632.7,522.4 635.2,525.7 637.7,529.1 640.2,532.4 642.7,535.8 645.2,539.1 647.7,542.5 650.2,545.8 652.7,549.1 655.2,552.5 657.7,555.8 660.2,559.1 662.7,562.4 665.2,565.7 667.7,569.0 670.2,572.3 672.7,575.5 675.2,578.8 677.7,582.0 680.2,585.3 682.7,588.5 685.2,591.7 687.7,594.9 690.2,598.0 692.7,601.2 695.2,604.3 697.7,607.4 700.2,610.5 702.7,613.6 705.2,616.6 707.7,619.6 710.2,622.6 712.7,625.6 715.2,628.6 717.7,631.5 720.2,634.4 722.7,637.3 725.2,640.2 727.7,643.0 730.2,645.9 732.7,648.7 735.2,651.5 737.7,654.2 740.2,657.0 742.7,659.7 745.2,662.4 747.7,665.1 750.2,667.7 752.7,670.3 755.2,672.9 757.7,675.5 760.2,678.1 762.7,680.6 765.2,683.2 767.7,685.7 770.2,688.1 772.7,690.6 775.2,693.0 777.7,695.4 780.2,697.8 782.7,700.2 785.2,702.5 787.7,704.9 790.2,707.2 792.7,709.5 795.2,711.8 797.7,714.0 800.2,716.2 802.7,718.4 805.2,720.6 807.7,722.8 810.2,725.0 812.7,727.1 815.2,729.2 817.7,731.3 820.2,733.4 822.7,735.5 825.2,737.5 827.7,739.5 830.2,741.5 832.7,743.5 835.2,745.5 837.7,747.5 840.2,749.4 842.7,751.3 845.2,753.2 847.7,755.1 850.2,757.0 852.7,758.8 855.2,760.7 857.7,762.5 860.2,764.3 862.7,766.1 865.2,767.8 867.7,769.6 870.2,771.3 872.7,773.1 875.2,774.8 877.7,776.5 880.2,778.1 882.7,779.8 885.2,781.5 887.7,783.1 890.2,784.7 892.7,786.3 895.2,787.9 897.7,789.5 900.2,791.0 902.7,792.6 905.2,794.1 907.7,795.6 910.2,797.1 912.7,798.6 915.2,800.1 917.7,801.5 920.2,803.0 922.7,804.4 925.2,805.8 927.7,807.2 930.2,808.6 932.7,810.0 935.2,811.3 937.7,812.7 940.2,814.0 942.7,815.3 945.2,816.7 947.7,818.0 950.2,819.2 952.7,820.5 955.2,821.7 957.7,823.0 960.2,824.2 962.7,825.4 965.2,826.6 967.7,827.8 970.2,829.0 972.7,830.1 975.2,831.3 977.7,832.4 980.2,833.5 982.7,834.6 985.2,835.7 987.7,836.7 990.2,837.8 992.7,838.8 995.2,839.9 997.7,840.9 1000.2,841.9 1002.7,842.9 1005.2,843.8 1007.7,844.8 1010.2,845.7 1012.7,846.7 1015.2,847.6 1017.7,848.5 1020.2,849.4 1022.7,850.3 1025.2,851.2 1027.7,852.1 1030.2,852.9 1032.7,853.8 1035.2,854.6 1037.7,855.5 1040.2,856.3 1042.7,857.1 1045.2,857.9 1047.7,858.7 1050.2,859.5 1052.7,860.2 1055.2,861.0 1057.7,861.7 1060.2,862.5 1062.7,863.2 1065.2,864.0 1067.7,864.7 1070.2,865.4 1072.7,866.1 1075.2,866.8 1077.7,867.5 1080.2,868.2 1082.7,868.8 1085.2,869.5 1087.7,870.2 1090.2,870.8 1092.7,871.5 1095.2,872.1 1097.7,872.7 1100.2,873.4 1102.7,874.0 1105.2,874.6 1107.7,875.2 1110.2,875.8 1112.7,876.4 1115.2,877.0 1117.7,877.6 1120.2,878.2 1122.7,878.8 1125.2,879.4 1127.7,879.9 1130.2,880.5 1132.7,881.0 1135.2,881.6 1137.7,882.1 1140.2,882.7 1142.7,883.2 1145.2,883.8 1147.7,884.3 1150.2,884.8 1152.7,885.3 1155.2,885.8 1157.7,886.3 1160.2,886.8 1162.7,887.3 1165.2,887.8 1167.7,888.3 1170.2,888.8 1172.7,889.2 1175.2,889.7 1177.7,890.2 1180.2,890.6 1182.7,891.1 1185.2,891.5 1187.7,892.0 1190.2,892.4 1192.7,892.9 1195.2,893.3 1197.7,893.8 1200.2,894.2 1202.7,894.6 1205.2,895.0 1207.7,895.4 1210.2,895.8 1212.7,896.2 1215.2,896.6 1217.7,897.0 1220.2,897.4 1222.7,897.7 1225.2,898.1 1227.7,898.5 1230.2,898.8 1232.7,899.1 1235.2,899.4 1237.7,899.8 1240.2,900.1 1242.7,900.4 1245.2,900.6 1247.7,900.9 1250.2,901.2 1252.7,901.4 1255.2,901.7 1257.7,901.9 1260.2,902.1 1262.7,902.3 1265.2,902.5 1267.7,902.7 1270.2,902.5 1272.7,901.8 1275.2,900.6 1277.7,898.9" stroke="#00CBCC" stroke-width="5.7"/>
</g>
<line x1="402" y1="256.2" x2="788.0" y2="247.6" stroke="#343434" stroke-width="1.2"/><polygon points="808,247.2 785.1,252.9 784.9,242.5" fill="#000"/>
<line x1="619" y1="320" x2="904.0" y2="334.0" stroke="#343434" stroke-width="1.2"/><polygon points="924,335 900.8,339.1 901.3,328.7" fill="#000"/>
<line x1="490" y1="347.2" x2="843.1" y2="375.4" stroke="#343434" stroke-width="1.2"/><polygon points="863,377 839.7,380.4 840.5,370.0" fill="#000"/>
<line x1="441" y1="415" x2="781.0" y2="432.0" stroke="#343434" stroke-width="1.2"/><polygon points="801,433 777.8,437.0 778.3,426.7" fill="#000"/>
<line x1="434.4" y1="383" x2="864.6" y2="491.1" stroke="#343434" stroke-width="1.2"/><polygon points="884,496 860.4,495.4 863.0,485.4" fill="#000"/>
<g class="tk">
<text x="163.3" y="954.4" text-anchor="end">0</text>
<text x="163.3" y="866.2" text-anchor="end">200</text>
<text x="163.3" y="777.9" text-anchor="end">400</text>
<text x="163.3" y="689.6" text-anchor="end">600</text>
<text x="163.3" y="601.4" text-anchor="end">800</text>
<text x="163.3" y="513.1" text-anchor="end">1000</text>
<text x="163.3" y="424.9" text-anchor="end">1200</text>
<text x="163.3" y="336.6" text-anchor="end">1400</text>
<text x="163.3" y="248.3" text-anchor="end">1600</text>
<text x="163.3" y="160.1" text-anchor="end">1800</text>
<text x="163.3" y="71.8" text-anchor="end">2000</text>
<text x="225.3" y="991.5" text-anchor="middle">300</text>
<text x="435.5" y="991.5" text-anchor="middle">350</text>
<text x="645.8" y="991.5" text-anchor="middle">400</text>
<text x="856.0" y="991.5" text-anchor="middle">450</text>
<text x="1066.2" y="991.5" text-anchor="middle">500</text>
<text x="1276.4" y="991.5" text-anchor="middle">550</text>
</g>
<text class="ti" x="730" y="1062" text-anchor="middle">Wavelength (nm)</text>
<text class="ti" transform="translate(57,501) rotate(-90)" text-anchor="middle">Fluorescence intensity (a.u.)</text>
<g class="an">
<text x="816.3" y="260.5" style="fill:#0000ff;stroke:#0000ff">20eq L-Phe</text>
<text x="936.3" y="343" style="fill:#ff2a2a;stroke:#ff2a2a">20eq L-Lys</text>
<text x="875.3" y="390" style="fill:#ff0000;stroke:#ff0000">20eq D-Lys</text>
<text x="810.6" y="445" style="fill:#000;stroke:#000">(<tspan font-style="italic" dx="0.6">R</tspan><tspan dx="2.2">)</tspan><tspan dx="1">-</tspan><tspan dx="0.8" style="stroke-width:1.3px">1</tspan></text>
<text x="891.3" y="511" style="fill:#0000ff;stroke:#0000ff">20eq D-Phe</text>
</g>
</g>
</svg></body></html>
